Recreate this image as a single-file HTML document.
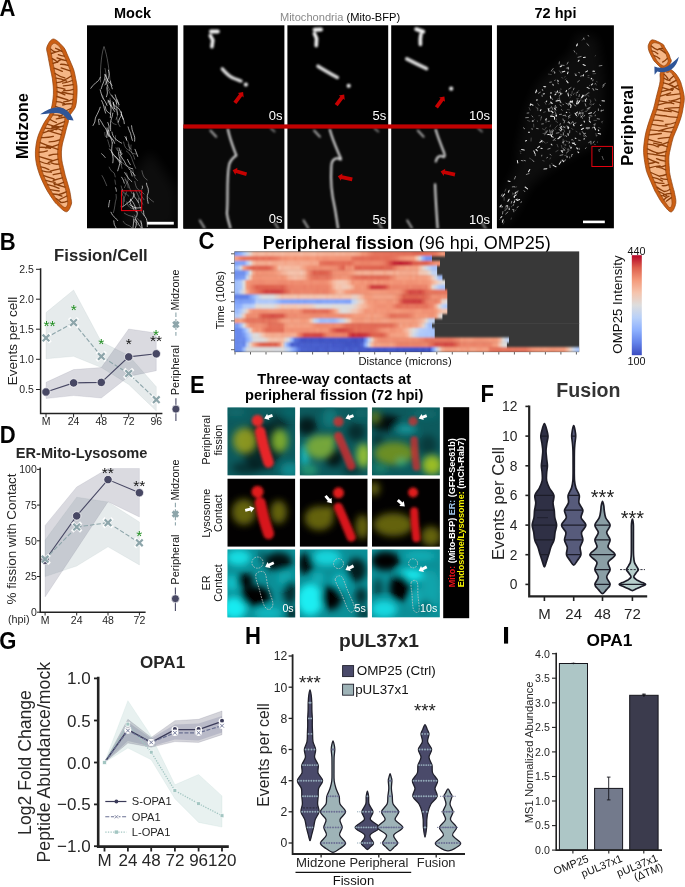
<!DOCTYPE html>
<html><head><meta charset="utf-8"><title>Figure</title>
<style>
html,body{margin:0;padding:0;background:#fff;}
body{width:685px;height:887px;overflow:hidden;font-family:"Liberation Sans",sans-serif;}
svg{display:block;font-family:"Liberation Sans",sans-serif;}
</style></head><body>
<svg width="685" height="887" viewBox="0 0 685 887">
<rect width="685" height="887" fill="#fff"/>
<g opacity="0.999">
<defs><filter id="b1" x="-20%" y="-20%" width="140%" height="140%"><feGaussianBlur stdDeviation="0.9"/></filter><filter id="b05" x="-20%" y="-20%" width="140%" height="140%"><feGaussianBlur stdDeviation="0.85"/></filter><filter id="b6" x="-30%" y="-30%" width="160%" height="160%"><feGaussianBlur stdDeviation="6"/></filter><clipPath id="cMock"><rect x="87" y="25.3" width="90.8" height="203"/></clipPath><clipPath id="c72"><rect x="496.9" y="25.3" width="117" height="203"/></clipPath><clipPath id="cTL"><rect x="183.4" y="25.3" width="308.6" height="203.3"/></clipPath></defs>
<text transform="translate(-0.47,15.9) scale(0.92,1)" font-size="24" font-weight="bold" fill="#000">A</text>
<text x="132.5" y="17.5" font-size="14.5" font-weight="bold" text-anchor="middle" fill="#000">Mock</text>
<text x="555.5" y="17.5" font-size="14.5" font-weight="bold" text-anchor="middle" fill="#000">72 hpi</text>
<text x="28.1" y="126" font-size="16.5" font-weight="bold" text-anchor="middle" fill="#000" transform="rotate(-90 28.1 126)">Midzone</text>
<text x="633.1" y="125.5" font-size="16.5" font-weight="bold" text-anchor="middle" fill="#000" transform="rotate(-90 633.1 125.5)">Peripheral</text>
<text x="279.9" y="21.2" font-size="11.1"><tspan fill="#8a8a8a">Mitochondria</tspan> <tspan fill="#000">(Mito-BFP)</tspan></text>
<path d="M53.4,39.0C56.2,39.0 61.1,44.4 63.5,47.1C65.8,49.8 66.3,52.5 67.5,55.0C68.7,57.5 69.5,59.6 70.6,62.1C71.6,64.6 73.0,67.3 73.8,70.0C74.6,72.7 75.1,75.5 75.6,78.2C76.1,80.9 76.8,83.3 77.0,86.0C77.2,88.7 77.1,91.5 77.0,94.2C76.9,96.9 76.7,99.7 76.4,102.0C76.1,104.3 75.8,106.2 75.0,108.0C74.2,109.8 72.5,111.5 71.5,113.0C70.5,114.5 69.3,115.5 68.8,117.0C68.3,118.5 68.7,120.0 68.3,122.0C67.9,124.0 66.9,126.6 66.3,129.0C65.7,131.4 65.2,133.8 64.5,136.3C63.9,138.8 62.9,141.4 62.4,144.0C61.9,146.6 61.5,149.2 61.4,151.9C61.3,154.6 61.5,157.4 61.8,160.0C62.1,162.6 62.8,164.9 63.4,167.4C64.0,169.9 64.5,172.6 65.2,175.2C65.9,177.8 66.8,180.4 67.5,183.0C68.2,185.6 69.1,188.2 69.7,190.8C70.3,193.4 70.7,196.2 71.0,198.5C71.3,200.8 72.1,202.3 71.3,204.5C70.5,206.7 68.7,211.8 66.3,211.8C63.9,211.8 59.4,206.7 57.0,204.5C54.6,202.3 53.8,200.8 52.2,198.5C50.6,196.2 48.7,193.4 47.2,190.8C45.7,188.2 44.4,185.6 43.2,183.0C42.0,180.4 40.8,177.8 39.8,175.2C38.8,172.6 38.0,169.9 37.3,167.4C36.6,164.9 36.1,162.6 35.8,160.0C35.5,157.4 35.3,154.6 35.4,151.9C35.5,149.2 35.8,146.6 36.2,144.0C36.6,141.4 37.2,138.8 38.0,136.3C38.8,133.8 39.9,131.4 41.0,129.0C42.1,126.6 43.4,124.0 44.6,122.0C45.8,120.0 47.1,118.5 48.0,117.0C48.9,115.5 49.6,114.5 50.2,113.0C50.8,111.5 51.0,109.8 51.4,108.0C51.8,106.2 52.3,104.3 52.6,102.0C52.9,99.7 53.3,96.9 53.4,94.2C53.5,91.5 53.4,88.7 53.2,86.0C53.0,83.3 52.7,80.9 52.3,78.2C51.9,75.5 51.1,72.7 50.6,70.0C50.1,67.3 49.6,64.6 49.1,62.1C48.6,59.6 48.2,57.5 47.8,55.0C47.4,52.5 46.0,49.8 46.9,47.1C47.8,44.4 50.6,39.0 53.4,39.0Z" fill="#cb5f14" stroke="#8c3e0a" stroke-width="0.7"/>
<path d="M54.4,43.3C55.9,43.3 58.1,45.1 59.7,47.1C61.3,49.1 62.5,52.5 63.7,55.0C64.9,57.5 65.8,59.6 66.8,62.1C67.8,64.6 69.2,67.3 70.0,70.0C70.8,72.7 71.3,75.5 71.8,78.2C72.3,80.9 73.0,83.3 73.2,86.0C73.4,88.7 73.3,91.5 73.2,94.2C73.1,96.9 72.9,99.7 72.6,102.0C72.3,104.3 72.0,106.2 71.2,108.0C70.4,109.8 68.7,111.5 67.7,113.0C66.7,114.5 65.5,115.5 65.0,117.0C64.5,118.5 64.9,120.0 64.5,122.0C64.1,124.0 63.1,126.6 62.5,129.0C61.9,131.4 61.4,133.8 60.7,136.3C60.1,138.8 59.1,141.4 58.6,144.0C58.1,146.6 57.7,149.2 57.6,151.9C57.5,154.6 57.7,157.4 58.0,160.0C58.3,162.6 59.0,164.9 59.6,167.4C60.2,169.9 60.7,172.6 61.4,175.2C62.1,177.8 63.0,180.4 63.7,183.0C64.5,185.6 65.3,188.2 65.9,190.8C66.5,193.4 66.9,196.2 67.2,198.5C67.5,200.8 67.9,203.0 67.5,204.5C67.1,206.0 66.2,207.6 65.1,207.6C63.9,207.6 62.3,206.0 60.8,204.5C59.3,203.0 57.6,200.8 56.0,198.5C54.4,196.2 52.5,193.4 51.0,190.8C49.5,188.2 48.2,185.6 47.0,183.0C45.8,180.4 44.6,177.8 43.6,175.2C42.6,172.6 41.8,169.9 41.1,167.4C40.4,164.9 39.9,162.6 39.6,160.0C39.3,157.4 39.1,154.6 39.2,151.9C39.3,149.2 39.6,146.6 40.0,144.0C40.4,141.4 41.0,138.8 41.8,136.3C42.6,133.8 43.7,131.4 44.8,129.0C45.9,126.6 47.2,124.0 48.4,122.0C49.6,120.0 50.9,118.5 51.8,117.0C52.7,115.5 53.4,114.5 54.0,113.0C54.6,111.5 54.8,109.8 55.2,108.0C55.6,106.2 56.1,104.3 56.4,102.0C56.7,99.7 57.1,96.9 57.2,94.2C57.3,91.5 57.2,88.7 57.0,86.0C56.8,83.3 56.5,80.9 56.1,78.2C55.7,75.5 54.9,72.7 54.4,70.0C53.9,67.3 53.4,64.6 52.9,62.1C52.4,59.6 52.0,57.5 51.6,55.0C51.2,52.5 50.2,49.1 50.7,47.1C51.2,45.1 52.9,43.3 54.4,43.3Z" fill="#f5b686" stroke="#8c3e0a" stroke-width="0.6"/>
<path d="M50.9,49.1q2.3,2.5 4.7,2.9M61.9,51.4q-3.1,-2.1 -6.3,-3.1M51.4,53.5q4.1,-1.6 8.3,-2.6M64.2,56.2q-2.9,-0.2 -5.9,-1.5M52.3,58.7q2.7,1.3 5.5,3.7M66.2,60.6q-4.6,-0.8 -9.2,-2.7M53.1,63.4q3.7,-0.8 7.5,-3.8M68.1,65.4q-3.8,-1.2 -7.6,-1.1M54.1,68.2q4.1,1.4 8.2,3.2M70.2,70.8q-4.6,-1.2 -9.1,-2.9M55.1,73.5q4.8,3.3 9.7,4.3M71.3,76.0q-3.5,2.5 -7.1,4.0M56.1,78.1q5.2,0.6 10.5,3.0M72.2,80.5q-4.8,2.1 -9.6,2.7M56.6,82.7q3.6,-0.1 7.2,-2.0M73.0,84.7q-4.8,0.7 -9.6,1.2M57.0,87.4q4.0,0.5 7.9,1.8M73.2,89.4q-4.8,1.7 -9.5,1.1M57.1,91.5q3.9,1.3 7.8,3.4M73.2,94.3q-5.5,-0.3 -11.0,-2.3M57.0,96.5q5.4,2.0 10.9,3.4M72.8,99.3q-4.5,2.3 -9.1,2.5M56.4,101.6q3.9,-0.1 7.8,2.1M72.2,103.9q-4.7,-0.5 -9.5,1.1M55.5,106.3q4.4,2.0 8.8,3.4M70.9,108.5q-4.4,2.6 -8.8,3.1M54.6,110.6q4.0,0.8 8.1,3.1M67.9,112.7q-4.5,1.5 -8.9,4.0M53.0,114.9q4.4,0.1 8.7,1.1M65.0,117.0q-4.3,1.3 -8.7,1.8M50.1,119.5q3.2,2.0 6.3,3.1M64.5,121.6q-5.2,1.8 -10.5,4.4M47.3,124.1q5.7,2.0 11.3,2.6M63.4,126.0q-6.0,1.9 -12.0,2.1M45.2,128.2q5.8,0.9 11.6,1.3M62.1,130.5q-5.1,-2.4 -10.2,-4.0M43.3,132.8q4.9,-2.0 9.8,-2.4M61.1,134.7q-6.5,-1.9 -13.1,-4.1M41.5,137.5q5.9,0.3 11.9,-1.1M59.7,139.9q-5.3,1.9 -10.6,2.0M40.3,142.6q6.3,2.9 12.6,4.4M58.5,144.6q-6.4,2.7 -12.8,3.4M39.7,147.3q5.4,-0.3 10.8,1.0M57.9,149.4q-5.7,-2.5 -11.3,-2.8M39.2,152.2q4.0,0.0 8.0,-1.4M57.7,154.1q-4.3,-0.1 -8.7,1.4M39.4,156.7q6.4,1.9 12.8,3.8M58.0,159.1q-4.9,1.3 -9.7,3.6M39.9,161.5q4.9,2.2 9.9,2.7M58.9,164.1q-3.8,0.6 -7.7,-1.2M41.0,166.8q4.0,0.6 7.9,2.8M59.9,168.8q-4.8,0.8 -9.6,2.4M42.2,170.8q4.6,1.2 9.2,1.4M60.9,173.1q-3.8,0.7 -7.7,1.6M43.8,175.6q5.1,1.9 10.2,3.2M62.2,177.8q-4.5,1.2 -9.0,2.7M45.9,180.4q4.7,1.4 9.3,1.9M63.5,182.3q-4.5,2.3 -9.0,2.5M47.8,184.6q5.6,1.0 11.2,3.8M64.9,187.1q-5.5,-1.4 -11.0,-3.6M50.4,189.6q4.4,0.6 8.8,1.4M66.1,191.8q-3.8,1.8 -7.6,2.8M53.1,194.0q4.4,-0.0 8.8,2.2M66.8,196.0q-3.4,1.9 -6.9,3.4M56.1,198.6q2.3,0.9 4.6,3.7M67.3,201.2q-3.2,1.5 -6.4,1.2" fill="none" stroke="#8c3e0a" stroke-width="1.35" stroke-linecap="round"/>
<path d="M40.2,114.2 C46,110 52,107.2 58,107.2 C65,107.5 71,112.5 73.6,120.6 L67.4,119.8 C65,115.5 61.5,113.2 57,113 C51,112.8 46,114.4 40.2,114.2Z" fill="#2f5597"/>
<path d="M652.5,39.8C654.8,39.8 660.5,42.8 662.5,44.0C664.5,45.2 663.9,45.9 664.6,47.0C665.3,48.1 666.1,49.3 666.8,50.5C667.5,51.7 668.3,52.8 668.9,54.0C669.5,55.2 669.9,56.7 670.2,58.0C670.6,59.3 672.0,60.1 671.0,62.0C670.0,63.9 667.2,69.5 664.5,69.5C661.8,69.5 657.0,63.9 655.0,62.0C653.0,60.1 653.2,59.3 652.4,58.0C651.6,56.7 650.9,55.2 650.3,54.0C649.7,52.8 649.1,51.7 648.8,50.5C648.4,49.3 648.2,48.1 648.2,47.0C648.2,45.9 648.1,45.2 648.8,44.0C649.5,42.8 650.2,39.8 652.5,39.8Z" fill="#cb5f14" stroke="#8c3e0a" stroke-width="0.7"/>
<path d="M654.7,42.7C655.9,42.7 658.3,43.3 659.5,44.0C660.7,44.7 660.9,45.9 661.6,47.0C662.3,48.1 663.1,49.3 663.8,50.5C664.5,51.7 665.3,52.8 665.9,54.0C666.5,55.2 666.9,56.7 667.2,58.0C667.6,59.3 668.6,60.7 668.0,62.0C667.4,63.3 665.5,66.0 663.8,66.0C662.1,66.0 659.4,63.3 658.0,62.0C656.6,60.7 656.2,59.3 655.4,58.0C654.6,56.7 653.9,55.2 653.3,54.0C652.7,52.8 652.1,51.7 651.8,50.5C651.4,49.3 651.2,48.1 651.2,47.0C651.2,45.9 651.2,44.7 651.8,44.0C652.4,43.3 653.4,42.7 654.7,42.7Z" fill="#f5b686" stroke="#8c3e0a" stroke-width="0.6"/>
<path d="M651.4,46.0q2.8,2.6 5.7,3.6M662.6,48.6q-2.7,-0.3 -5.3,1.2M652.0,50.9q2.9,0.3 5.8,2.9M665.3,53.0q-3.0,-2.9 -6.1,-4.2M654.2,55.6q2.7,0.7 5.5,3.2M667.3,58.4q-2.3,2.7 -4.7,3.7" fill="none" stroke="#8c3e0a" stroke-width="1.35" stroke-linecap="round"/>
<path d="M667.0,68.2C669.3,68.2 672.4,70.3 674.5,72.3C676.6,74.3 678.5,77.6 679.8,80.0C681.0,82.4 681.2,83.7 682.0,86.6C682.8,89.5 684.1,93.9 684.3,97.6C684.5,101.3 683.5,105.3 683.0,108.6C682.5,111.9 682.0,114.2 681.0,117.5C680.0,120.8 678.3,125.2 677.0,128.5C675.7,131.8 674.4,134.0 673.3,137.3C672.2,140.6 671.2,145.0 670.5,148.3C669.8,151.6 669.1,153.7 668.9,157.0C668.7,160.3 669.1,165.2 669.3,168.1C669.5,171.0 669.4,171.4 670.0,174.7C670.6,178.0 672.5,185.0 673.2,187.9C673.9,190.8 674.0,189.7 674.4,192.3C674.8,194.9 676.4,200.0 675.8,203.3C675.2,206.6 673.2,212.0 671.0,212.0C668.8,212.0 664.9,206.6 662.3,203.3C659.7,200.0 657.1,194.9 655.6,192.3C654.1,189.7 654.8,190.8 653.5,187.9C652.2,185.0 649.1,178.0 647.8,174.7C646.5,171.4 646.4,171.0 645.8,168.1C645.2,165.2 644.4,160.3 644.0,157.0C643.6,153.7 643.5,151.6 643.6,148.3C643.8,145.0 644.4,140.6 644.9,137.3C645.4,134.0 646.0,131.8 646.9,128.5C647.8,125.2 649.3,120.8 650.4,117.5C651.5,114.2 652.5,111.9 653.5,108.6C654.5,105.3 655.3,101.3 656.2,97.6C657.1,93.9 658.3,89.5 659.0,86.6C659.7,83.7 660.0,82.4 660.2,80.0C660.5,77.6 659.4,74.3 660.5,72.3C661.6,70.3 664.7,68.2 667.0,68.2Z" fill="#cb5f14" stroke="#8c3e0a" stroke-width="0.7"/>
<path d="M667.5,72.6C668.6,72.6 669.3,71.1 670.7,72.3C672.1,73.5 674.8,77.6 676.0,80.0C677.2,82.4 677.5,83.7 678.2,86.6C679.0,89.5 680.3,93.9 680.5,97.6C680.7,101.3 679.8,105.3 679.2,108.6C678.7,111.9 678.2,114.2 677.2,117.5C676.2,120.8 674.5,125.2 673.2,128.5C671.9,131.8 670.6,134.0 669.5,137.3C668.4,140.6 667.4,145.0 666.7,148.3C666.0,151.6 665.3,153.7 665.1,157.0C664.9,160.3 665.3,165.2 665.5,168.1C665.7,171.0 665.6,171.4 666.2,174.7C666.9,178.0 668.7,185.0 669.4,187.9C670.1,190.8 670.2,189.7 670.6,192.3C671.0,194.9 672.1,200.7 672.0,203.3C671.9,205.9 671.0,207.7 670.0,207.7C669.1,207.7 667.9,205.9 666.1,203.3C664.3,200.7 660.9,194.9 659.4,192.3C657.9,189.7 658.6,190.8 657.3,187.9C656.0,185.0 652.9,178.0 651.6,174.7C650.3,171.4 650.2,171.0 649.6,168.1C649.0,165.2 648.2,160.3 647.8,157.0C647.4,153.7 647.2,151.6 647.4,148.3C647.5,145.0 648.1,140.6 648.7,137.3C649.2,134.0 649.8,131.8 650.7,128.5C651.6,125.2 653.1,120.8 654.2,117.5C655.3,114.2 656.3,111.9 657.3,108.6C658.3,105.3 659.1,101.3 660.0,97.6C660.9,93.9 662.1,89.5 662.8,86.6C663.5,83.7 663.8,82.4 664.0,80.0C664.2,77.6 663.7,73.5 664.3,72.3C664.9,71.1 666.5,72.6 667.5,72.6Z" fill="#f5b686" stroke="#8c3e0a" stroke-width="0.6"/>
<path d="M664.2,74.3q1.9,1.4 3.7,4.4M673.4,76.2q-2.1,1.7 -4.1,3.8M664.1,78.2q3.0,2.1 5.9,2.4M676.1,80.4q-3.4,1.9 -6.8,3.7M663.5,82.8q4.6,0.8 9.3,3.5M677.8,85.4q-3.9,2.3 -7.7,3.9M662.5,87.6q4.9,1.6 9.9,2.7M678.8,89.6q-3.5,-1.7 -7.1,-4.3M661.5,91.7q6.0,-1.8 12.0,-2.6M679.7,93.9q-6.4,0.8 -12.8,1.5M660.4,96.1q5.1,-1.6 10.2,-3.3M680.4,98.1q-4.6,2.2 -9.2,2.9M659.2,100.8q7.2,0.8 14.5,2.9M679.9,102.7q-5.4,-1.6 -10.8,-1.9M658.2,104.9q6.7,-2.2 13.4,-2.5M679.3,107.6q-7.3,0.1 -14.6,1.1M657.0,109.5q7.1,1.3 14.2,2.2M678.4,112.3q-5.0,-1.7 -9.9,-3.0M655.2,114.7q5.6,1.1 11.2,1.3M677.3,117.3q-6.5,-0.3 -13.1,-1.5M653.4,120.1q4.8,0.1 9.6,1.1M675.4,122.5q-5.0,2.1 -10.0,2.0M652.0,124.4q7.6,1.8 15.1,1.7M673.7,127.1q-7.4,1.2 -14.9,3.9M650.4,129.9q6.0,0.6 12.0,1.3M671.6,132.2q-4.9,-0.4 -9.8,-1.4M649.3,134.8q6.0,-0.5 12.0,-1.3M669.5,137.4q-5.7,0.5 -11.3,1.2M648.5,139.4q6.5,2.1 13.0,3.5M668.3,142.1q-5.7,2.2 -11.5,4.4M647.9,144.2q5.2,0.2 10.4,2.8M667.1,146.7q-6.7,-2.5 -13.5,-3.6M647.4,148.9q5.5,2.9 11.0,4.4M666.1,151.4q-4.7,1.7 -9.3,2.1M647.6,153.6q6.1,0.6 12.1,1.7M665.3,156.0q-6.1,-0.6 -12.2,-1.7M648.1,158.7q5.3,2.9 10.6,4.3M665.2,161.1q-4.3,-0.5 -8.7,-2.5M648.9,163.5q3.5,-0.2 7.0,-1.6M665.4,165.6q-4.3,1.9 -8.7,1.4M649.5,167.8q5.3,-1.6 10.6,-1.9M665.7,169.9q-3.7,-2.0 -7.5,-2.8M650.9,172.5q4.4,1.9 8.9,3.9M666.2,174.5q-3.2,1.3 -6.4,1.3M652.7,177.3q4.9,0.7 9.8,3.8M667.3,179.4q-3.3,0.2 -6.6,-1.3M654.8,182.1q4.6,1.5 9.2,1.3M668.6,184.6q-3.2,1.4 -6.4,1.1M656.9,187.1q3.2,2.5 6.3,3.9M669.8,189.5q-3.0,2.1 -5.9,2.0M659.0,191.5q3.9,1.9 7.8,4.2M670.8,193.5q-3.6,-0.2 -7.3,1.5M661.4,195.6q2.4,-0.1 4.7,1.6M671.3,197.6q-2.5,1.9 -5.0,3.6M663.9,199.8q2.6,-2.7 5.2,-3.6" fill="none" stroke="#8c3e0a" stroke-width="1.35" stroke-linecap="round"/>
<path d="M654.4,66.5 C659,68.5 664,68.3 668,66 C672.5,63.3 675.5,60 678.9,56.8 C677.8,62 675.4,66.8 671.4,69.6 C666.8,72.6 661,72.6 657.3,71.6 L654.6,74.8Z" fill="#2f5597"/>
<rect x="87" y="25.3" width="90.8" height="203" fill="#000"/>
<g clip-path="url(#cMock)">
<polygon points="150,150 177,190 177,228 120,228 125,190" fill="#fff" opacity="0.05" filter="url(#b6)"/>
<path d="M100.5,82 C100,65 102,52 104,46.5 C106,52 108.5,62 110,80M109.0,135.3C109.3,135.7 110.2,136.9 110.9,137.7C111.5,138.5 112.5,139.7 112.8,140.1M117.2,147.6C117.3,147.9 117.7,148.7 117.8,149.2C118.0,149.8 118.1,150.7 118.2,151.0M105.4,78.4C105.6,79.0 106.2,81.0 106.6,82.3C107.1,83.7 107.4,85.0 108.0,86.3C108.5,87.6 109.5,89.4 109.8,90.0M112.2,101.4C112.5,101.9 113.4,103.6 113.9,104.8C114.4,106.0 114.7,107.3 115.2,108.5C115.7,109.7 116.6,110.7 117.0,111.9C117.3,113.1 117.6,114.5 117.4,115.8C117.3,117.0 116.2,118.7 116.0,119.3M112.5,154.7C113.0,155.2 114.3,156.6 115.2,157.5C116.2,158.4 117.3,159.2 118.3,160.0C119.4,160.8 120.5,161.4 121.6,162.2C122.6,163.0 123.7,163.8 124.7,164.6C125.7,165.4 127.3,166.6 127.8,167.0M102.0,175.6C102.3,176.1 103.3,177.7 103.8,178.8C104.4,179.9 104.8,181.1 105.3,182.3C105.8,183.4 106.5,185.1 106.7,185.7M134.8,181.4C135.0,182.1 135.3,184.1 135.7,185.4C136.2,186.7 136.7,188.1 137.6,189.1C138.5,190.1 140.0,190.4 141.1,191.3C142.2,192.1 143.6,193.6 144.1,194.1M126.8,201.9C127.0,202.5 127.5,204.8 128.4,205.9C129.2,207.0 130.5,208.0 131.8,208.4C133.1,208.8 135.4,208.2 136.1,208.2M114.9,180.0C115.0,180.3 115.1,181.4 115.2,182.2C115.3,182.9 115.5,184.0 115.6,184.3M107.7,139.9C107.9,140.5 108.4,142.3 108.7,143.4C109.1,144.6 109.6,146.4 109.7,147.0M124.7,192.6C125.0,192.9 126.0,193.7 126.7,194.3C127.3,194.9 128.3,195.8 128.7,196.1M115.6,135.7C115.6,136.1 115.2,137.5 115.3,138.4C115.3,139.2 115.8,140.5 115.9,141.0M124.3,213.1C125.0,213.5 127.0,214.8 128.5,215.4C129.9,215.9 132.2,216.4 133.0,216.6M134.4,215.0C134.9,215.6 136.2,217.6 137.2,218.7C138.2,219.9 139.9,220.6 140.6,221.9C141.3,223.1 141.3,225.7 141.4,226.4M121.9,193.1C122.2,193.8 123.1,195.7 123.5,197.1C123.9,198.5 124.1,200.7 124.2,201.4M138.4,198.1C138.4,198.7 138.3,200.6 138.5,201.9C138.7,203.2 139.1,204.4 139.5,205.6C139.8,206.8 140.2,208.1 140.6,209.3C141.0,210.5 141.2,211.8 141.9,212.9C142.5,213.9 144.0,215.2 144.4,215.7M140.3,198.7C140.4,199.2 140.3,201.0 140.8,201.9C141.2,202.8 142.6,203.9 143.0,204.3M116.0,147.9C116.3,148.4 117.0,149.9 117.7,150.7C118.4,151.5 119.7,152.5 120.1,152.9M105.4,79.2C105.5,79.7 106.0,81.3 105.8,82.2C105.7,83.2 104.9,84.6 104.7,85.1M131.1,145.0C131.0,145.7 130.7,147.5 130.8,148.8C130.9,150.0 131.2,151.3 131.6,152.4C132.1,153.6 133.0,154.5 133.5,155.6C134.1,156.8 134.5,158.6 134.7,159.2M123.2,221.2C123.6,221.7 124.6,223.5 125.6,224.2C126.7,225.0 128.2,225.0 129.3,225.7C130.4,226.4 131.4,227.3 132.2,228.3C133.0,229.3 133.9,231.1 134.2,231.6M121.2,186.0C121.4,186.7 121.8,188.9 122.4,190.2C122.9,191.6 124.1,193.4 124.5,194.1M133.0,169.9C133.1,170.6 133.1,172.6 133.4,173.9C133.8,175.2 134.3,176.5 134.9,177.6C135.6,178.8 137.2,180.1 137.6,180.6M126.4,151.1C126.9,151.5 128.5,152.7 129.4,153.7C130.2,154.7 130.8,156.0 131.4,157.2C131.9,158.4 132.3,159.7 132.7,160.9C133.2,162.1 133.6,163.4 134.1,164.6C134.6,165.9 135.5,167.7 135.7,168.3M106.8,87.9C107.2,88.4 108.3,90.0 109.0,91.1C109.6,92.2 109.9,93.5 110.5,94.6C111.2,95.6 112.0,96.7 112.8,97.6C113.6,98.6 114.6,99.4 115.5,100.3C116.5,101.1 118.0,102.3 118.5,102.7M116.8,107.9C116.8,108.5 117.0,110.3 117.1,111.5C117.2,112.7 117.3,114.5 117.4,115.1M126.5,173.0C126.7,173.6 127.4,175.5 127.7,176.8C127.9,178.0 128.3,179.5 128.0,180.7C127.8,181.9 126.7,183.0 126.1,184.1C125.5,185.3 124.7,187.1 124.4,187.7M105.0,68.4C105.2,69.1 105.6,71.1 105.8,72.4C106.1,73.7 106.1,75.1 106.4,76.4C106.7,77.7 107.5,79.6 107.7,80.3M124.9,179.4C125.3,180.1 126.7,182.0 127.3,183.4C127.8,184.7 128.1,187.1 128.2,187.8M111.0,121.2C111.4,121.6 112.3,123.0 113.2,123.5C114.1,124.1 115.7,124.3 116.2,124.5M119.2,150.6C119.5,150.9 120.2,151.7 120.8,152.2C121.3,152.7 122.2,153.4 122.5,153.6M109.2,167.1C109.5,167.7 110.2,169.6 111.1,170.6C111.9,171.6 113.5,172.0 114.2,173.1C114.8,174.1 115.0,176.3 115.2,176.9M123.6,142.0C123.7,142.6 124.1,144.4 124.6,145.6C125.0,146.7 125.6,147.9 126.5,148.7C127.3,149.6 128.7,149.9 129.6,150.7C130.6,151.4 131.3,152.6 132.4,153.2C133.5,153.7 135.4,153.9 136.0,154.0M102.5,95.1C102.6,95.4 102.9,96.4 103.1,97.0C103.2,97.7 103.4,98.7 103.4,99.0M110.4,100.1C110.4,100.6 110.4,102.1 110.6,103.1C110.8,104.1 111.4,105.4 111.6,105.9M116.0,194.4C116.0,195.0 116.4,196.9 116.3,198.1C116.2,199.3 115.7,200.5 115.4,201.7C115.2,202.9 115.1,204.1 114.9,205.4C114.7,206.6 114.6,207.8 114.3,209.0C114.1,210.2 113.6,212.0 113.4,212.6M126.6,191.8C126.4,192.4 125.8,194.1 125.4,195.2C125.0,196.3 124.4,197.3 124.1,198.5C123.8,199.6 123.9,200.8 123.7,202.0C123.6,203.2 123.3,204.9 123.2,205.5M124.7,177.6C124.9,178.1 125.8,179.6 126.4,180.7C127.0,181.7 127.7,182.6 128.2,183.7C128.7,184.8 129.0,185.9 129.4,187.1C129.8,188.2 130.1,189.3 130.5,190.4C131.0,191.5 132.0,193.0 132.2,193.6M139.2,191.5C139.6,192.2 140.5,194.4 141.3,195.7C142.1,197.1 143.6,198.9 144.0,199.6M128.3,144.5C128.4,145.0 128.5,146.5 129.0,147.3C129.5,148.0 130.8,148.8 131.2,149.1M106.1,75.5C106.3,76.2 106.6,78.3 106.9,79.7C107.3,81.1 108.1,83.1 108.4,83.8M121.0,150.0C120.9,150.6 120.7,152.5 120.7,153.7C120.6,154.9 120.7,156.2 120.8,157.4C120.9,158.6 121.1,159.8 121.2,161.1C121.3,162.3 121.1,163.5 121.2,164.8C121.4,166.0 121.9,167.8 122.0,168.4M107.9,101.0C107.9,101.3 108.0,102.3 107.7,102.8C107.5,103.3 106.6,103.8 106.4,104.0M141.9,170.7C142.0,171.3 142.4,173.1 142.8,174.2C143.2,175.4 143.7,176.6 144.4,177.5C145.1,178.5 146.7,179.5 147.2,179.9M127.6,140.7C127.9,141.5 128.9,143.8 129.2,145.4C129.5,147.0 129.4,149.6 129.4,150.4M117.0,100.2C116.9,100.8 116.6,102.6 116.6,103.8C116.6,105.0 116.9,106.1 116.9,107.3C117.0,108.5 116.9,109.7 117.1,110.9C117.2,112.1 117.7,113.8 117.9,114.4M148.7,197.7C149.1,198.1 150.2,199.3 151.0,200.0C151.8,200.7 153.2,201.6 153.6,201.9M110.0,98.2C110.0,98.8 110.0,100.6 110.2,101.7C110.4,102.9 110.7,104.1 111.3,105.1C111.8,106.2 112.5,107.3 113.3,108.1C114.2,108.8 116.0,109.4 116.5,109.6M117.0,99.1C117.2,99.7 118.2,101.4 118.5,102.7C118.8,103.9 118.8,105.9 118.8,106.5M111.8,152.1C112.3,152.6 113.5,154.2 114.4,155.3C115.2,156.3 116.3,157.2 117.0,158.4C117.8,159.5 118.1,160.9 118.9,162.0C119.7,163.1 121.3,164.3 121.8,164.8M132.9,216.1C133.2,217.0 133.5,219.7 134.3,221.2C135.1,222.7 137.3,224.4 137.9,225.1M104.8,132.4C104.8,132.8 104.8,133.8 104.9,134.5C105.0,135.2 105.3,136.2 105.4,136.6M135.7,190.2C136.0,190.9 136.9,193.0 137.6,194.4C138.2,195.7 138.8,197.1 139.5,198.4C140.3,199.8 141.5,201.6 141.9,202.3M116.7,117.6C116.9,118.4 117.3,120.8 117.8,122.3C118.4,123.8 119.6,125.9 120.0,126.6" fill="none" stroke="#fff" stroke-width="0.6" opacity="0.5" stroke-linecap="round"/>
<path d="M100.3,77.2C100.0,77.8 99.3,79.6 98.6,80.5C97.8,81.4 96.6,82.0 95.7,82.8C94.8,83.7 93.9,84.5 93.1,85.4C92.2,86.3 91.1,87.8 90.8,88.3M112.3,143.0C112.3,143.6 112.0,145.6 111.9,146.9C111.8,148.3 111.6,149.6 111.7,150.9C111.8,152.2 112.2,153.5 112.5,154.8C112.7,156.1 113.1,157.5 113.1,158.8C113.2,160.1 112.9,162.1 112.8,162.8M142.3,186.1C142.3,186.4 142.6,187.1 142.5,187.6C142.5,188.1 142.0,188.8 141.9,189.0M113.8,220.8C113.9,221.5 114.0,223.6 114.4,224.8C114.8,226.1 116.1,227.1 116.3,228.4C116.5,229.7 116.0,231.1 115.8,232.4C115.6,233.8 115.3,235.8 115.2,236.5M110.5,80.9C110.6,81.5 110.8,83.6 111.1,84.9C111.4,86.2 112.1,88.2 112.3,88.8M109.7,200.4C109.6,200.9 109.2,202.6 109.0,203.6C108.8,204.7 108.7,206.4 108.6,206.9M113.5,102.4C113.5,102.9 113.5,104.6 113.7,105.6C113.8,106.6 114.4,108.1 114.5,108.6M101.6,100.6C101.9,101.3 102.9,103.3 103.3,104.6C103.8,106.0 104.0,107.5 104.4,108.9C104.8,110.3 105.4,112.4 105.6,113.1M118.5,152.6C118.6,153.2 118.9,155.1 119.1,156.3C119.4,157.5 119.9,158.7 120.0,159.9C120.1,161.1 119.9,162.4 119.7,163.6C119.5,164.8 119.1,166.0 118.8,167.2C118.4,168.4 117.8,170.2 117.7,170.8M115.2,94.8C115.4,95.4 115.8,97.1 116.2,98.2C116.5,99.3 116.9,100.4 117.4,101.5C117.9,102.5 118.9,104.0 119.1,104.5M121.6,177.2C121.9,177.7 122.8,179.1 123.3,180.1C123.7,181.1 124.2,182.7 124.3,183.2M112.8,113.1C112.7,113.7 112.4,115.4 112.1,116.6C111.8,117.7 111.2,118.8 111.0,120.0C110.7,121.1 110.7,122.3 110.6,123.5C110.5,124.7 110.6,125.9 110.6,127.1C110.6,128.3 110.6,130.1 110.6,130.7M133.6,192.8C133.7,193.4 133.8,195.3 134.3,196.4C134.8,197.5 135.8,198.4 136.5,199.4C137.2,200.4 138.1,202.0 138.4,202.5M105.1,106.1C105.4,106.9 105.7,109.5 106.6,110.8C107.4,112.0 109.7,113.3 110.3,113.8M109.6,149.0C110.0,149.5 111.1,150.8 111.7,151.8C112.3,152.8 112.8,154.0 113.5,154.8C114.2,155.7 115.3,156.3 116.2,157.1C117.0,157.9 117.7,158.8 118.5,159.7C119.3,160.6 120.4,162.0 120.8,162.4M120.2,154.8C120.5,155.4 121.5,157.0 122.2,158.1C122.9,159.2 123.7,160.3 124.4,161.4C125.0,162.5 125.4,163.8 126.2,164.9C126.9,165.9 127.9,166.9 129.0,167.5C130.1,168.2 132.0,168.6 132.7,168.8M135.0,149.3C135.3,149.9 136.0,151.6 136.4,152.8C136.8,154.0 137.5,155.8 137.7,156.4M134.1,194.1C133.9,194.7 133.5,196.6 132.9,197.7C132.3,198.7 131.3,199.7 130.5,200.6C129.6,201.4 128.6,202.2 127.6,203.0C126.6,203.8 125.7,204.5 124.7,205.3C123.7,206.0 122.1,207.1 121.6,207.4M98.4,119.6C98.4,120.0 98.6,121.2 98.8,122.1C98.9,122.9 99.2,124.2 99.2,124.6M130.9,199.9C131.3,200.4 132.6,201.7 133.2,202.7C133.9,203.7 134.4,204.9 134.9,206.0C135.3,207.1 135.5,208.4 135.9,209.5C136.4,210.7 137.2,211.7 137.3,212.9C137.4,214.1 136.7,215.9 136.6,216.5M109.2,100.8C109.4,101.5 110.2,103.5 110.5,104.9C110.8,106.2 111.0,107.7 111.0,109.1C111.0,110.5 110.7,112.0 110.6,113.4C110.5,114.8 110.3,116.9 110.3,117.7M124.7,172.5C125.0,173.1 126.0,174.8 126.8,175.8C127.5,176.9 128.2,178.0 129.0,178.9C129.9,179.9 131.4,181.2 131.8,181.6M111.0,212.2C111.3,212.7 112.0,214.4 112.7,215.4C113.4,216.3 114.5,217.0 115.3,217.9C116.1,218.7 117.3,220.1 117.7,220.6M127.6,159.4C127.8,159.8 128.3,161.2 128.8,162.1C129.3,163.0 130.2,164.3 130.4,164.7M140.8,220.8C140.9,221.4 141.4,223.1 141.7,224.3C141.9,225.5 142.1,227.4 142.2,228.0M146.5,183.2C146.5,183.6 146.7,184.6 146.9,185.3C147.1,186.0 147.5,187.0 147.6,187.3M135.8,219.7C136.2,220.2 137.4,221.7 138.0,222.8C138.7,223.9 139.0,225.2 139.7,226.2C140.5,227.2 141.7,227.9 142.5,228.9C143.2,229.8 144.0,231.6 144.3,232.2M111.6,95.0C111.9,95.5 112.9,96.9 113.6,97.9C114.3,98.8 115.2,99.6 115.7,100.7C116.2,101.7 116.5,103.5 116.7,104.0M148.0,188.0C148.1,188.7 148.5,190.6 148.4,191.9C148.3,193.1 147.5,194.3 147.3,195.6C147.2,196.9 147.3,198.2 147.4,199.5C147.6,200.7 148.1,202.6 148.2,203.3M107.8,122.5C108.0,123.1 108.8,124.9 109.0,126.2C109.1,127.5 109.0,128.9 108.7,130.1C108.4,131.3 107.4,132.4 107.1,133.7C106.8,134.9 106.8,136.9 106.8,137.6M108.9,130.7C108.9,131.3 108.9,133.2 109.2,134.3C109.6,135.4 110.3,136.3 111.0,137.3C111.7,138.3 112.6,139.1 113.2,140.1C113.8,141.1 114.4,142.7 114.6,143.3M105.2,74.7C105.1,75.3 105.0,77.2 104.7,78.4C104.5,79.5 104.1,80.7 103.7,81.9C103.3,83.0 102.8,84.1 102.3,85.3C101.9,86.4 101.4,88.2 101.2,88.8M143.6,210.8C143.7,211.5 143.5,213.7 143.9,215.0C144.3,216.2 145.7,217.1 146.2,218.4C146.8,219.6 146.9,221.1 147.1,222.5C147.3,223.8 147.3,225.9 147.3,226.6M129.7,204.7C130.3,205.1 132.0,206.4 133.2,206.9C134.4,207.5 135.8,207.9 137.1,208.0C138.4,208.1 140.5,207.6 141.2,207.5M135.0,217.2C135.2,217.8 136.0,219.8 136.2,221.2C136.3,222.5 136.4,224.0 136.2,225.3C135.9,226.7 135.3,228.0 134.7,229.2C134.0,230.4 132.6,232.0 132.2,232.6M115.5,187.7C115.6,188.0 115.9,188.8 116.1,189.4C116.2,190.0 116.4,190.9 116.4,191.2M130.6,199.1C130.5,199.7 129.9,201.7 130.1,202.8C130.4,204.0 131.6,204.9 132.2,206.1C132.8,207.2 133.0,208.5 133.7,209.5C134.5,210.5 136.2,211.5 136.7,211.9M122.2,189.9C122.1,190.6 121.6,192.7 121.5,194.1C121.4,195.5 121.5,196.9 121.6,198.3C121.6,199.8 121.7,201.2 121.7,202.6C121.7,204.0 121.4,206.1 121.3,206.8M104.8,74.3C105.1,75.0 106.0,77.1 106.7,78.4C107.4,79.8 108.7,81.7 109.1,82.3M126.1,136.8C126.1,137.1 126.2,137.9 126.3,138.4C126.4,138.9 126.5,139.7 126.5,140.0M113.2,103.5C113.6,104.0 114.8,105.6 115.7,106.5C116.6,107.3 118.0,107.7 118.8,108.6C119.6,109.6 120.1,110.8 120.6,112.0C121.2,113.1 121.6,114.3 122.0,115.5C122.4,116.7 122.9,118.6 123.1,119.2M130.6,171.8C130.7,172.1 131.3,173.1 131.5,173.8C131.8,174.5 132.0,175.7 132.1,176.0M107.1,127.9C107.2,128.6 107.3,130.6 107.6,131.9C108.0,133.2 108.6,134.4 109.2,135.6C109.8,136.8 110.7,137.8 111.2,139.0C111.7,140.2 112.2,142.2 112.3,142.9M128.1,126.9C128.3,127.5 128.7,129.2 129.2,130.3C129.6,131.4 130.3,132.4 130.6,133.5C131.0,134.7 131.1,135.9 131.4,137.0C131.7,138.2 132.2,139.9 132.4,140.4M99.5,119.1C99.8,119.7 101.0,121.3 101.7,122.4C102.4,123.5 102.9,124.8 103.6,125.9C104.3,127.0 105.4,127.9 106.0,129.0C106.6,130.2 106.6,131.6 107.1,132.8C107.6,134.0 108.4,135.8 108.7,136.4M128.8,168.7C129.4,169.2 131.2,170.7 132.3,171.9C133.3,173.1 134.6,175.1 135.1,175.8M107.4,85.2C107.3,85.8 107.0,87.8 107.0,89.1C107.0,90.4 107.5,91.7 107.4,93.0C107.3,94.3 106.6,96.2 106.4,96.8M112.0,132.0C112.2,132.6 112.4,134.6 113.0,135.7C113.5,136.9 114.4,137.9 115.3,138.8C116.2,139.7 117.3,140.4 118.3,141.2C119.4,141.9 121.1,142.8 121.6,143.1M109.7,82.2C109.9,82.4 110.5,83.2 110.8,83.7C111.2,84.2 111.8,85.0 112.0,85.3M101.6,153.8C101.9,154.1 103.0,154.9 103.6,155.5C104.1,156.1 104.8,157.2 105.1,157.5M121.2,114.6C121.6,115.3 122.9,117.4 123.4,119.0C124.0,120.5 124.2,122.9 124.3,123.7M121.4,111.9C121.4,112.5 121.7,114.4 121.3,115.5C121.0,116.7 119.9,117.6 119.4,118.7C118.9,119.8 118.6,121.6 118.4,122.2M108.4,70.1C108.5,70.7 109.1,72.6 109.1,73.8C109.1,75.1 108.9,76.4 108.6,77.6C108.2,78.8 107.5,79.8 107.0,81.0C106.6,82.2 106.1,84.0 105.9,84.6M119.0,148.0C119.2,148.6 119.7,150.3 120.2,151.4C120.6,152.5 121.4,154.2 121.7,154.7M100.2,107.2C100.0,107.8 99.3,109.7 98.8,110.9C98.3,112.1 97.7,113.3 97.1,114.5C96.5,115.7 95.8,116.8 95.4,118.1C95.0,119.3 95.2,120.7 94.8,122.0C94.4,123.2 93.3,124.9 93.0,125.5M108.2,100.2C108.4,100.9 108.9,103.1 109.6,104.4C110.3,105.6 111.5,106.6 112.3,107.8C113.2,109.0 114.2,110.9 114.6,111.5M100.2,89.8C100.4,90.5 100.9,92.6 101.3,93.9C101.7,95.3 102.2,96.7 102.8,97.9C103.5,99.2 104.5,100.3 105.2,101.5C105.9,102.7 106.7,104.7 107.0,105.4M134.0,219.2C133.9,219.9 133.7,221.8 133.5,223.1C133.3,224.5 133.1,225.8 133.0,227.1C132.9,228.4 132.9,229.7 132.8,231.0C132.7,232.3 132.9,233.8 132.5,235.0C132.0,236.1 130.4,237.5 130.0,238.1M131.6,125.7C131.7,126.3 131.8,128.3 132.1,129.6C132.4,130.9 132.9,132.1 133.4,133.4C133.8,134.7 134.5,135.9 134.7,137.2C134.9,138.5 134.6,140.5 134.6,141.2M124.9,136.8C125.1,137.0 125.7,137.7 126.0,138.3C126.3,138.8 126.5,139.7 126.6,140.0" fill="none" stroke="#fff" stroke-width="0.75" opacity="0.85" stroke-linecap="round"/>
</g>
<rect x="121.5" y="190.8" width="20.2" height="19.8" fill="none" stroke="#e3000f" stroke-width="1.1"/>
<rect x="147.1" y="221.8" width="26.7" height="2.8" fill="#fff"/>
<rect x="496.9" y="25.3" width="117" height="203" fill="#000"/>
<g clip-path="url(#c72)">
<polygon points="576.3,33.3 597.2,36.8 604.2,77.4 604.2,121.5 597.2,144.8 576.3,154.1 553.1,168.0 529.8,186.6 518.2,209.8 506.6,226.0 498.5,223.7 499.6,198.2 515.9,168.0 518.2,144.8 525.2,112.2 536.8,84.4 555.4,65.8 571.6,51.9" fill="#fff" opacity="0.05" filter="url(#b6)"/>
<path d="M516.7,186.8L514.6,187.3M576.2,92.9L576.4,95.6M504.2,221.8L503.1,224.1M560.3,89.0L561.3,89.2M551.9,71.3L552.4,72.1M529.1,107.6L530.1,110.1M555.0,108.4L555.1,111.5M570.9,114.9L568.6,116.3M589.0,75.6L588.0,75.6M568.9,121.1L567.4,122.7M579.5,113.1L577.0,113.8M503.1,195.0L502.3,197.2M567.3,109.5L569.5,109.8M557.1,144.5L558.0,146.9M569.1,112.4L569.9,112.8M534.3,119.6L532.7,121.5M505.6,206.1L505.0,209.0M545.0,87.8L544.3,87.8M556.3,106.9L556.7,107.6M592.6,88.9L593.2,89.5M547.4,142.2L546.9,142.9M590.9,101.1L590.4,103.0M583.1,109.9L581.2,110.5M527.6,120.5L529.8,121.3M588.1,109.9L586.4,111.3M554.0,140.1L555.7,140.5M567.1,149.1L570.0,150.2M563.1,159.2L560.8,160.5M565.1,76.6L564.7,77.2M572.8,103.3L573.6,104.2M595.6,55.6L595.1,56.0M594.9,98.9L595.8,100.8M551.8,114.8L552.0,116.1M545.3,111.8L543.6,112.4M529.5,158.2L531.1,159.1M587.9,77.4L589.2,77.6M589.6,85.3L589.4,85.9M503.4,219.1L502.1,220.4M601.6,121.7L602.1,122.9M533.6,124.1L533.8,127.0M566.5,67.8L566.4,68.6M568.2,121.7L569.6,122.7M537.8,108.0L537.8,110.6M513.9,193.3L512.5,195.0M546.6,119.9L546.0,122.4M583.6,136.2L585.6,136.9M567.3,125.9L568.0,128.0M586.1,95.8L584.5,95.9M520.6,153.0L520.8,153.6M551.6,163.5L553.3,164.8M576.0,131.3L577.1,131.9M561.7,77.6L562.9,78.1M541.6,117.3L540.6,120.1M572.2,91.4L571.9,93.6M563.4,160.6L562.1,160.9M548.3,74.1L551.3,74.5M584.8,100.9L582.1,101.1M580.7,113.3L580.7,116.4M581.8,112.0L582.0,113.6M585.8,95.0L584.3,95.2M562.7,141.2L563.0,142.5M537.3,120.8L537.5,121.6M601.5,109.9L601.5,111.6M559.5,70.9L561.1,73.3M531.2,138.0L531.0,141.1M594.8,70.7L592.4,71.7M511.4,218.0L511.1,219.2M598.3,127.4L600.3,128.3M564.9,127.1L562.2,127.6M560.4,134.3L562.9,135.1M543.1,141.2L545.3,143.0M564.5,147.1L565.4,148.4M557.3,125.6L555.3,127.8M505.8,189.1L504.9,191.4M586.2,111.2L585.0,111.4M594.2,144.2L595.4,144.6M516.0,209.8L515.4,210.6M544.9,102.3L545.9,104.3M602.8,121.1L602.2,121.9M589.6,104.0L591.3,105.2M587.9,95.7L588.9,96.1M509.0,200.0L507.7,201.6M595.9,133.5L596.3,136.2M558.0,150.4L555.8,151.6M570.8,101.9L569.5,102.1M578.9,115.1L576.8,117.1M551.6,135.2L549.7,135.4M577.2,99.4L579.0,101.2M566.7,125.8L565.7,126.7M542.4,128.8L545.0,130.0M555.0,91.5L555.9,93.0M542.8,160.6L544.1,161.0M554.1,111.6L552.6,113.1M570.4,100.5L572.3,101.2M550.7,125.0L550.1,126.8M588.2,92.7L589.3,92.8M574.6,73.9L576.2,74.0M561.4,145.5L562.1,148.1M566.0,79.0L565.1,79.7M578.4,98.6L576.6,98.8M593.9,120.4L596.5,120.4M584.7,135.1L583.4,135.2M550.5,157.9L550.0,159.0M580.8,98.5L580.9,100.2M553.2,114.7L550.4,115.7M576.6,53.2L576.7,54.0M556.3,118.8L556.5,119.9M512.6,192.9L512.7,193.8M555.5,121.0L557.7,122.5M595.7,73.6L593.0,73.8M550.8,103.2L549.0,104.1M504.1,197.3L504.1,200.3M565.1,135.4L564.9,136.1M568.4,92.1L567.7,93.7M591.8,104.0L592.0,104.6M587.1,129.0L587.9,129.3M546.2,127.4L545.4,128.8M515.1,192.5L514.7,194.8M578.8,90.5L577.3,92.4M559.8,90.5L560.2,92.7M535.8,107.2L537.8,109.0M537.8,103.7L539.2,105.7M572.9,140.5L573.7,140.8M543.0,133.5L546.1,134.0M595.6,83.4L594.6,84.1M517.7,191.5L517.5,193.2M597.3,135.6L596.3,135.7M511.9,206.5L511.3,206.8M597.5,141.7L597.3,142.7M520.0,151.1L521.0,151.4M539.9,115.6L538.8,115.7M595.5,83.4L596.3,85.0M570.5,97.1L569.8,97.7M541.6,116.4L540.9,117.9M568.3,148.5L567.8,150.4M563.1,139.2L563.3,140.9M563.7,129.2L564.7,131.9M545.3,132.0L544.6,134.9M509.2,206.8L509.0,207.7M590.0,99.6L590.6,101.1M554.7,128.8L555.7,129.3M563.4,141.6L563.7,144.2M571.5,128.2L573.0,129.7M541.2,110.0L540.3,110.5M566.5,155.2L564.8,155.5M596.7,81.4L597.0,82.0M583.9,38.0L582.1,40.2M568.8,116.9L570.2,117.2M558.2,98.5L556.9,101.3M569.3,143.1L568.5,143.2M555.0,114.7L555.8,116.3M500.2,218.8L499.6,219.6M559.2,96.4L559.7,99.2" fill="none" stroke="#fff" stroke-width="0.7" opacity="0.35" stroke-linecap="round"/>
<path d="M548.8,111.0L551.8,111.3M572.3,142.6L573.7,144.0M559.0,132.7L556.3,133.2M565.8,159.7L564.1,161.2M562.1,93.7L559.5,95.4M564.3,149.9L562.1,150.6M552.3,136.6L553.6,137.3M589.2,108.8L587.2,108.9M560.4,123.6L559.8,125.0M565.4,115.2L563.1,115.5M540.3,92.2L538.5,93.3M509.4,190.3L508.8,190.7M599.6,104.9L600.7,105.7M593.8,124.8L594.8,125.2M542.3,89.4L542.8,90.7M557.9,83.0L558.3,83.8M560.0,105.0L561.3,105.9M569.0,102.9L568.6,105.3M568.1,62.2L567.1,64.1M560.2,100.8L561.0,102.8M590.0,141.9L588.7,142.6M524.2,160.4L525.4,160.8M586.5,98.3L586.7,99.6M549.4,121.2L548.1,121.4M572.7,154.2L572.2,154.7M601.9,65.5L599.2,65.9M542.0,95.2L542.2,96.5M582.3,131.6L584.0,134.0M569.7,156.9L569.7,157.9M588.1,93.4L586.1,94.5M561.5,114.3L559.5,114.5M563.3,126.1L565.0,127.9M586.1,147.7L585.4,148.6M555.5,112.7L556.4,115.0M553.8,130.5L551.8,132.3M550.4,108.0L549.1,109.2M594.0,127.0L592.3,127.9M551.4,82.0L549.7,82.3M569.1,117.6L568.5,118.0M541.6,141.5L542.1,142.0M550.9,135.0L552.1,137.3M574.0,88.2L573.4,89.9M561.0,65.2L564.1,65.4M547.6,131.0L546.2,131.3M569.8,130.6L569.6,132.9M577.1,92.4L577.7,92.4M579.3,80.6L577.6,81.9M582.0,113.5L583.1,114.4M576.6,103.7L577.1,104.6M579.8,101.0L578.2,103.0M513.7,210.3L513.8,211.8M579.6,112.0L579.9,113.3M589.7,117.5L589.2,120.5M536.5,128.4L538.1,128.7M566.0,103.2L567.7,104.2M551.6,106.8L552.7,109.5M581.1,56.5L578.0,57.3M571.1,102.5L569.2,103.3M590.9,141.2L591.0,144.1M561.6,136.3L559.6,136.5M581.6,116.6L582.4,118.3M585.6,133.3L584.2,133.7M543.3,123.8L541.7,124.0M556.2,107.2L555.5,108.4M513.8,209.6L512.6,209.6M572.4,121.9L570.6,124.0M552.2,131.9L552.4,134.6M595.4,111.5L593.7,113.6M578.6,140.2L580.2,140.5M593.8,103.8L593.2,104.6M564.7,120.5L564.1,122.9M502.9,211.5L502.5,214.0M605.3,83.5L602.9,85.1M511.7,201.4L511.3,203.1M556.4,115.6L555.3,115.9M528.4,117.5L525.7,117.7M515.5,176.4L514.5,179.0M561.3,130.2L560.7,131.1M515.2,199.5L514.8,200.2M595.5,124.0L594.5,124.2M574.5,105.1L575.8,105.9M535.4,154.3L535.3,155.7M569.6,145.8L570.9,148.6M555.3,138.4L553.3,140.5M578.7,72.5L579.6,72.8M574.1,50.8L574.8,52.1M552.7,129.7L551.3,131.4M518.1,191.0L515.6,192.3M518.3,206.3L517.1,207.8M563.3,132.7L563.5,134.9M568.6,151.0L566.5,152.9M546.5,132.5L545.7,132.9M592.9,88.5L593.8,90.4M595.5,89.0L597.7,89.6M532.3,159.9L533.9,161.7M513.6,204.5L513.1,205.6M523.3,127.7L524.7,128.8M507.7,206.4L506.7,209.2M505.6,210.0L504.9,210.4M585.2,103.8L585.9,106.1M584.7,115.3L583.9,116.4M559.1,129.6L561.0,130.8M570.6,94.9L571.6,95.2M586.9,43.7L588.9,45.6M521.4,201.6L520.9,202.7M603.6,110.1L600.7,110.9M565.7,115.8L566.0,116.4M566.0,135.6L566.7,136.7M582.8,115.4L580.9,117.1M572.8,121.7L573.4,123.1M554.1,108.1L556.0,109.9M550.0,154.2L551.0,155.2M553.8,71.1L555.0,72.8M590.2,107.3L588.1,108.2M555.3,80.0L554.7,80.7M554.5,108.8L555.5,109.2M559.7,100.0L560.2,102.3M566.4,140.9L567.2,141.8M585.1,135.0L586.3,136.3M571.0,87.6L568.7,89.1M563.0,104.2L563.3,104.7M502.2,194.1L501.2,196.0M589.9,115.7L591.9,116.0M536.9,91.4L536.4,92.0M583.7,38.1L584.1,39.3M562.8,154.8L560.0,155.4M521.3,160.5L523.0,160.8M528.8,112.9L527.1,113.1M541.8,155.2L541.7,156.0M575.9,122.9L573.7,124.0M598.4,108.9L598.4,110.6M597.2,118.7L599.5,119.1M604.0,85.3L602.7,87.2M595.3,115.1L595.2,115.8M549.9,165.1L550.1,167.6M579.9,133.2L580.1,134.4M531.9,116.0L532.9,117.0M571.7,154.7L571.6,156.4M579.4,94.6L579.0,96.6M572.5,139.6L571.5,139.8M547.6,157.4L546.7,157.9M563.3,148.5L564.7,150.4M549.7,130.0L550.2,132.8M564.4,141.3L562.3,142.9M507.9,212.0L505.7,214.0M582.4,75.6L580.6,76.2M560.0,92.5L558.4,92.9M594.3,141.2L593.1,143.0M569.2,141.7L569.5,142.6M588.1,35.3L588.6,36.2M550.1,148.4L547.9,149.1M541.1,140.2L542.8,141.1M551.0,97.4L552.6,99.5M580.5,112.8L578.5,114.3M577.5,45.3L576.3,46.3M553.2,68.5L551.3,70.9M529.1,173.5L526.3,174.5M531.7,128.9L532.6,129.1M582.9,112.3L583.2,113.2M563.0,119.0L563.4,120.5M579.1,148.2L579.2,149.6M514.5,186.6L512.3,186.9M565.0,145.0L565.8,145.0M593.0,79.6L592.8,80.8M554.6,72.7L554.5,73.3M524.0,190.6L524.8,191.6M559.4,61.8L559.1,63.9M589.0,117.2L589.7,117.3M555.4,105.4L554.9,108.0M561.6,109.6L562.1,110.2M574.1,93.7L573.6,94.2M569.6,115.6L568.4,116.5" fill="none" stroke="#fff" stroke-width="0.85" opacity="0.6" stroke-linecap="round"/>
<path d="M560.9,161.7L559.2,164.2M501.8,216.5L500.8,217.6M514.7,195.8L514.2,197.5M552.9,84.3L553.2,85.2M555.9,94.0L554.9,94.8M550.7,102.1L552.2,103.5M561.2,150.7L562.6,152.1M593.0,71.1L594.4,71.4M529.8,169.5L528.5,171.7M587.6,70.9L585.8,71.9M572.5,100.9L572.1,102.6M569.8,104.0L570.6,105.0M577.4,43.9L576.6,45.5M508.1,181.0L510.0,181.5M568.0,133.6L568.3,135.3M575.7,74.9L576.1,75.5M509.1,199.2L507.9,201.2M533.8,150.9L535.0,153.6M587.1,87.4L589.1,88.4M529.6,132.2L528.4,132.3M581.8,124.9L580.6,125.5M566.6,90.4L566.0,91.7M573.7,143.3L575.7,144.8M577.9,151.8L578.7,152.7M502.4,206.8L501.8,206.9M507.6,205.7L506.3,206.0M568.0,126.5L568.2,128.8M583.5,95.6L581.6,97.6M573.4,124.4L574.1,125.7M550.8,134.1L551.8,136.5M583.1,64.6L585.2,65.5M577.4,112.1L576.5,112.9M554.5,117.0L554.6,119.2M539.4,146.4L537.6,147.8M584.6,138.8L583.9,139.0M560.1,137.2L557.9,138.7M537.3,99.9L536.5,100.1M598.2,133.5L600.6,134.1M536.0,149.5L537.4,150.8M561.0,93.3L560.6,93.9M560.1,127.5L561.9,129.6M592.6,83.9L591.4,84.9M546.9,168.8L544.0,169.1M551.2,144.2L552.0,145.0M549.3,134.4L547.8,134.6M574.3,142.9L572.5,143.2M501.3,205.1L500.0,206.9M559.2,100.6L556.1,101.1M568.0,67.4L568.2,68.9M557.8,80.2L558.1,81.5M504.6,194.0L502.9,196.2M546.3,118.7L545.7,120.0M567.8,126.8L568.8,127.8M566.8,112.2L566.3,112.5M536.5,90.1L535.7,92.7M577.4,100.7L576.7,103.7M509.0,190.7L508.3,192.2M557.6,91.0L556.9,92.5M516.2,194.9L514.1,196.4M583.5,128.3L581.4,129.5M551.4,92.9L550.4,93.0M551.6,111.2L552.9,112.6M583.6,74.8L583.2,75.9M561.6,66.0L560.2,66.7M550.4,96.1L550.6,98.1M571.3,147.3L571.1,147.9M562.6,160.5L563.7,161.7M579.1,60.2L578.2,61.3M530.6,104.0L530.2,105.4M548.2,108.6L549.0,111.1M521.6,149.6L524.2,150.1M576.7,147.8L577.6,148.9M568.9,122.3L569.3,123.1M533.1,121.0L532.3,121.0M602.0,100.7L604.5,100.9M568.0,72.1L567.5,73.7M561.1,126.3L561.5,126.9M540.9,109.8L540.3,110.8M589.4,127.9L586.2,128.0M585.3,57.2L583.4,57.5M594.4,127.3L595.5,129.8M575.2,138.1L575.9,138.5M540.9,148.2L542.1,148.5M568.0,93.7L568.5,96.0M541.8,141.0L539.9,142.4M556.5,115.4L556.4,116.2M544.5,93.8L543.2,93.9M517.1,199.1L516.3,199.8M519.6,199.5L517.2,200.5M591.7,78.3L591.2,78.9M566.6,80.9L568.1,82.8M516.0,192.5L515.3,193.3M591.6,112.8L588.8,113.6M583.0,95.1L581.6,97.4M585.3,99.5L585.7,101.4M525.1,187.0L527.6,188.9M564.8,71.2L562.1,71.9M514.6,201.3L513.9,202.7M550.5,116.2L553.6,116.6M509.2,208.6L509.2,209.5M570.2,101.6L571.3,101.6M571.1,105.2L570.7,107.4M584.0,121.1L584.5,122.0M503.1,219.9L502.3,222.3M598.3,129.9L598.8,130.8M579.6,100.9L578.0,103.6M517.3,160.5L517.8,163.0M546.7,101.0L546.2,101.6M530.6,103.9L533.0,105.3M575.1,113.2L576.4,115.6M526.5,140.6L525.5,141.0M553.2,165.4L556.0,166.8M567.0,156.4L567.1,157.3M543.8,86.6L545.7,86.8M589.4,121.3L590.4,122.2" fill="none" stroke="#fff" stroke-width="1.05" opacity="0.9" stroke-linecap="round"/>
<path d="M598.5,149.5l1,2.5M602,156l1.5,4M599,150l2,-1.5" stroke="#fff" stroke-width="0.6" opacity="0.6" fill="none"/>
</g>
<rect x="591.9" y="146.4" width="20.6" height="20.1" fill="none" stroke="#e3000f" stroke-width="1"/>
<rect x="583" y="220.6" width="21.8" height="2.6" fill="#fff"/>
<rect x="183.4" y="25.3" width="308.6" height="203.3" fill="#000"/>
<rect x="183.4" y="128" width="308.6" height="100.6" fill="#090909"/>
<g clip-path="url(#cTL)">
<g fill="none" stroke="#f2f2f2" stroke-linecap="round" stroke-linejoin="round" filter="url(#b05)"><path d="M211,31.5L217.8,31.5" stroke-width="4"/><path d="M210.3,35.6L212.8,40.2L211.9,46.8" stroke-width="3.6"/><path d="M222.3,68.8C225.5,72.5 228,75 230.5,76.6C233.5,78.6 237,79.6 241,81" stroke-width="3.4" stroke="#dcdcdc"/><circle cx="245.9" cy="84.6" r="2.1" fill="#ececec" stroke="none"/><path d="M314.6,29.8L321,29.6" stroke-width="4"/><path d="M314.4,33.6L316.6,38.5L316.2,45.6" stroke-width="3.6"/><path d="M318,66.2C324,70 331,74 337.4,77.5" stroke-width="3.5" stroke="#dcdcdc"/><circle cx="348.7" cy="85.8" r="2.1" fill="#ececec" stroke="none"/><path d="M416.2,29.2L423.2,31.6" stroke-width="4"/><path d="M420.9,34.5L420.3,39L420.4,44.5" stroke-width="3.6"/><path d="M406.8,58.8C413,62 420,65.5 426.6,68.6" stroke-width="3.6" stroke="#dcdcdc"/><circle cx="451.2" cy="88.7" r="2.1" fill="#ececec" stroke="none"/></g>
<g fill="none" stroke="#e6e6e6" stroke-width="2.0" stroke-linecap="round" filter="url(#b1)"><path d="M210.4,130.5L216.2,136.8" opacity="0.7"/><path d="M271,128.5L274.5,131.5" opacity="0.5"/><path d="M199.9,220.4L204.5,228" opacity="0.7"/><path d="M274.6,222.8L278.5,229" opacity="0.6"/><path d="M314.1,130.5L319.9,136.8" opacity="0.7"/><path d="M374.7,128.5L378.2,131.5" opacity="0.5"/><path d="M303.6,220.4L308.2,228" opacity="0.7"/><path d="M378.3,222.8L382.2,229" opacity="0.6"/><path d="M417.8,130.5L423.6,136.8" opacity="0.7"/><path d="M478.4,128.5L481.9,131.5" opacity="0.5"/><path d="M407.3,220.4L411.9,228" opacity="0.7"/><path d="M482.0,222.8L485.9,229" opacity="0.6"/><path d="M227.9,129.3C230,140 233.5,148 236.3,155.4C232,158.5 229.6,161 228.9,166C226.5,178.4 228.2,201.8 226.9,213.4C227.5,219 229,223 230.4,228"/><path d="M329.8,129.6C332.5,140 336.5,148.5 339.8,156C342,160 341,160.5 338,158.2C333,158 331.3,162 331.3,167C330.2,184.2 333,200 334.6,206.7C336,214 337,222 338,228"/><path d="M435.7,129.6C438,138 441.5,146 443.9,152.1C445.5,156.5 444.5,158 442,156.2C438.5,155.5 436.5,158.5 435.8,161.6"/><path d="M435.1,184.2C435.5,198 436.5,212 437.6,228"/></g>
</g>
<rect x="284.4" y="25" width="3" height="204" fill="#fff"/>
<rect x="388.2" y="25" width="3" height="204" fill="#fff"/>
<rect x="183.4" y="124.4" width="308.6" height="4.2" fill="#c00000"/>
<polygon points="236.4,104.0 242.2,96.3 243.7,97.4 243.1,92.0 237.7,93.0 239.2,94.1 233.4,101.8" fill="#c60000"/>
<polygon points="337.7,106.2 343.3,98.8 344.7,99.9 344.2,94.5 338.8,95.5 340.3,96.6 334.7,104.0" fill="#c60000"/>
<polygon points="437.9,108.4 443.5,100.7 445.0,101.8 444.4,96.4 439.1,97.4 440.5,98.5 434.9,106.2" fill="#c60000"/>
<polygon points="247.1,172.4 237.0,169.5 237.5,167.7 232.6,170.2 235.4,174.9 235.9,173.1 246.1,176.0" fill="#c60000"/>
<polygon points="352.7,177.6 342.1,175.3 342.5,173.4 337.8,176.2 340.9,180.7 341.3,178.9 351.9,181.2" fill="#c60000"/>
<polygon points="455.4,172.8 444.9,170.5 445.3,168.7 440.6,171.4 443.7,175.9 444.1,174.1 454.6,176.4" fill="#c60000"/>
<text x="282.4" y="120" font-size="13" text-anchor="end" fill="#fff">0s</text>
<text x="386.2" y="120" font-size="13" text-anchor="end" fill="#fff">5s</text>
<text x="490" y="120" font-size="13" text-anchor="end" fill="#fff">10s</text>
<text x="282.4" y="223" font-size="13" text-anchor="end" fill="#fff">0s</text>
<text x="386.2" y="224" font-size="13" text-anchor="end" fill="#fff">5s</text>
<text x="490" y="224" font-size="13" text-anchor="end" fill="#fff">10s</text>
<text transform="translate(-0.17,249.9) scale(0.92,1)" font-size="24" font-weight="bold" fill="#000">B</text>
<text x="54.1" y="261.4" font-size="16.7" font-weight="bold" text-anchor="start" fill="#262626">Fission/Cell</text>
<polygon points="46.0,312.6 73.6,290.0 101.3,341.8 128.7,355.5 156.3,386.8 156.3,410.9 128.7,384.4 101.3,367.5 73.6,356.3 46.0,358.8" fill="#8da5aa" fill-opacity="0.22" stroke="#8da5aa" stroke-opacity="0.25" stroke-width="0.5"/>
<polygon points="46.0,382.3 73.6,369.6 101.3,367.5 128.7,329.0 156.3,333.0 156.3,370.7 128.7,376.4 101.3,398.0 73.6,395.6 46.0,398.6" fill="#484864" fill-opacity="0.2" stroke="#484864" stroke-opacity="0.2" stroke-width="0.5"/>
<polyline points="46.0,337.9 73.6,322.6 101.3,356.4 128.7,373.5 156.3,399.7" fill="none" stroke="#8da5aa" stroke-width="1.1" stroke-dasharray="4.5,2"/>
<polyline points="46.0,392.0 73.6,382.9 101.3,382.4 128.7,356.9 156.3,353.8" fill="none" stroke="#484864" stroke-width="1.1"/>
<path d="M42.7,334.6L49.3,341.2M42.7,341.2L49.3,334.6" stroke="#fff" stroke-width="3.4000000000000004" fill="none" stroke-linecap="square" opacity="0.9"/>
<path d="M42.7,334.6L49.3,341.2M42.7,341.2L49.3,334.6" stroke="#8da5aa" stroke-width="2.2" fill="none" stroke-linecap="butt"/>
<path d="M70.3,319.3L76.9,325.9M70.3,325.9L76.9,319.3" stroke="#fff" stroke-width="3.4000000000000004" fill="none" stroke-linecap="square" opacity="0.9"/>
<path d="M70.3,319.3L76.9,325.9M70.3,325.9L76.9,319.3" stroke="#8da5aa" stroke-width="2.2" fill="none" stroke-linecap="butt"/>
<path d="M98.0,353.1L104.6,359.7M98.0,359.7L104.6,353.1" stroke="#fff" stroke-width="3.4000000000000004" fill="none" stroke-linecap="square" opacity="0.9"/>
<path d="M98.0,353.1L104.6,359.7M98.0,359.7L104.6,353.1" stroke="#8da5aa" stroke-width="2.2" fill="none" stroke-linecap="butt"/>
<path d="M125.4,370.2L132.0,376.8M125.4,376.8L132.0,370.2" stroke="#fff" stroke-width="3.4000000000000004" fill="none" stroke-linecap="square" opacity="0.9"/>
<path d="M125.4,370.2L132.0,376.8M125.4,376.8L132.0,370.2" stroke="#8da5aa" stroke-width="2.2" fill="none" stroke-linecap="butt"/>
<path d="M153.0,396.4L159.6,403.0M153.0,403.0L159.6,396.4" stroke="#fff" stroke-width="3.4000000000000004" fill="none" stroke-linecap="square" opacity="0.9"/>
<path d="M153.0,396.4L159.6,403.0M153.0,403.0L159.6,396.4" stroke="#8da5aa" stroke-width="2.2" fill="none" stroke-linecap="butt"/>
<circle cx="46" cy="392" r="4.2" fill="#484864" stroke="#fff" stroke-width="0.7"/>
<circle cx="73.6" cy="382.9" r="4.2" fill="#484864" stroke="#fff" stroke-width="0.7"/>
<circle cx="101.3" cy="382.4" r="4.2" fill="#484864" stroke="#fff" stroke-width="0.7"/>
<circle cx="128.7" cy="356.9" r="4.2" fill="#484864" stroke="#fff" stroke-width="0.7"/>
<circle cx="156.3" cy="353.8" r="4.2" fill="#484864" stroke="#fff" stroke-width="0.7"/>
<path d="M40.6,268.2V413.4H162.4" fill="none" stroke="#222" stroke-width="1.5"/>
<path d="M36,269.3H40" stroke="#222" stroke-width="1"/>
<text x="33.8" y="273.0" font-size="10.5" text-anchor="end" fill="#262626">2.5</text>
<path d="M36,299.2H40" stroke="#222" stroke-width="1"/>
<text x="33.8" y="302.9" font-size="10.5" text-anchor="end" fill="#262626">2.0</text>
<path d="M36,329.2H40" stroke="#222" stroke-width="1"/>
<text x="33.8" y="332.9" font-size="10.5" text-anchor="end" fill="#262626">1.5</text>
<path d="M36,359.3H40" stroke="#222" stroke-width="1"/>
<text x="33.8" y="363.0" font-size="10.5" text-anchor="end" fill="#262626">1.0</text>
<path d="M36,389.5H40" stroke="#222" stroke-width="1"/>
<text x="33.8" y="393.2" font-size="10.5" text-anchor="end" fill="#262626">0.5</text>
<path d="M46,413.4V417.4" stroke="#222" stroke-width="1"/>
<text x="46" y="424.9" font-size="10.5" text-anchor="middle" fill="#262626">M</text>
<path d="M73.6,413.4V417.4" stroke="#222" stroke-width="1"/>
<text x="73.6" y="424.9" font-size="10.5" text-anchor="middle" fill="#262626">24</text>
<path d="M101.3,413.4V417.4" stroke="#222" stroke-width="1"/>
<text x="101.3" y="424.9" font-size="10.5" text-anchor="middle" fill="#262626">48</text>
<path d="M128.7,413.4V417.4" stroke="#222" stroke-width="1"/>
<text x="128.7" y="424.9" font-size="10.5" text-anchor="middle" fill="#262626">72</text>
<path d="M156.3,413.4V417.4" stroke="#222" stroke-width="1"/>
<text x="156.3" y="424.9" font-size="10.5" text-anchor="middle" fill="#262626">96</text>
<text x="16.6" y="341" font-size="13.5" text-anchor="middle" fill="#262626" transform="rotate(-90 16.6 341)">Events per cell</text>
<text x="49.6" y="330.6" font-size="15.5" text-anchor="middle" fill="#1f8f1f">**</text>
<text x="73.7" y="314.9" font-size="15.5" text-anchor="middle" fill="#1f8f1f">*</text>
<text x="101.3" y="348.6" font-size="15.5" text-anchor="middle" fill="#1f8f1f">*</text>
<text x="128.7" y="349.2" font-size="15.5" text-anchor="middle" fill="#111">*</text>
<text x="156" y="339.8" font-size="15.5" text-anchor="middle" fill="#1f8f1f">*</text>
<text x="156" y="346.2" font-size="15.5" text-anchor="middle" fill="#111">**</text>
<text x="178.8" y="290" font-size="10.8" text-anchor="middle" fill="#111" transform="rotate(-90 178.8 290)">Midzone</text>
<path d="M175.9,312.6V335.8" stroke="#8da5aa" stroke-width="1.1" stroke-dasharray="4.5,2"/>
<path d="M173.2,321.8L178.6,327.2M173.2,327.2L178.6,321.8" stroke="#8da5aa" stroke-width="3.0" fill="none" stroke-linecap="butt"/>
<text x="178.8" y="370.2" font-size="11" text-anchor="middle" fill="#111" transform="rotate(-90 178.8 370.2)">Peripheral</text>
<path d="M175.9,398.3V420.9" stroke="#484864" stroke-width="1.1"/>
<circle cx="175.9" cy="409.1" r="4.0" fill="#484864" stroke="#fff" stroke-width="0.7"/>
<text transform="translate(198.53,249.2) scale(0.92,1)" font-size="24" font-weight="bold" fill="#000">C</text>
<text x="262.7" y="249" font-size="18"><tspan font-weight="bold">Peripheral fission</tspan> (96 hpi, OMP25)</text>
<rect x="234.4" y="251.4" width="344.8" height="100.7" fill="#383838"/>
<rect x="234.4" y="323.07" width="344.8" height="0.5" fill="#4a4a4a"/>
<defs><linearGradient id="hr0" gradientUnits="userSpaceOnUse" x1="234.4" y1="0" x2="445" y2="0"><stop offset="0.0000" stop-color="#7495f2"/><stop offset="0.0152" stop-color="#82a4f9"/><stop offset="0.0304" stop-color="#8fb1fe"/><stop offset="0.0456" stop-color="#b0cafa"/><stop offset="0.0608" stop-color="#ccd7ea"/><stop offset="0.0760" stop-color="#e5d4cc"/><stop offset="0.0912" stop-color="#f5bea6"/><stop offset="0.1064" stop-color="#f5b59b"/><stop offset="0.1216" stop-color="#f5bba2"/><stop offset="0.1368" stop-color="#f5bba2"/><stop offset="0.1519" stop-color="#f5b298"/><stop offset="0.1671" stop-color="#f5b89e"/><stop offset="0.1823" stop-color="#f5b399"/><stop offset="0.1975" stop-color="#f5b79d"/><stop offset="0.2127" stop-color="#f5b59b"/><stop offset="0.2279" stop-color="#f5baa1"/><stop offset="0.2431" stop-color="#f5b49a"/><stop offset="0.2583" stop-color="#f5b297"/><stop offset="0.2735" stop-color="#f5b59b"/><stop offset="0.2887" stop-color="#f5b298"/><stop offset="0.3039" stop-color="#f5b399"/><stop offset="0.3191" stop-color="#f5b9a0"/><stop offset="0.3343" stop-color="#f5b197"/><stop offset="0.3495" stop-color="#f5b398"/><stop offset="0.3647" stop-color="#f5b69c"/><stop offset="0.3799" stop-color="#f5b89f"/><stop offset="0.3951" stop-color="#f4af94"/><stop offset="0.4103" stop-color="#f5b399"/><stop offset="0.4255" stop-color="#f5b095"/><stop offset="0.4406" stop-color="#f4ae93"/><stop offset="0.4558" stop-color="#f5af94"/><stop offset="0.4710" stop-color="#f4ad92"/><stop offset="0.4862" stop-color="#f5b298"/><stop offset="0.5014" stop-color="#f4ae92"/><stop offset="0.5166" stop-color="#f5b197"/><stop offset="0.5318" stop-color="#f4ac90"/><stop offset="0.5470" stop-color="#f4ac90"/><stop offset="0.5622" stop-color="#f5af94"/><stop offset="0.5774" stop-color="#f4a98d"/><stop offset="0.5926" stop-color="#f4a385"/><stop offset="0.6078" stop-color="#f19376"/><stop offset="0.6230" stop-color="#f19275"/><stop offset="0.6382" stop-color="#ec856a"/><stop offset="0.6534" stop-color="#e87b63"/><stop offset="0.6686" stop-color="#e5735c"/><stop offset="0.6838" stop-color="#e6745d"/><stop offset="0.6990" stop-color="#e6745d"/><stop offset="0.7142" stop-color="#e5725c"/><stop offset="0.7293" stop-color="#e5725c"/><stop offset="0.7445" stop-color="#e4705a"/><stop offset="0.7597" stop-color="#e5725b"/><stop offset="0.7749" stop-color="#e47059"/><stop offset="0.7901" stop-color="#e4705a"/><stop offset="0.8053" stop-color="#e36d57"/><stop offset="0.8205" stop-color="#e36e58"/><stop offset="0.8357" stop-color="#e4705a"/><stop offset="0.8509" stop-color="#e16954"/><stop offset="0.8661" stop-color="#e06652"/><stop offset="0.8813" stop-color="#e16753"/><stop offset="0.8965" stop-color="#e26c56"/><stop offset="0.9117" stop-color="#e36d57"/><stop offset="0.9269" stop-color="#e5725b"/><stop offset="0.9421" stop-color="#e46f59"/><stop offset="0.9573" stop-color="#e7775f"/><stop offset="0.9725" stop-color="#ed886c"/><stop offset="0.9877" stop-color="#f49a7b"/><stop offset="1.0000" stop-color="#f09174"/></linearGradient><linearGradient id="hr1" gradientUnits="userSpaceOnUse" x1="234.4" y1="0" x2="432" y2="0"><stop offset="0.0000" stop-color="#f4a588"/><stop offset="0.0162" stop-color="#f3987a"/><stop offset="0.0324" stop-color="#ea8167"/><stop offset="0.0486" stop-color="#e6745d"/><stop offset="0.0648" stop-color="#e6765e"/><stop offset="0.0810" stop-color="#e6755d"/><stop offset="0.0972" stop-color="#e4715a"/><stop offset="0.1134" stop-color="#e4705a"/><stop offset="0.1296" stop-color="#e7775f"/><stop offset="0.1457" stop-color="#e5725b"/><stop offset="0.1619" stop-color="#e7775f"/><stop offset="0.1781" stop-color="#e5715b"/><stop offset="0.1943" stop-color="#e7775f"/><stop offset="0.2105" stop-color="#e97c63"/><stop offset="0.2267" stop-color="#ec856b"/><stop offset="0.2429" stop-color="#f19375"/><stop offset="0.2591" stop-color="#f09073"/><stop offset="0.2753" stop-color="#f39678"/><stop offset="0.2915" stop-color="#f49a7b"/><stop offset="0.3077" stop-color="#f19375"/><stop offset="0.3239" stop-color="#f49a7b"/><stop offset="0.3401" stop-color="#f39879"/><stop offset="0.3563" stop-color="#f29577"/><stop offset="0.3725" stop-color="#f19375"/><stop offset="0.3887" stop-color="#f3997a"/><stop offset="0.4049" stop-color="#f49a7b"/><stop offset="0.4211" stop-color="#f09174"/><stop offset="0.4372" stop-color="#f39678"/><stop offset="0.4534" stop-color="#f09073"/><stop offset="0.4696" stop-color="#f09073"/><stop offset="0.4858" stop-color="#f29577"/><stop offset="0.5020" stop-color="#f29476"/><stop offset="0.5182" stop-color="#f19376"/><stop offset="0.5344" stop-color="#f19275"/><stop offset="0.5506" stop-color="#f19375"/><stop offset="0.5668" stop-color="#f19375"/><stop offset="0.5830" stop-color="#f19375"/><stop offset="0.5992" stop-color="#e6765e"/><stop offset="0.6154" stop-color="#e36e58"/><stop offset="0.6316" stop-color="#e36d57"/><stop offset="0.6478" stop-color="#e26b56"/><stop offset="0.6640" stop-color="#e46f59"/><stop offset="0.6802" stop-color="#e36e58"/><stop offset="0.6964" stop-color="#e16954"/><stop offset="0.7126" stop-color="#e36c57"/><stop offset="0.7287" stop-color="#e36c57"/><stop offset="0.7449" stop-color="#e4705a"/><stop offset="0.7611" stop-color="#e36d57"/><stop offset="0.7773" stop-color="#e36c56"/><stop offset="0.7935" stop-color="#e4705a"/><stop offset="0.8097" stop-color="#e6755e"/><stop offset="0.8259" stop-color="#ea7f66"/><stop offset="0.8421" stop-color="#ef8e72"/><stop offset="0.8583" stop-color="#f19375"/><stop offset="0.8745" stop-color="#f3987a"/><stop offset="0.8907" stop-color="#f4997a"/><stop offset="0.9069" stop-color="#f49f81"/><stop offset="0.9231" stop-color="#f4c5ae"/><stop offset="0.9393" stop-color="#d4dae4"/><stop offset="0.9555" stop-color="#93b5fd"/><stop offset="0.9717" stop-color="#7495f2"/><stop offset="0.9879" stop-color="#7192f1"/><stop offset="1.0000" stop-color="#6e8ff0"/></linearGradient><linearGradient id="hr2" gradientUnits="userSpaceOnUse" x1="234.4" y1="0" x2="440" y2="0"><stop offset="0.0000" stop-color="#7a9cf5"/><stop offset="0.0156" stop-color="#7ea0f7"/><stop offset="0.0311" stop-color="#81a3f9"/><stop offset="0.0467" stop-color="#81a3f9"/><stop offset="0.0623" stop-color="#b1cbfa"/><stop offset="0.0778" stop-color="#dadce0"/><stop offset="0.0934" stop-color="#f5bda4"/><stop offset="0.1089" stop-color="#f4aa8e"/><stop offset="0.1245" stop-color="#f4ad92"/><stop offset="0.1401" stop-color="#f4ac91"/><stop offset="0.1556" stop-color="#f4a88b"/><stop offset="0.1712" stop-color="#f5af95"/><stop offset="0.1868" stop-color="#f4a98d"/><stop offset="0.2023" stop-color="#f4a78b"/><stop offset="0.2179" stop-color="#f4ac90"/><stop offset="0.2335" stop-color="#f4ac91"/><stop offset="0.2490" stop-color="#f4a689"/><stop offset="0.2646" stop-color="#f4ac90"/><stop offset="0.2802" stop-color="#f4ac91"/><stop offset="0.2957" stop-color="#f4a98d"/><stop offset="0.3113" stop-color="#f4a68a"/><stop offset="0.3268" stop-color="#f4ac91"/><stop offset="0.3424" stop-color="#f4aa8e"/><stop offset="0.3580" stop-color="#f4a98d"/><stop offset="0.3735" stop-color="#f4a487"/><stop offset="0.3891" stop-color="#f4a88c"/><stop offset="0.4047" stop-color="#f4a386"/><stop offset="0.4202" stop-color="#e5745d"/><stop offset="0.4358" stop-color="#e36e58"/><stop offset="0.4514" stop-color="#e26b56"/><stop offset="0.4669" stop-color="#e26a55"/><stop offset="0.4825" stop-color="#e36d57"/><stop offset="0.4981" stop-color="#e46f59"/><stop offset="0.5136" stop-color="#e46f59"/><stop offset="0.5292" stop-color="#e36c57"/><stop offset="0.5447" stop-color="#e46f59"/><stop offset="0.5603" stop-color="#e26a55"/><stop offset="0.5759" stop-color="#e77860"/><stop offset="0.5914" stop-color="#ec856a"/><stop offset="0.6070" stop-color="#ec856a"/><stop offset="0.6226" stop-color="#ea8167"/><stop offset="0.6381" stop-color="#eb8268"/><stop offset="0.6537" stop-color="#ea8167"/><stop offset="0.6693" stop-color="#ec846a"/><stop offset="0.6848" stop-color="#ec866b"/><stop offset="0.7004" stop-color="#ec856a"/><stop offset="0.7160" stop-color="#eb8167"/><stop offset="0.7315" stop-color="#e77760"/><stop offset="0.7471" stop-color="#df6350"/><stop offset="0.7626" stop-color="#d24542"/><stop offset="0.7782" stop-color="#c42735"/><stop offset="0.7938" stop-color="#c22333"/><stop offset="0.8093" stop-color="#bf1c30"/><stop offset="0.8249" stop-color="#c32634"/><stop offset="0.8405" stop-color="#c52936"/><stop offset="0.8560" stop-color="#cd3c3e"/><stop offset="0.8716" stop-color="#dc5b4b"/><stop offset="0.8872" stop-color="#dd5e4c"/><stop offset="0.9027" stop-color="#df6350"/><stop offset="0.9183" stop-color="#dd5f4d"/><stop offset="0.9339" stop-color="#de5f4d"/><stop offset="0.9494" stop-color="#e46f59"/><stop offset="0.9650" stop-color="#eb8168"/><stop offset="0.9805" stop-color="#f19174"/><stop offset="0.9961" stop-color="#f19275"/><stop offset="1.0000" stop-color="#f19376"/></linearGradient><linearGradient id="hr3" gradientUnits="userSpaceOnUse" x1="234.4" y1="0" x2="437.1" y2="0"><stop offset="0.0000" stop-color="#9dbcfc"/><stop offset="0.0158" stop-color="#aac5fb"/><stop offset="0.0316" stop-color="#d5dae3"/><stop offset="0.0474" stop-color="#f4a386"/><stop offset="0.0631" stop-color="#ea8067"/><stop offset="0.0789" stop-color="#e26954"/><stop offset="0.0947" stop-color="#de604d"/><stop offset="0.1105" stop-color="#e06652"/><stop offset="0.1263" stop-color="#de5f4d"/><stop offset="0.1421" stop-color="#de614e"/><stop offset="0.1579" stop-color="#de5f4d"/><stop offset="0.1737" stop-color="#e16753"/><stop offset="0.1894" stop-color="#e97e65"/><stop offset="0.2052" stop-color="#f49a7b"/><stop offset="0.2210" stop-color="#f5bea6"/><stop offset="0.2368" stop-color="#f5b69d"/><stop offset="0.2526" stop-color="#f5bca4"/><stop offset="0.2684" stop-color="#f5bba2"/><stop offset="0.2842" stop-color="#f5b79e"/><stop offset="0.3000" stop-color="#f5b99f"/><stop offset="0.3157" stop-color="#f5baa1"/><stop offset="0.3315" stop-color="#f4ac91"/><stop offset="0.3473" stop-color="#f4a082"/><stop offset="0.3631" stop-color="#f19174"/><stop offset="0.3789" stop-color="#f08f72"/><stop offset="0.3947" stop-color="#ee8a6e"/><stop offset="0.4105" stop-color="#ef8d71"/><stop offset="0.4262" stop-color="#ee8b6f"/><stop offset="0.4420" stop-color="#f08e72"/><stop offset="0.4578" stop-color="#f08f73"/><stop offset="0.4736" stop-color="#ef8d70"/><stop offset="0.4894" stop-color="#ee8b6f"/><stop offset="0.5052" stop-color="#ed876c"/><stop offset="0.5210" stop-color="#e5735c"/><stop offset="0.5368" stop-color="#df634f"/><stop offset="0.5525" stop-color="#ee8b6f"/><stop offset="0.5683" stop-color="#ee8a6f"/><stop offset="0.5841" stop-color="#f09174"/><stop offset="0.5999" stop-color="#e06551"/><stop offset="0.6157" stop-color="#de604d"/><stop offset="0.6315" stop-color="#e06652"/><stop offset="0.6473" stop-color="#e06551"/><stop offset="0.6630" stop-color="#e06551"/><stop offset="0.6788" stop-color="#df634f"/><stop offset="0.6946" stop-color="#df6350"/><stop offset="0.7104" stop-color="#df634f"/><stop offset="0.7262" stop-color="#de614d"/><stop offset="0.7420" stop-color="#e16752"/><stop offset="0.7578" stop-color="#e06652"/><stop offset="0.7736" stop-color="#e06652"/><stop offset="0.7893" stop-color="#e87961"/><stop offset="0.8051" stop-color="#ef8e71"/><stop offset="0.8209" stop-color="#f4997a"/><stop offset="0.8367" stop-color="#f49a7b"/><stop offset="0.8525" stop-color="#f4a385"/><stop offset="0.8683" stop-color="#f49e80"/><stop offset="0.8841" stop-color="#f4a082"/><stop offset="0.8999" stop-color="#f4a082"/><stop offset="0.9156" stop-color="#f5bba2"/><stop offset="0.9314" stop-color="#e7d3c9"/><stop offset="0.9472" stop-color="#d2d9e5"/><stop offset="0.9630" stop-color="#bcd2f6"/><stop offset="0.9788" stop-color="#abc6fb"/><stop offset="0.9946" stop-color="#a7c3fb"/><stop offset="1.0000" stop-color="#a5c2fb"/></linearGradient><linearGradient id="hr4" gradientUnits="userSpaceOnUse" x1="234.4" y1="0" x2="437.1" y2="0"><stop offset="0.0000" stop-color="#6b8cee"/><stop offset="0.0158" stop-color="#6f90f0"/><stop offset="0.0316" stop-color="#6f90f0"/><stop offset="0.0474" stop-color="#7091f0"/><stop offset="0.0631" stop-color="#98b8fd"/><stop offset="0.0789" stop-color="#dddddd"/><stop offset="0.0947" stop-color="#f4a88b"/><stop offset="0.1105" stop-color="#f19174"/><stop offset="0.1263" stop-color="#f29577"/><stop offset="0.1421" stop-color="#f19174"/><stop offset="0.1579" stop-color="#f19375"/><stop offset="0.1737" stop-color="#f29577"/><stop offset="0.1894" stop-color="#f29577"/><stop offset="0.2052" stop-color="#f49c7e"/><stop offset="0.2210" stop-color="#f4a487"/><stop offset="0.2368" stop-color="#f5b197"/><stop offset="0.2526" stop-color="#f5b99f"/><stop offset="0.2684" stop-color="#f5c2ab"/><stop offset="0.2842" stop-color="#f5c4ad"/><stop offset="0.3000" stop-color="#f5c1aa"/><stop offset="0.3157" stop-color="#f5c0a8"/><stop offset="0.3315" stop-color="#f4c5b0"/><stop offset="0.3473" stop-color="#f5b69c"/><stop offset="0.3631" stop-color="#f19275"/><stop offset="0.3789" stop-color="#e6765f"/><stop offset="0.3947" stop-color="#de5f4d"/><stop offset="0.4105" stop-color="#df6450"/><stop offset="0.4262" stop-color="#de5f4d"/><stop offset="0.4420" stop-color="#de614d"/><stop offset="0.4578" stop-color="#e06551"/><stop offset="0.4736" stop-color="#e5735c"/><stop offset="0.4894" stop-color="#ef8c70"/><stop offset="0.5052" stop-color="#f19174"/><stop offset="0.5210" stop-color="#f19275"/><stop offset="0.5368" stop-color="#f09073"/><stop offset="0.5525" stop-color="#f19174"/><stop offset="0.5683" stop-color="#f3987a"/><stop offset="0.5841" stop-color="#f4a082"/><stop offset="0.5999" stop-color="#f4aa8e"/><stop offset="0.6157" stop-color="#f5b095"/><stop offset="0.6315" stop-color="#f4ab8f"/><stop offset="0.6473" stop-color="#f5b196"/><stop offset="0.6630" stop-color="#f5af94"/><stop offset="0.6788" stop-color="#f4a98c"/><stop offset="0.6946" stop-color="#f5b096"/><stop offset="0.7104" stop-color="#f5b095"/><stop offset="0.7262" stop-color="#f5b095"/><stop offset="0.7420" stop-color="#f4a78b"/><stop offset="0.7578" stop-color="#f4af94"/><stop offset="0.7736" stop-color="#f5b196"/><stop offset="0.7893" stop-color="#f4a88b"/><stop offset="0.8051" stop-color="#f5b095"/><stop offset="0.8209" stop-color="#f4a88b"/><stop offset="0.8367" stop-color="#f4aa8e"/><stop offset="0.8525" stop-color="#f4a88c"/><stop offset="0.8683" stop-color="#f4a78a"/><stop offset="0.8841" stop-color="#f4ab8f"/><stop offset="0.8999" stop-color="#f4a88c"/><stop offset="0.9156" stop-color="#f4c5af"/><stop offset="0.9314" stop-color="#f1c8b4"/><stop offset="0.9472" stop-color="#eeccbc"/><stop offset="0.9630" stop-color="#e2d8d3"/><stop offset="0.9788" stop-color="#c2d3f2"/><stop offset="0.9946" stop-color="#c1d3f2"/><stop offset="1.0000" stop-color="#c2d4f1"/></linearGradient><linearGradient id="hr5" gradientUnits="userSpaceOnUse" x1="234.4" y1="0" x2="442.4" y2="0"><stop offset="0.0000" stop-color="#7193f1"/><stop offset="0.0154" stop-color="#7697f3"/><stop offset="0.0308" stop-color="#7a9cf5"/><stop offset="0.0462" stop-color="#7ea0f7"/><stop offset="0.0615" stop-color="#c6d5ef"/><stop offset="0.0769" stop-color="#f1c8b5"/><stop offset="0.0923" stop-color="#f39779"/><stop offset="0.1077" stop-color="#f19375"/><stop offset="0.1231" stop-color="#f19274"/><stop offset="0.1385" stop-color="#f29577"/><stop offset="0.1538" stop-color="#f29577"/><stop offset="0.1692" stop-color="#f29577"/><stop offset="0.1846" stop-color="#f29678"/><stop offset="0.2000" stop-color="#f29577"/><stop offset="0.2154" stop-color="#f49a7b"/><stop offset="0.2308" stop-color="#f29476"/><stop offset="0.2462" stop-color="#f49d7e"/><stop offset="0.2615" stop-color="#f5b095"/><stop offset="0.2769" stop-color="#f5b69d"/><stop offset="0.2923" stop-color="#f5bca4"/><stop offset="0.3077" stop-color="#f5b79d"/><stop offset="0.3231" stop-color="#f5b69c"/><stop offset="0.3385" stop-color="#f4ac90"/><stop offset="0.3538" stop-color="#f09073"/><stop offset="0.3692" stop-color="#e87b62"/><stop offset="0.3846" stop-color="#e5725b"/><stop offset="0.4000" stop-color="#e4705a"/><stop offset="0.4154" stop-color="#e6765e"/><stop offset="0.4308" stop-color="#e6765f"/><stop offset="0.4462" stop-color="#e4715b"/><stop offset="0.4615" stop-color="#e87a62"/><stop offset="0.4769" stop-color="#ef8c70"/><stop offset="0.4923" stop-color="#f29477"/><stop offset="0.5077" stop-color="#f19274"/><stop offset="0.5231" stop-color="#f3987a"/><stop offset="0.5385" stop-color="#f39779"/><stop offset="0.5538" stop-color="#ef8d70"/><stop offset="0.5692" stop-color="#e87b63"/><stop offset="0.5846" stop-color="#e46f59"/><stop offset="0.6000" stop-color="#e46f59"/><stop offset="0.6154" stop-color="#e26b56"/><stop offset="0.6308" stop-color="#e16954"/><stop offset="0.6462" stop-color="#e36e58"/><stop offset="0.6615" stop-color="#e26b56"/><stop offset="0.6769" stop-color="#e36d57"/><stop offset="0.6923" stop-color="#e26a55"/><stop offset="0.7077" stop-color="#e36c56"/><stop offset="0.7231" stop-color="#e36e58"/><stop offset="0.7385" stop-color="#e47059"/><stop offset="0.7538" stop-color="#eb8268"/><stop offset="0.7692" stop-color="#f08f72"/><stop offset="0.7846" stop-color="#f49f81"/><stop offset="0.8000" stop-color="#f4a284"/><stop offset="0.8154" stop-color="#f4a082"/><stop offset="0.8308" stop-color="#f4a082"/><stop offset="0.8462" stop-color="#f49b7c"/><stop offset="0.8615" stop-color="#f4a284"/><stop offset="0.8769" stop-color="#f3997a"/><stop offset="0.8923" stop-color="#f49e80"/><stop offset="0.9077" stop-color="#f49d7f"/><stop offset="0.9231" stop-color="#f49f80"/><stop offset="0.9385" stop-color="#f4ac90"/><stop offset="0.9538" stop-color="#eecbbb"/><stop offset="0.9692" stop-color="#d1d9e6"/><stop offset="0.9846" stop-color="#a3c0fb"/><stop offset="1.0000" stop-color="#a0befc"/><stop offset="1.0000" stop-color="#a1bffc"/></linearGradient><linearGradient id="hr6" gradientUnits="userSpaceOnUse" x1="234.4" y1="0" x2="445" y2="0"><stop offset="0.0000" stop-color="#9ebcfc"/><stop offset="0.0152" stop-color="#a4c1fb"/><stop offset="0.0304" stop-color="#aec9fa"/><stop offset="0.0456" stop-color="#dddddd"/><stop offset="0.0608" stop-color="#f39879"/><stop offset="0.0760" stop-color="#f08f72"/><stop offset="0.0912" stop-color="#ee8b6f"/><stop offset="0.1064" stop-color="#ef8c70"/><stop offset="0.1216" stop-color="#ee896e"/><stop offset="0.1368" stop-color="#ee8a6f"/><stop offset="0.1519" stop-color="#f08f72"/><stop offset="0.1671" stop-color="#f08f73"/><stop offset="0.1823" stop-color="#f08f72"/><stop offset="0.1975" stop-color="#f08f73"/><stop offset="0.2127" stop-color="#ee8b6f"/><stop offset="0.2279" stop-color="#ee8a6e"/><stop offset="0.2431" stop-color="#ee8a6e"/><stop offset="0.2583" stop-color="#f08f72"/><stop offset="0.2735" stop-color="#ee8a6e"/><stop offset="0.2887" stop-color="#f08e72"/><stop offset="0.3039" stop-color="#ef8e71"/><stop offset="0.3191" stop-color="#ee8b6f"/><stop offset="0.3343" stop-color="#f09073"/><stop offset="0.3495" stop-color="#f09073"/><stop offset="0.3647" stop-color="#ee8a6f"/><stop offset="0.3799" stop-color="#f08f72"/><stop offset="0.3951" stop-color="#ef8e72"/><stop offset="0.4103" stop-color="#ef8c70"/><stop offset="0.4255" stop-color="#ef8c70"/><stop offset="0.4406" stop-color="#f19174"/><stop offset="0.4558" stop-color="#f4a082"/><stop offset="0.4710" stop-color="#f5b79d"/><stop offset="0.4862" stop-color="#f5c3ac"/><stop offset="0.5014" stop-color="#f2c7b2"/><stop offset="0.5166" stop-color="#f3c6b1"/><stop offset="0.5318" stop-color="#f5c1a9"/><stop offset="0.5470" stop-color="#f4af93"/><stop offset="0.5622" stop-color="#f19376"/><stop offset="0.5774" stop-color="#f4997a"/><stop offset="0.5926" stop-color="#f39778"/><stop offset="0.6078" stop-color="#f19275"/><stop offset="0.6230" stop-color="#f4997a"/><stop offset="0.6382" stop-color="#f09073"/><stop offset="0.6534" stop-color="#f09073"/><stop offset="0.6686" stop-color="#f4997b"/><stop offset="0.6838" stop-color="#f09073"/><stop offset="0.6990" stop-color="#f29577"/><stop offset="0.7142" stop-color="#f19174"/><stop offset="0.7293" stop-color="#f19174"/><stop offset="0.7445" stop-color="#f39778"/><stop offset="0.7597" stop-color="#f19275"/><stop offset="0.7749" stop-color="#f19275"/><stop offset="0.7901" stop-color="#f19174"/><stop offset="0.8053" stop-color="#f39779"/><stop offset="0.8205" stop-color="#f19274"/><stop offset="0.8357" stop-color="#f09073"/><stop offset="0.8509" stop-color="#f19275"/><stop offset="0.8661" stop-color="#f19376"/><stop offset="0.8813" stop-color="#f4997a"/><stop offset="0.8965" stop-color="#f29476"/><stop offset="0.9117" stop-color="#f29678"/><stop offset="0.9269" stop-color="#f49c7e"/><stop offset="0.9421" stop-color="#f5b196"/><stop offset="0.9573" stop-color="#f4c6b0"/><stop offset="0.9725" stop-color="#e6d4cc"/><stop offset="0.9877" stop-color="#dedcdb"/><stop offset="1.0000" stop-color="#dedcdb"/></linearGradient><linearGradient id="hr7" gradientUnits="userSpaceOnUse" x1="234.4" y1="0" x2="445" y2="0"><stop offset="0.0000" stop-color="#9cbbfc"/><stop offset="0.0152" stop-color="#a5c2fb"/><stop offset="0.0304" stop-color="#acc7fa"/><stop offset="0.0456" stop-color="#dddddd"/><stop offset="0.0608" stop-color="#f39879"/><stop offset="0.0760" stop-color="#ed866b"/><stop offset="0.0912" stop-color="#e5735c"/><stop offset="0.1064" stop-color="#de614e"/><stop offset="0.1216" stop-color="#df624f"/><stop offset="0.1368" stop-color="#df624f"/><stop offset="0.1519" stop-color="#df624e"/><stop offset="0.1671" stop-color="#df634f"/><stop offset="0.1823" stop-color="#e06450"/><stop offset="0.1975" stop-color="#e06551"/><stop offset="0.2127" stop-color="#e06652"/><stop offset="0.2279" stop-color="#de614e"/><stop offset="0.2431" stop-color="#e46f59"/><stop offset="0.2583" stop-color="#ea7f66"/><stop offset="0.2735" stop-color="#eb8167"/><stop offset="0.2887" stop-color="#ec846a"/><stop offset="0.3039" stop-color="#ec856a"/><stop offset="0.3191" stop-color="#ec846a"/><stop offset="0.3343" stop-color="#ea8067"/><stop offset="0.3495" stop-color="#ed876c"/><stop offset="0.3647" stop-color="#eb8369"/><stop offset="0.3799" stop-color="#ec856b"/><stop offset="0.3951" stop-color="#eb8167"/><stop offset="0.4103" stop-color="#ec846a"/><stop offset="0.4255" stop-color="#ec856a"/><stop offset="0.4406" stop-color="#ec846a"/><stop offset="0.4558" stop-color="#f19375"/><stop offset="0.4710" stop-color="#f5b096"/><stop offset="0.4862" stop-color="#f5c4ad"/><stop offset="0.5014" stop-color="#f5c1aa"/><stop offset="0.5166" stop-color="#f1c8b6"/><stop offset="0.5318" stop-color="#f0c9b6"/><stop offset="0.5470" stop-color="#f5c2ab"/><stop offset="0.5622" stop-color="#f4af93"/><stop offset="0.5774" stop-color="#f19375"/><stop offset="0.5926" stop-color="#f19274"/><stop offset="0.6078" stop-color="#f3987a"/><stop offset="0.6230" stop-color="#f09073"/><stop offset="0.6382" stop-color="#e36e58"/><stop offset="0.6534" stop-color="#cf3e3f"/><stop offset="0.6686" stop-color="#ce3c3e"/><stop offset="0.6838" stop-color="#ce3d3e"/><stop offset="0.6990" stop-color="#cf3f3f"/><stop offset="0.7142" stop-color="#d44b44"/><stop offset="0.7293" stop-color="#e26a55"/><stop offset="0.7445" stop-color="#ec856a"/><stop offset="0.7597" stop-color="#eb8369"/><stop offset="0.7749" stop-color="#eb8369"/><stop offset="0.7901" stop-color="#ec866b"/><stop offset="0.8053" stop-color="#ec856b"/><stop offset="0.8205" stop-color="#eb8167"/><stop offset="0.8357" stop-color="#ed876c"/><stop offset="0.8509" stop-color="#ea8167"/><stop offset="0.8661" stop-color="#ea8067"/><stop offset="0.8813" stop-color="#ea8066"/><stop offset="0.8965" stop-color="#ec846a"/><stop offset="0.9117" stop-color="#eb8369"/><stop offset="0.9269" stop-color="#f49e7f"/><stop offset="0.9421" stop-color="#e5d5ce"/><stop offset="0.9573" stop-color="#cad6eb"/><stop offset="0.9725" stop-color="#b0cafa"/><stop offset="0.9877" stop-color="#a9c5fb"/><stop offset="1.0000" stop-color="#abc7fa"/></linearGradient><linearGradient id="hr8" gradientUnits="userSpaceOnUse" x1="234.4" y1="0" x2="447.3" y2="0"><stop offset="0.0000" stop-color="#9ebdfc"/><stop offset="0.0150" stop-color="#9fbdfc"/><stop offset="0.0301" stop-color="#c2d4f1"/><stop offset="0.0451" stop-color="#e3d7d2"/><stop offset="0.0601" stop-color="#f5af94"/><stop offset="0.0752" stop-color="#ef8d71"/><stop offset="0.0902" stop-color="#ea8066"/><stop offset="0.1052" stop-color="#e5715b"/><stop offset="0.1202" stop-color="#df6350"/><stop offset="0.1353" stop-color="#d75147"/><stop offset="0.1503" stop-color="#cf403f"/><stop offset="0.1653" stop-color="#d24642"/><stop offset="0.1804" stop-color="#d04040"/><stop offset="0.1954" stop-color="#cf3f3f"/><stop offset="0.2104" stop-color="#d04140"/><stop offset="0.2255" stop-color="#d54d45"/><stop offset="0.2405" stop-color="#df624e"/><stop offset="0.2555" stop-color="#e5735c"/><stop offset="0.2705" stop-color="#ec866b"/><stop offset="0.2856" stop-color="#eb8167"/><stop offset="0.3006" stop-color="#eb8268"/><stop offset="0.3156" stop-color="#ed876c"/><stop offset="0.3307" stop-color="#ec846a"/><stop offset="0.3457" stop-color="#ec856b"/><stop offset="0.3607" stop-color="#ed876c"/><stop offset="0.3758" stop-color="#eb8369"/><stop offset="0.3908" stop-color="#ea8066"/><stop offset="0.4058" stop-color="#ec856a"/><stop offset="0.4209" stop-color="#ea8067"/><stop offset="0.4359" stop-color="#eb8268"/><stop offset="0.4509" stop-color="#f08f73"/><stop offset="0.4659" stop-color="#f4997a"/><stop offset="0.4810" stop-color="#f4ae92"/><stop offset="0.4960" stop-color="#f5bba2"/><stop offset="0.5110" stop-color="#f4ae93"/><stop offset="0.5261" stop-color="#f49a7b"/><stop offset="0.5411" stop-color="#f29678"/><stop offset="0.5561" stop-color="#f19174"/><stop offset="0.5712" stop-color="#f09073"/><stop offset="0.5862" stop-color="#f09174"/><stop offset="0.6012" stop-color="#f29477"/><stop offset="0.6163" stop-color="#f19274"/><stop offset="0.6313" stop-color="#f29476"/><stop offset="0.6463" stop-color="#f4997a"/><stop offset="0.6613" stop-color="#f49a7b"/><stop offset="0.6764" stop-color="#f49a7b"/><stop offset="0.6914" stop-color="#f39879"/><stop offset="0.7064" stop-color="#f3987a"/><stop offset="0.7215" stop-color="#f29476"/><stop offset="0.7365" stop-color="#f19275"/><stop offset="0.7515" stop-color="#f19376"/><stop offset="0.7666" stop-color="#f29577"/><stop offset="0.7816" stop-color="#ef8d71"/><stop offset="0.7966" stop-color="#e77860"/><stop offset="0.8116" stop-color="#dd5e4c"/><stop offset="0.8267" stop-color="#d34743"/><stop offset="0.8417" stop-color="#d54c44"/><stop offset="0.8567" stop-color="#d64f46"/><stop offset="0.8718" stop-color="#d24642"/><stop offset="0.8868" stop-color="#da5749"/><stop offset="0.9018" stop-color="#e36c57"/><stop offset="0.9169" stop-color="#e6745d"/><stop offset="0.9319" stop-color="#e5735c"/><stop offset="0.9469" stop-color="#e5725b"/><stop offset="0.9620" stop-color="#e6755e"/><stop offset="0.9770" stop-color="#e7775f"/><stop offset="0.9920" stop-color="#e6755e"/><stop offset="1.0000" stop-color="#e4715a"/></linearGradient><linearGradient id="hr9" gradientUnits="userSpaceOnUse" x1="234.4" y1="0" x2="447.3" y2="0"><stop offset="0.0000" stop-color="#5e7ce5"/><stop offset="0.0150" stop-color="#6181e9"/><stop offset="0.0301" stop-color="#607fe8"/><stop offset="0.0451" stop-color="#6180e8"/><stop offset="0.0601" stop-color="#6181e9"/><stop offset="0.0752" stop-color="#7b9df6"/><stop offset="0.0902" stop-color="#94b5fd"/><stop offset="0.1052" stop-color="#b1cbfa"/><stop offset="0.1202" stop-color="#cdd7e9"/><stop offset="0.1353" stop-color="#dbdcdf"/><stop offset="0.1503" stop-color="#dddddd"/><stop offset="0.1653" stop-color="#dadcdf"/><stop offset="0.1804" stop-color="#dcddde"/><stop offset="0.1954" stop-color="#e6d3cb"/><stop offset="0.2104" stop-color="#eeccbc"/><stop offset="0.2255" stop-color="#f5c0a8"/><stop offset="0.2405" stop-color="#f4c5b0"/><stop offset="0.2555" stop-color="#f5c3ab"/><stop offset="0.2705" stop-color="#f5c3ac"/><stop offset="0.2856" stop-color="#f3c6b0"/><stop offset="0.3006" stop-color="#f5bda4"/><stop offset="0.3156" stop-color="#f5c4ae"/><stop offset="0.3307" stop-color="#f4c5af"/><stop offset="0.3457" stop-color="#f5c2ab"/><stop offset="0.3607" stop-color="#f4c5ae"/><stop offset="0.3758" stop-color="#f5c0a9"/><stop offset="0.3908" stop-color="#f5c3ac"/><stop offset="0.4058" stop-color="#f4c5af"/><stop offset="0.4209" stop-color="#f4c5b0"/><stop offset="0.4359" stop-color="#f5bfa7"/><stop offset="0.4509" stop-color="#f5c4ad"/><stop offset="0.4659" stop-color="#f5bfa7"/><stop offset="0.4810" stop-color="#f5c2ab"/><stop offset="0.4960" stop-color="#f5bda5"/><stop offset="0.5110" stop-color="#f5c4ad"/><stop offset="0.5261" stop-color="#f5c4ad"/><stop offset="0.5411" stop-color="#f5c4ad"/><stop offset="0.5561" stop-color="#eccec0"/><stop offset="0.5712" stop-color="#eacfc2"/><stop offset="0.5862" stop-color="#f4c5b0"/><stop offset="0.6012" stop-color="#f5b49a"/><stop offset="0.6163" stop-color="#f49c7e"/><stop offset="0.6313" stop-color="#f4997a"/><stop offset="0.6463" stop-color="#f49d7f"/><stop offset="0.6613" stop-color="#f4a386"/><stop offset="0.6764" stop-color="#f4a386"/><stop offset="0.6914" stop-color="#f4a385"/><stop offset="0.7064" stop-color="#f4a284"/><stop offset="0.7215" stop-color="#f4a386"/><stop offset="0.7365" stop-color="#f4a386"/><stop offset="0.7515" stop-color="#f49d7e"/><stop offset="0.7666" stop-color="#f08f72"/><stop offset="0.7816" stop-color="#e87b62"/><stop offset="0.7966" stop-color="#dd5f4c"/><stop offset="0.8116" stop-color="#df634f"/><stop offset="0.8267" stop-color="#de604d"/><stop offset="0.8417" stop-color="#de5f4d"/><stop offset="0.8567" stop-color="#de5f4d"/><stop offset="0.8718" stop-color="#e06652"/><stop offset="0.8868" stop-color="#e06450"/><stop offset="0.9018" stop-color="#e36d57"/><stop offset="0.9169" stop-color="#e97d64"/><stop offset="0.9319" stop-color="#f09073"/><stop offset="0.9469" stop-color="#f08f72"/><stop offset="0.9620" stop-color="#ee8a6f"/><stop offset="0.9770" stop-color="#f09073"/><stop offset="0.9920" stop-color="#ef8e71"/><stop offset="1.0000" stop-color="#f08e72"/></linearGradient><linearGradient id="hr10" gradientUnits="userSpaceOnUse" x1="234.4" y1="0" x2="447.3" y2="0"><stop offset="0.0000" stop-color="#7d9ff7"/><stop offset="0.0150" stop-color="#7fa1f8"/><stop offset="0.0301" stop-color="#799bf5"/><stop offset="0.0451" stop-color="#7ea0f7"/><stop offset="0.0601" stop-color="#7ea0f7"/><stop offset="0.0752" stop-color="#7fa1f7"/><stop offset="0.0902" stop-color="#88abfc"/><stop offset="0.1052" stop-color="#b3ccfa"/><stop offset="0.1202" stop-color="#aec9fa"/><stop offset="0.1353" stop-color="#afc9fa"/><stop offset="0.1503" stop-color="#adc8fa"/><stop offset="0.1653" stop-color="#b2cbfa"/><stop offset="0.1804" stop-color="#afc9fa"/><stop offset="0.1954" stop-color="#a2c0fc"/><stop offset="0.2104" stop-color="#91b3fe"/><stop offset="0.2255" stop-color="#85a8fa"/><stop offset="0.2405" stop-color="#84a6fa"/><stop offset="0.2555" stop-color="#84a7fa"/><stop offset="0.2705" stop-color="#82a4f9"/><stop offset="0.2856" stop-color="#83a5f9"/><stop offset="0.3006" stop-color="#80a2f8"/><stop offset="0.3156" stop-color="#84a7fa"/><stop offset="0.3307" stop-color="#7fa1f7"/><stop offset="0.3457" stop-color="#82a5f9"/><stop offset="0.3607" stop-color="#85a7fa"/><stop offset="0.3758" stop-color="#84a7fa"/><stop offset="0.3908" stop-color="#7fa1f8"/><stop offset="0.4058" stop-color="#81a3f8"/><stop offset="0.4209" stop-color="#86a8fb"/><stop offset="0.4359" stop-color="#84a6fa"/><stop offset="0.4509" stop-color="#86a8fb"/><stop offset="0.4659" stop-color="#86a8fb"/><stop offset="0.4810" stop-color="#82a5f9"/><stop offset="0.4960" stop-color="#86a8fb"/><stop offset="0.5110" stop-color="#85a7fa"/><stop offset="0.5261" stop-color="#81a3f9"/><stop offset="0.5411" stop-color="#82a4f9"/><stop offset="0.5561" stop-color="#bdd2f6"/><stop offset="0.5712" stop-color="#d1d9e6"/><stop offset="0.5862" stop-color="#e5d4cc"/><stop offset="0.6012" stop-color="#f0cab8"/><stop offset="0.6163" stop-color="#f4ad92"/><stop offset="0.6313" stop-color="#f4997a"/><stop offset="0.6463" stop-color="#f49a7b"/><stop offset="0.6613" stop-color="#f19275"/><stop offset="0.6764" stop-color="#f39779"/><stop offset="0.6914" stop-color="#f49a7b"/><stop offset="0.7064" stop-color="#f3997a"/><stop offset="0.7215" stop-color="#f19275"/><stop offset="0.7365" stop-color="#f19375"/><stop offset="0.7515" stop-color="#f49a7c"/><stop offset="0.7666" stop-color="#ee8b6f"/><stop offset="0.7816" stop-color="#e06551"/><stop offset="0.7966" stop-color="#d14441"/><stop offset="0.8116" stop-color="#cf403f"/><stop offset="0.8267" stop-color="#d04140"/><stop offset="0.8417" stop-color="#ce3d3e"/><stop offset="0.8567" stop-color="#cf3f3f"/><stop offset="0.8718" stop-color="#ce3d3e"/><stop offset="0.8868" stop-color="#db5a4b"/><stop offset="0.9018" stop-color="#e77860"/><stop offset="0.9169" stop-color="#ec866b"/><stop offset="0.9319" stop-color="#ed876c"/><stop offset="0.9469" stop-color="#ea8167"/><stop offset="0.9620" stop-color="#f08f72"/><stop offset="0.9770" stop-color="#eccdbf"/><stop offset="0.9920" stop-color="#e0dad7"/><stop offset="1.0000" stop-color="#dbdcdf"/></linearGradient><linearGradient id="hr11" gradientUnits="userSpaceOnUse" x1="234.4" y1="0" x2="447.3" y2="0"><stop offset="0.0000" stop-color="#90b2fe"/><stop offset="0.0150" stop-color="#8aacfc"/><stop offset="0.0301" stop-color="#90b2fe"/><stop offset="0.0451" stop-color="#adc8fa"/><stop offset="0.0601" stop-color="#b2ccfa"/><stop offset="0.0752" stop-color="#b0cafa"/><stop offset="0.0902" stop-color="#bcd1f6"/><stop offset="0.1052" stop-color="#dfdbda"/><stop offset="0.1202" stop-color="#dfdbd8"/><stop offset="0.1353" stop-color="#dcddde"/><stop offset="0.1503" stop-color="#dedcdc"/><stop offset="0.1653" stop-color="#dddddd"/><stop offset="0.1804" stop-color="#dadcdf"/><stop offset="0.1954" stop-color="#e4d6cf"/><stop offset="0.2104" stop-color="#eacfc3"/><stop offset="0.2255" stop-color="#f3c6b1"/><stop offset="0.2405" stop-color="#efcab8"/><stop offset="0.2555" stop-color="#f2c8b4"/><stop offset="0.2705" stop-color="#f1c8b5"/><stop offset="0.2856" stop-color="#f3c6b2"/><stop offset="0.3006" stop-color="#efcbba"/><stop offset="0.3156" stop-color="#f0c9b6"/><stop offset="0.3307" stop-color="#f1c8b5"/><stop offset="0.3457" stop-color="#efcbba"/><stop offset="0.3607" stop-color="#eccdbf"/><stop offset="0.3758" stop-color="#e6d4cb"/><stop offset="0.3908" stop-color="#dcdddd"/><stop offset="0.4058" stop-color="#dedcdb"/><stop offset="0.4209" stop-color="#dedcdc"/><stop offset="0.4359" stop-color="#dbdcdf"/><stop offset="0.4509" stop-color="#dcddde"/><stop offset="0.4659" stop-color="#e0dad7"/><stop offset="0.4810" stop-color="#dcddde"/><stop offset="0.4960" stop-color="#dddddd"/><stop offset="0.5110" stop-color="#dadcdf"/><stop offset="0.5261" stop-color="#dbdcdf"/><stop offset="0.5411" stop-color="#dbdcdf"/><stop offset="0.5561" stop-color="#e0dad8"/><stop offset="0.5712" stop-color="#e8d2c8"/><stop offset="0.5862" stop-color="#f2c7b3"/><stop offset="0.6012" stop-color="#f5b9a0"/><stop offset="0.6163" stop-color="#f5b297"/><stop offset="0.6313" stop-color="#f4a385"/><stop offset="0.6463" stop-color="#f49b7d"/><stop offset="0.6613" stop-color="#f29577"/><stop offset="0.6764" stop-color="#f09073"/><stop offset="0.6914" stop-color="#f09073"/><stop offset="0.7064" stop-color="#f09073"/><stop offset="0.7215" stop-color="#f29476"/><stop offset="0.7365" stop-color="#f19174"/><stop offset="0.7515" stop-color="#eb8167"/><stop offset="0.7666" stop-color="#e46f59"/><stop offset="0.7816" stop-color="#e47059"/><stop offset="0.7966" stop-color="#e6755d"/><stop offset="0.8116" stop-color="#e47059"/><stop offset="0.8267" stop-color="#e6755e"/><stop offset="0.8417" stop-color="#e6765f"/><stop offset="0.8567" stop-color="#e5715b"/><stop offset="0.8718" stop-color="#e6755d"/><stop offset="0.8868" stop-color="#e5735c"/><stop offset="0.9018" stop-color="#e5725b"/><stop offset="0.9169" stop-color="#ea7f66"/><stop offset="0.9319" stop-color="#ee8b6f"/><stop offset="0.9469" stop-color="#f5af94"/><stop offset="0.9620" stop-color="#e3d7d1"/><stop offset="0.9770" stop-color="#c0d3f3"/><stop offset="0.9920" stop-color="#b1cbfa"/><stop offset="1.0000" stop-color="#b1cbfa"/></linearGradient><linearGradient id="hr12" gradientUnits="userSpaceOnUse" x1="234.4" y1="0" x2="447.3" y2="0"><stop offset="0.0000" stop-color="#9cbbfc"/><stop offset="0.0150" stop-color="#9bbafc"/><stop offset="0.0301" stop-color="#b1cafa"/><stop offset="0.0451" stop-color="#cdd8e9"/><stop offset="0.0601" stop-color="#ebcfc2"/><stop offset="0.0752" stop-color="#f4a386"/><stop offset="0.0902" stop-color="#f19174"/><stop offset="0.1052" stop-color="#f19275"/><stop offset="0.1202" stop-color="#f09073"/><stop offset="0.1353" stop-color="#f09073"/><stop offset="0.1503" stop-color="#f09174"/><stop offset="0.1653" stop-color="#f29577"/><stop offset="0.1804" stop-color="#f3987a"/><stop offset="0.1954" stop-color="#f39678"/><stop offset="0.2104" stop-color="#f29476"/><stop offset="0.2255" stop-color="#f19376"/><stop offset="0.2405" stop-color="#f19376"/><stop offset="0.2555" stop-color="#f29677"/><stop offset="0.2705" stop-color="#f09174"/><stop offset="0.2856" stop-color="#f39778"/><stop offset="0.3006" stop-color="#f29476"/><stop offset="0.3156" stop-color="#ec856a"/><stop offset="0.3307" stop-color="#e36e58"/><stop offset="0.3457" stop-color="#e36e58"/><stop offset="0.3607" stop-color="#e46f59"/><stop offset="0.3758" stop-color="#e26a55"/><stop offset="0.3908" stop-color="#e4705a"/><stop offset="0.4058" stop-color="#e46f59"/><stop offset="0.4209" stop-color="#e36c57"/><stop offset="0.4359" stop-color="#e36c57"/><stop offset="0.4509" stop-color="#ea7f65"/><stop offset="0.4659" stop-color="#f39779"/><stop offset="0.4810" stop-color="#f5b49a"/><stop offset="0.4960" stop-color="#e5d4cd"/><stop offset="0.5110" stop-color="#dddddd"/><stop offset="0.5261" stop-color="#e0dad7"/><stop offset="0.5411" stop-color="#e5d5cd"/><stop offset="0.5561" stop-color="#efcab9"/><stop offset="0.5712" stop-color="#f3c6b2"/><stop offset="0.5862" stop-color="#f5b69d"/><stop offset="0.6012" stop-color="#f4a88b"/><stop offset="0.6163" stop-color="#f29477"/><stop offset="0.6313" stop-color="#f29678"/><stop offset="0.6463" stop-color="#f49a7b"/><stop offset="0.6613" stop-color="#f19376"/><stop offset="0.6764" stop-color="#f4997b"/><stop offset="0.6914" stop-color="#f39678"/><stop offset="0.7064" stop-color="#f39779"/><stop offset="0.7215" stop-color="#f19174"/><stop offset="0.7365" stop-color="#f29577"/><stop offset="0.7515" stop-color="#f39779"/><stop offset="0.7666" stop-color="#f49a7b"/><stop offset="0.7816" stop-color="#f29577"/><stop offset="0.7966" stop-color="#f19375"/><stop offset="0.8116" stop-color="#f19275"/><stop offset="0.8267" stop-color="#f09073"/><stop offset="0.8417" stop-color="#f19174"/><stop offset="0.8567" stop-color="#f39779"/><stop offset="0.8718" stop-color="#f4997a"/><stop offset="0.8868" stop-color="#f19174"/><stop offset="0.9018" stop-color="#f19174"/><stop offset="0.9169" stop-color="#f29376"/><stop offset="0.9319" stop-color="#f19174"/><stop offset="0.9469" stop-color="#f49a7b"/><stop offset="0.9620" stop-color="#f5b197"/><stop offset="0.9770" stop-color="#f4c5ae"/><stop offset="0.9920" stop-color="#f3c6b0"/><stop offset="1.0000" stop-color="#f5c0a8"/></linearGradient><linearGradient id="hr13" gradientUnits="userSpaceOnUse" x1="234.4" y1="0" x2="442.4" y2="0"><stop offset="0.0000" stop-color="#b3ccfa"/><stop offset="0.0154" stop-color="#b3ccfa"/><stop offset="0.0308" stop-color="#cad6eb"/><stop offset="0.0462" stop-color="#f0c9b6"/><stop offset="0.0615" stop-color="#ef8e71"/><stop offset="0.0769" stop-color="#ee8b6f"/><stop offset="0.0923" stop-color="#ef8c70"/><stop offset="0.1077" stop-color="#ef8e71"/><stop offset="0.1231" stop-color="#e47059"/><stop offset="0.1385" stop-color="#db594a"/><stop offset="0.1538" stop-color="#db594a"/><stop offset="0.1692" stop-color="#d85347"/><stop offset="0.1846" stop-color="#d64f46"/><stop offset="0.2000" stop-color="#d95448"/><stop offset="0.2154" stop-color="#d95649"/><stop offset="0.2308" stop-color="#da5749"/><stop offset="0.2462" stop-color="#e77760"/><stop offset="0.2615" stop-color="#ee8b6f"/><stop offset="0.2769" stop-color="#ef8d71"/><stop offset="0.2923" stop-color="#ee896e"/><stop offset="0.3077" stop-color="#f09073"/><stop offset="0.3231" stop-color="#f08e72"/><stop offset="0.3385" stop-color="#ef8d71"/><stop offset="0.3538" stop-color="#ef8e71"/><stop offset="0.3692" stop-color="#ee8a6f"/><stop offset="0.3846" stop-color="#ee8a6f"/><stop offset="0.4000" stop-color="#ee8a6e"/><stop offset="0.4154" stop-color="#ef8c70"/><stop offset="0.4308" stop-color="#f09174"/><stop offset="0.4462" stop-color="#ef8c70"/><stop offset="0.4615" stop-color="#ef8d70"/><stop offset="0.4769" stop-color="#ef8d71"/><stop offset="0.4923" stop-color="#f08f72"/><stop offset="0.5077" stop-color="#ee8b6f"/><stop offset="0.5231" stop-color="#ee8a6e"/><stop offset="0.5385" stop-color="#f09073"/><stop offset="0.5538" stop-color="#f08f72"/><stop offset="0.5692" stop-color="#f39879"/><stop offset="0.5846" stop-color="#f49d7f"/><stop offset="0.6000" stop-color="#f49a7b"/><stop offset="0.6154" stop-color="#f4997a"/><stop offset="0.6308" stop-color="#f49d7e"/><stop offset="0.6462" stop-color="#f4a184"/><stop offset="0.6615" stop-color="#f49a7b"/><stop offset="0.6769" stop-color="#f4a284"/><stop offset="0.6923" stop-color="#f49f81"/><stop offset="0.7077" stop-color="#f49b7c"/><stop offset="0.7231" stop-color="#f19174"/><stop offset="0.7385" stop-color="#eb8469"/><stop offset="0.7538" stop-color="#e4705a"/><stop offset="0.7692" stop-color="#e47059"/><stop offset="0.7846" stop-color="#e6745d"/><stop offset="0.8000" stop-color="#e6745d"/><stop offset="0.8154" stop-color="#e6755d"/><stop offset="0.8308" stop-color="#e6765e"/><stop offset="0.8462" stop-color="#ea7f65"/><stop offset="0.8615" stop-color="#ef8d70"/><stop offset="0.8769" stop-color="#f49a7b"/><stop offset="0.8923" stop-color="#f39779"/><stop offset="0.9077" stop-color="#f39879"/><stop offset="0.9231" stop-color="#f49a7b"/><stop offset="0.9385" stop-color="#f19376"/><stop offset="0.9538" stop-color="#f19274"/><stop offset="0.9692" stop-color="#f4a183"/><stop offset="0.9846" stop-color="#e9d0c5"/><stop offset="1.0000" stop-color="#dfdbd9"/><stop offset="1.0000" stop-color="#d9dce0"/></linearGradient><linearGradient id="hr14" gradientUnits="userSpaceOnUse" x1="234.4" y1="0" x2="434.7" y2="0"><stop offset="0.0000" stop-color="#f4a083"/><stop offset="0.0160" stop-color="#f4997a"/><stop offset="0.0320" stop-color="#f4a183"/><stop offset="0.0479" stop-color="#ed886d"/><stop offset="0.0639" stop-color="#e6755e"/><stop offset="0.0799" stop-color="#e6755e"/><stop offset="0.0959" stop-color="#e5735c"/><stop offset="0.1118" stop-color="#e7775f"/><stop offset="0.1278" stop-color="#e6755e"/><stop offset="0.1438" stop-color="#e46f59"/><stop offset="0.1598" stop-color="#e6765e"/><stop offset="0.1757" stop-color="#e4705a"/><stop offset="0.1917" stop-color="#e6765e"/><stop offset="0.2077" stop-color="#e77961"/><stop offset="0.2237" stop-color="#ee8a6e"/><stop offset="0.2396" stop-color="#f49c7d"/><stop offset="0.2556" stop-color="#f4a284"/><stop offset="0.2716" stop-color="#f4a386"/><stop offset="0.2876" stop-color="#f49b7d"/><stop offset="0.3035" stop-color="#f4a284"/><stop offset="0.3195" stop-color="#f4a184"/><stop offset="0.3355" stop-color="#f49b7c"/><stop offset="0.3515" stop-color="#f49a7b"/><stop offset="0.3674" stop-color="#f4a386"/><stop offset="0.3834" stop-color="#f3c6b1"/><stop offset="0.3994" stop-color="#ccd7e9"/><stop offset="0.4154" stop-color="#b7cff9"/><stop offset="0.4314" stop-color="#9dbcfc"/><stop offset="0.4473" stop-color="#9dbcfc"/><stop offset="0.4633" stop-color="#a2c0fc"/><stop offset="0.4793" stop-color="#9cbbfc"/><stop offset="0.4953" stop-color="#9bbbfc"/><stop offset="0.5112" stop-color="#a8c4fb"/><stop offset="0.5272" stop-color="#bed2f4"/><stop offset="0.5432" stop-color="#ccd7ea"/><stop offset="0.5592" stop-color="#e4d6d0"/><stop offset="0.5751" stop-color="#f3c6b0"/><stop offset="0.5911" stop-color="#f4a184"/><stop offset="0.6071" stop-color="#f4997a"/><stop offset="0.6231" stop-color="#f3987a"/><stop offset="0.6390" stop-color="#f4997a"/><stop offset="0.6550" stop-color="#f4a183"/><stop offset="0.6710" stop-color="#f4a082"/><stop offset="0.6870" stop-color="#f4997a"/><stop offset="0.7029" stop-color="#f49e80"/><stop offset="0.7189" stop-color="#f49c7d"/><stop offset="0.7349" stop-color="#f4a082"/><stop offset="0.7509" stop-color="#f4a386"/><stop offset="0.7668" stop-color="#f4a082"/><stop offset="0.7828" stop-color="#f49c7d"/><stop offset="0.7988" stop-color="#f49b7c"/><stop offset="0.8148" stop-color="#f49d7f"/><stop offset="0.8308" stop-color="#f49f80"/><stop offset="0.8467" stop-color="#f49e7f"/><stop offset="0.8627" stop-color="#f49f81"/><stop offset="0.8787" stop-color="#f49e80"/><stop offset="0.8947" stop-color="#f49b7c"/><stop offset="0.9106" stop-color="#f4a184"/><stop offset="0.9266" stop-color="#f4ac91"/><stop offset="0.9426" stop-color="#f5bda5"/><stop offset="0.9586" stop-color="#e4d6cf"/><stop offset="0.9745" stop-color="#c0d3f3"/><stop offset="0.9905" stop-color="#c3d4f1"/><stop offset="1.0000" stop-color="#c2d3f2"/></linearGradient><linearGradient id="hr15" gradientUnits="userSpaceOnUse" x1="234.4" y1="0" x2="432" y2="0"><stop offset="0.0000" stop-color="#799bf5"/><stop offset="0.0162" stop-color="#7a9cf5"/><stop offset="0.0324" stop-color="#a1bffc"/><stop offset="0.0486" stop-color="#dadce0"/><stop offset="0.0648" stop-color="#f4ae93"/><stop offset="0.0810" stop-color="#ef8e71"/><stop offset="0.0972" stop-color="#ee8a6e"/><stop offset="0.1134" stop-color="#f09073"/><stop offset="0.1296" stop-color="#f19174"/><stop offset="0.1457" stop-color="#ee8a6e"/><stop offset="0.1619" stop-color="#ea8167"/><stop offset="0.1781" stop-color="#e46f59"/><stop offset="0.1943" stop-color="#e5725b"/><stop offset="0.2105" stop-color="#e5735c"/><stop offset="0.2267" stop-color="#e4715a"/><stop offset="0.2429" stop-color="#e6765f"/><stop offset="0.2591" stop-color="#f29577"/><stop offset="0.2753" stop-color="#f49f81"/><stop offset="0.2915" stop-color="#f4a284"/><stop offset="0.3077" stop-color="#f49d7f"/><stop offset="0.3239" stop-color="#f4a082"/><stop offset="0.3401" stop-color="#f49e80"/><stop offset="0.3563" stop-color="#f4a082"/><stop offset="0.3725" stop-color="#f4a082"/><stop offset="0.3887" stop-color="#f49b7c"/><stop offset="0.4049" stop-color="#f19174"/><stop offset="0.4211" stop-color="#ee896e"/><stop offset="0.4372" stop-color="#ee8a6e"/><stop offset="0.4534" stop-color="#ee8a6e"/><stop offset="0.4696" stop-color="#ee8a6f"/><stop offset="0.4858" stop-color="#f08f72"/><stop offset="0.5020" stop-color="#ee896e"/><stop offset="0.5182" stop-color="#f08f72"/><stop offset="0.5344" stop-color="#ee8b6f"/><stop offset="0.5506" stop-color="#e97d64"/><stop offset="0.5668" stop-color="#e46f59"/><stop offset="0.5830" stop-color="#e36e58"/><stop offset="0.5992" stop-color="#e26b56"/><stop offset="0.6154" stop-color="#e36e58"/><stop offset="0.6316" stop-color="#e16954"/><stop offset="0.6478" stop-color="#e36d57"/><stop offset="0.6640" stop-color="#e36d57"/><stop offset="0.6802" stop-color="#e36c57"/><stop offset="0.6964" stop-color="#e26a55"/><stop offset="0.7126" stop-color="#e16954"/><stop offset="0.7287" stop-color="#e36c57"/><stop offset="0.7449" stop-color="#e36d57"/><stop offset="0.7611" stop-color="#e26c56"/><stop offset="0.7773" stop-color="#e4705a"/><stop offset="0.7935" stop-color="#e36d57"/><stop offset="0.8097" stop-color="#e87a61"/><stop offset="0.8259" stop-color="#ee8b6f"/><stop offset="0.8421" stop-color="#f4a386"/><stop offset="0.8583" stop-color="#f49a7b"/><stop offset="0.8745" stop-color="#f49f81"/><stop offset="0.8907" stop-color="#f3997a"/><stop offset="0.9069" stop-color="#f4a082"/><stop offset="0.9231" stop-color="#f4a184"/><stop offset="0.9393" stop-color="#f5b9a0"/><stop offset="0.9555" stop-color="#e8d1c6"/><stop offset="0.9717" stop-color="#bed2f4"/><stop offset="0.9879" stop-color="#a1bffc"/><stop offset="1.0000" stop-color="#a0befc"/></linearGradient><linearGradient id="hr16" gradientUnits="userSpaceOnUse" x1="234.4" y1="0" x2="434.7" y2="0"><stop offset="0.0000" stop-color="#698aed"/><stop offset="0.0160" stop-color="#6989ed"/><stop offset="0.0320" stop-color="#6d8eef"/><stop offset="0.0479" stop-color="#8caffe"/><stop offset="0.0639" stop-color="#b9d0f8"/><stop offset="0.0799" stop-color="#e9d1c5"/><stop offset="0.0959" stop-color="#f4a183"/><stop offset="0.1118" stop-color="#f19375"/><stop offset="0.1278" stop-color="#f4997a"/><stop offset="0.1438" stop-color="#eb8369"/><stop offset="0.1598" stop-color="#e36e58"/><stop offset="0.1757" stop-color="#e26c56"/><stop offset="0.1917" stop-color="#e46f59"/><stop offset="0.2077" stop-color="#e4705a"/><stop offset="0.2237" stop-color="#e36e58"/><stop offset="0.2396" stop-color="#e36e58"/><stop offset="0.2556" stop-color="#f19275"/><stop offset="0.2716" stop-color="#f19376"/><stop offset="0.2876" stop-color="#f09073"/><stop offset="0.3035" stop-color="#f19376"/><stop offset="0.3195" stop-color="#f19274"/><stop offset="0.3355" stop-color="#f19174"/><stop offset="0.3515" stop-color="#f19174"/><stop offset="0.3674" stop-color="#f09073"/><stop offset="0.3834" stop-color="#f29477"/><stop offset="0.3994" stop-color="#f19275"/><stop offset="0.4154" stop-color="#f4997a"/><stop offset="0.4314" stop-color="#f09173"/><stop offset="0.4473" stop-color="#f29577"/><stop offset="0.4633" stop-color="#f29476"/><stop offset="0.4793" stop-color="#e87b63"/><stop offset="0.4953" stop-color="#df624f"/><stop offset="0.5112" stop-color="#d64e46"/><stop offset="0.5272" stop-color="#d24742"/><stop offset="0.5432" stop-color="#d44943"/><stop offset="0.5592" stop-color="#d75046"/><stop offset="0.5751" stop-color="#db5a4b"/><stop offset="0.5911" stop-color="#df6350"/><stop offset="0.6071" stop-color="#e47059"/><stop offset="0.6231" stop-color="#e26a55"/><stop offset="0.6390" stop-color="#e46f59"/><stop offset="0.6550" stop-color="#e36e58"/><stop offset="0.6710" stop-color="#e36d58"/><stop offset="0.6870" stop-color="#e36c57"/><stop offset="0.7029" stop-color="#e5735c"/><stop offset="0.7189" stop-color="#ea8066"/><stop offset="0.7349" stop-color="#ef8e71"/><stop offset="0.7509" stop-color="#f29477"/><stop offset="0.7668" stop-color="#f4997b"/><stop offset="0.7828" stop-color="#f09073"/><stop offset="0.7988" stop-color="#f19275"/><stop offset="0.8148" stop-color="#f49a7b"/><stop offset="0.8308" stop-color="#f49a7b"/><stop offset="0.8467" stop-color="#f4aa8f"/><stop offset="0.8627" stop-color="#f5bba3"/><stop offset="0.8787" stop-color="#e9d1c6"/><stop offset="0.8947" stop-color="#dcddde"/><stop offset="0.9106" stop-color="#ccd7ea"/><stop offset="0.9266" stop-color="#b7cff9"/><stop offset="0.9426" stop-color="#b1cbfa"/><stop offset="0.9586" stop-color="#afc9fa"/><stop offset="0.9745" stop-color="#a9c5fb"/><stop offset="0.9905" stop-color="#a8c4fb"/><stop offset="1.0000" stop-color="#a9c5fb"/></linearGradient><linearGradient id="hr17" gradientUnits="userSpaceOnUse" x1="234.4" y1="0" x2="434.7" y2="0"><stop offset="0.0000" stop-color="#6e8fef"/><stop offset="0.0160" stop-color="#6889ed"/><stop offset="0.0320" stop-color="#6a8aee"/><stop offset="0.0479" stop-color="#789af4"/><stop offset="0.0639" stop-color="#9cbbfc"/><stop offset="0.0799" stop-color="#bfd2f4"/><stop offset="0.0959" stop-color="#e0dad8"/><stop offset="0.1118" stop-color="#dddddd"/><stop offset="0.1278" stop-color="#e8d1c7"/><stop offset="0.1438" stop-color="#f5c1aa"/><stop offset="0.1598" stop-color="#f4ae93"/><stop offset="0.1757" stop-color="#f4ac90"/><stop offset="0.1917" stop-color="#f4a88b"/><stop offset="0.2077" stop-color="#f4ab8f"/><stop offset="0.2237" stop-color="#f4ae93"/><stop offset="0.2396" stop-color="#f4a68a"/><stop offset="0.2556" stop-color="#f4aa8e"/><stop offset="0.2716" stop-color="#f4ab8f"/><stop offset="0.2876" stop-color="#f4af94"/><stop offset="0.3035" stop-color="#f4ae92"/><stop offset="0.3195" stop-color="#ee8b6f"/><stop offset="0.3355" stop-color="#e36c57"/><stop offset="0.3515" stop-color="#d44a44"/><stop offset="0.3674" stop-color="#d44943"/><stop offset="0.3834" stop-color="#d54c45"/><stop offset="0.3994" stop-color="#d34743"/><stop offset="0.4154" stop-color="#d24642"/><stop offset="0.4314" stop-color="#d24642"/><stop offset="0.4473" stop-color="#e06551"/><stop offset="0.4633" stop-color="#ea7f66"/><stop offset="0.4793" stop-color="#ed876c"/><stop offset="0.4953" stop-color="#ec8469"/><stop offset="0.5112" stop-color="#ec856a"/><stop offset="0.5272" stop-color="#ec866b"/><stop offset="0.5432" stop-color="#ea8067"/><stop offset="0.5592" stop-color="#e97e65"/><stop offset="0.5751" stop-color="#d34943"/><stop offset="0.5911" stop-color="#c62b37"/><stop offset="0.6071" stop-color="#cb363b"/><stop offset="0.6231" stop-color="#c62c37"/><stop offset="0.6390" stop-color="#c9323a"/><stop offset="0.6550" stop-color="#cc383c"/><stop offset="0.6710" stop-color="#d44b44"/><stop offset="0.6870" stop-color="#de604d"/><stop offset="0.7029" stop-color="#df634f"/><stop offset="0.7189" stop-color="#df6450"/><stop offset="0.7349" stop-color="#de604d"/><stop offset="0.7509" stop-color="#e36e58"/><stop offset="0.7668" stop-color="#ed896d"/><stop offset="0.7828" stop-color="#f49e80"/><stop offset="0.7988" stop-color="#f49f81"/><stop offset="0.8148" stop-color="#f4a284"/><stop offset="0.8308" stop-color="#f4a183"/><stop offset="0.8467" stop-color="#f4a183"/><stop offset="0.8627" stop-color="#f5b197"/><stop offset="0.8787" stop-color="#e9d1c6"/><stop offset="0.8947" stop-color="#d2d9e5"/><stop offset="0.9106" stop-color="#bfd2f4"/><stop offset="0.9266" stop-color="#afc9fa"/><stop offset="0.9426" stop-color="#aec9fa"/><stop offset="0.9586" stop-color="#aac5fb"/><stop offset="0.9745" stop-color="#acc7fa"/><stop offset="0.9905" stop-color="#a6c3fb"/><stop offset="1.0000" stop-color="#aac6fb"/></linearGradient><linearGradient id="hr18" gradientUnits="userSpaceOnUse" x1="234.4" y1="0" x2="509" y2="0"><stop offset="0.0000" stop-color="#6c8cee"/><stop offset="0.0117" stop-color="#6888ed"/><stop offset="0.0233" stop-color="#6d8def"/><stop offset="0.0350" stop-color="#6a8aee"/><stop offset="0.0466" stop-color="#8aadfd"/><stop offset="0.0583" stop-color="#aec8fa"/><stop offset="0.0699" stop-color="#d3dae4"/><stop offset="0.0816" stop-color="#dddddd"/><stop offset="0.0932" stop-color="#dadcdf"/><stop offset="0.1049" stop-color="#dfdbda"/><stop offset="0.1165" stop-color="#e6d4cb"/><stop offset="0.1282" stop-color="#f3c6b1"/><stop offset="0.1398" stop-color="#f5c1a9"/><stop offset="0.1515" stop-color="#f5c4ad"/><stop offset="0.1631" stop-color="#f5bda5"/><stop offset="0.1748" stop-color="#f5c0a8"/><stop offset="0.1865" stop-color="#e6d4cb"/><stop offset="0.1981" stop-color="#cfd8e8"/><stop offset="0.2098" stop-color="#95b6fd"/><stop offset="0.2214" stop-color="#5773de"/><stop offset="0.2331" stop-color="#4d65d3"/><stop offset="0.2447" stop-color="#4154c7"/><stop offset="0.2564" stop-color="#3f51c4"/><stop offset="0.2680" stop-color="#4357c8"/><stop offset="0.2797" stop-color="#4053c5"/><stop offset="0.2913" stop-color="#4357c9"/><stop offset="0.3030" stop-color="#4256c7"/><stop offset="0.3146" stop-color="#3e51c4"/><stop offset="0.3263" stop-color="#4155c7"/><stop offset="0.3379" stop-color="#4458ca"/><stop offset="0.3496" stop-color="#4154c7"/><stop offset="0.3613" stop-color="#4255c7"/><stop offset="0.3729" stop-color="#4458ca"/><stop offset="0.3846" stop-color="#4154c6"/><stop offset="0.3962" stop-color="#4155c7"/><stop offset="0.4079" stop-color="#4255c7"/><stop offset="0.4195" stop-color="#4458c9"/><stop offset="0.4312" stop-color="#3f52c4"/><stop offset="0.4428" stop-color="#3e50c3"/><stop offset="0.4545" stop-color="#4357c9"/><stop offset="0.4661" stop-color="#4255c7"/><stop offset="0.4778" stop-color="#6f90f0"/><stop offset="0.4894" stop-color="#b8d0f9"/><stop offset="0.5011" stop-color="#e8d2c7"/><stop offset="0.5127" stop-color="#f4a487"/><stop offset="0.5244" stop-color="#f19174"/><stop offset="0.5361" stop-color="#ef8c70"/><stop offset="0.5477" stop-color="#ee8b6f"/><stop offset="0.5594" stop-color="#f08f72"/><stop offset="0.5710" stop-color="#f19174"/><stop offset="0.5827" stop-color="#ef8c70"/><stop offset="0.5943" stop-color="#ee8b6f"/><stop offset="0.6060" stop-color="#f08e72"/><stop offset="0.6176" stop-color="#ef8d71"/><stop offset="0.6293" stop-color="#ef8c70"/><stop offset="0.6409" stop-color="#f08f72"/><stop offset="0.6526" stop-color="#ee8b6f"/><stop offset="0.6642" stop-color="#ef8d70"/><stop offset="0.6759" stop-color="#ed876c"/><stop offset="0.6875" stop-color="#ea7f66"/><stop offset="0.6992" stop-color="#e5735c"/><stop offset="0.7109" stop-color="#e6745d"/><stop offset="0.7225" stop-color="#e5715b"/><stop offset="0.7342" stop-color="#e6765e"/><stop offset="0.7458" stop-color="#e6745d"/><stop offset="0.7575" stop-color="#e6755e"/><stop offset="0.7691" stop-color="#e5745d"/><stop offset="0.7808" stop-color="#e5725c"/><stop offset="0.7924" stop-color="#e6765f"/><stop offset="0.8041" stop-color="#ea8067"/><stop offset="0.8157" stop-color="#ed896d"/><stop offset="0.8274" stop-color="#f39879"/><stop offset="0.8390" stop-color="#f29376"/><stop offset="0.8507" stop-color="#f3987a"/><stop offset="0.8623" stop-color="#f4997b"/><stop offset="0.8740" stop-color="#f19376"/><stop offset="0.8857" stop-color="#f09073"/><stop offset="0.8973" stop-color="#f09174"/><stop offset="0.9090" stop-color="#f19376"/><stop offset="0.9206" stop-color="#f29577"/><stop offset="0.9323" stop-color="#f49a7b"/><stop offset="0.9439" stop-color="#f39778"/><stop offset="0.9556" stop-color="#f49c7d"/><stop offset="0.9672" stop-color="#f5b59c"/><stop offset="0.9789" stop-color="#e1d9d5"/><stop offset="0.9905" stop-color="#c7d5ed"/><stop offset="1.0000" stop-color="#bfd3f4"/></linearGradient><linearGradient id="hr19" gradientUnits="userSpaceOnUse" x1="234.4" y1="0" x2="506.9" y2="0"><stop offset="0.0000" stop-color="#6a8bee"/><stop offset="0.0117" stop-color="#6989ed"/><stop offset="0.0235" stop-color="#6e8ff0"/><stop offset="0.0352" stop-color="#6888ed"/><stop offset="0.0470" stop-color="#b4cdf9"/><stop offset="0.0587" stop-color="#e8d2c7"/><stop offset="0.0705" stop-color="#f4a88c"/><stop offset="0.0822" stop-color="#ec866b"/><stop offset="0.0939" stop-color="#e26a55"/><stop offset="0.1057" stop-color="#de614d"/><stop offset="0.1174" stop-color="#de614e"/><stop offset="0.1292" stop-color="#de5f4d"/><stop offset="0.1409" stop-color="#e06652"/><stop offset="0.1527" stop-color="#de614e"/><stop offset="0.1644" stop-color="#e97e65"/><stop offset="0.1761" stop-color="#f5c1aa"/><stop offset="0.1879" stop-color="#abc7fa"/><stop offset="0.1996" stop-color="#7597f3"/><stop offset="0.2114" stop-color="#4960cf"/><stop offset="0.2231" stop-color="#4c64d2"/><stop offset="0.2349" stop-color="#475dcd"/><stop offset="0.2466" stop-color="#4a61d1"/><stop offset="0.2583" stop-color="#475dcd"/><stop offset="0.2701" stop-color="#485fce"/><stop offset="0.2818" stop-color="#475dcd"/><stop offset="0.2936" stop-color="#4a61d0"/><stop offset="0.3053" stop-color="#495fcf"/><stop offset="0.3171" stop-color="#475ccd"/><stop offset="0.3288" stop-color="#485ece"/><stop offset="0.3406" stop-color="#455acb"/><stop offset="0.3523" stop-color="#485ece"/><stop offset="0.3640" stop-color="#4357c9"/><stop offset="0.3758" stop-color="#455acb"/><stop offset="0.3875" stop-color="#455acb"/><stop offset="0.3993" stop-color="#4357c8"/><stop offset="0.4110" stop-color="#4053c5"/><stop offset="0.4228" stop-color="#4053c6"/><stop offset="0.4345" stop-color="#4358c9"/><stop offset="0.4462" stop-color="#4053c5"/><stop offset="0.4580" stop-color="#4358c9"/><stop offset="0.4697" stop-color="#4f68d6"/><stop offset="0.4815" stop-color="#8db0fe"/><stop offset="0.4932" stop-color="#d3d9e5"/><stop offset="0.5050" stop-color="#f5bda4"/><stop offset="0.5167" stop-color="#f4a082"/><stop offset="0.5284" stop-color="#f4a386"/><stop offset="0.5402" stop-color="#f49e7f"/><stop offset="0.5519" stop-color="#f49c7d"/><stop offset="0.5637" stop-color="#f49a7b"/><stop offset="0.5754" stop-color="#f4a184"/><stop offset="0.5872" stop-color="#f29678"/><stop offset="0.5989" stop-color="#ec866b"/><stop offset="0.6106" stop-color="#eb8167"/><stop offset="0.6224" stop-color="#eb8369"/><stop offset="0.6341" stop-color="#eb8167"/><stop offset="0.6459" stop-color="#ec866b"/><stop offset="0.6576" stop-color="#eb8369"/><stop offset="0.6694" stop-color="#eb8268"/><stop offset="0.6811" stop-color="#eb8268"/><stop offset="0.6928" stop-color="#ec866b"/><stop offset="0.7046" stop-color="#ec866b"/><stop offset="0.7163" stop-color="#e6765f"/><stop offset="0.7281" stop-color="#e16854"/><stop offset="0.7398" stop-color="#d64f46"/><stop offset="0.7516" stop-color="#d75147"/><stop offset="0.7633" stop-color="#d75046"/><stop offset="0.7750" stop-color="#d34742"/><stop offset="0.7868" stop-color="#d54c45"/><stop offset="0.7985" stop-color="#d54b44"/><stop offset="0.8103" stop-color="#dc5c4b"/><stop offset="0.8220" stop-color="#e5725b"/><stop offset="0.8338" stop-color="#ec856a"/><stop offset="0.8455" stop-color="#eb8268"/><stop offset="0.8572" stop-color="#ed876c"/><stop offset="0.8690" stop-color="#ec856a"/><stop offset="0.8807" stop-color="#eb8268"/><stop offset="0.8925" stop-color="#ec866b"/><stop offset="0.9042" stop-color="#ed876c"/><stop offset="0.9160" stop-color="#eb8369"/><stop offset="0.9277" stop-color="#ec856a"/><stop offset="0.9394" stop-color="#ed876c"/><stop offset="0.9512" stop-color="#f3987a"/><stop offset="0.9629" stop-color="#f4a082"/><stop offset="0.9747" stop-color="#f2c7b3"/><stop offset="0.9864" stop-color="#e0dad7"/><stop offset="0.9982" stop-color="#dddddd"/><stop offset="1.0000" stop-color="#dedcdb"/></linearGradient><linearGradient id="hr20" gradientUnits="userSpaceOnUse" x1="234.4" y1="0" x2="579.2" y2="0"><stop offset="0.0000" stop-color="#698aed"/><stop offset="0.0093" stop-color="#6889ed"/><stop offset="0.0186" stop-color="#6e8ff0"/><stop offset="0.0278" stop-color="#a0befc"/><stop offset="0.0371" stop-color="#d7dbe2"/><stop offset="0.0464" stop-color="#dbdcde"/><stop offset="0.0557" stop-color="#dcdddd"/><stop offset="0.0650" stop-color="#dadcdf"/><stop offset="0.0742" stop-color="#dcddde"/><stop offset="0.0835" stop-color="#dddddc"/><stop offset="0.0928" stop-color="#dddddc"/><stop offset="0.1021" stop-color="#dedcdc"/><stop offset="0.1114" stop-color="#dcdcde"/><stop offset="0.1206" stop-color="#dadce0"/><stop offset="0.1299" stop-color="#dadce0"/><stop offset="0.1392" stop-color="#dcddde"/><stop offset="0.1485" stop-color="#cad6ec"/><stop offset="0.1578" stop-color="#b7d0f9"/><stop offset="0.1671" stop-color="#96b6fd"/><stop offset="0.1763" stop-color="#7a9cf5"/><stop offset="0.1856" stop-color="#5a77e2"/><stop offset="0.1949" stop-color="#4c63d2"/><stop offset="0.2042" stop-color="#4c64d2"/><stop offset="0.2135" stop-color="#4a61d0"/><stop offset="0.2227" stop-color="#4960cf"/><stop offset="0.2320" stop-color="#485ece"/><stop offset="0.2413" stop-color="#465bcc"/><stop offset="0.2506" stop-color="#4b63d2"/><stop offset="0.2599" stop-color="#495fcf"/><stop offset="0.2691" stop-color="#465bcb"/><stop offset="0.2784" stop-color="#4c63d2"/><stop offset="0.2877" stop-color="#495fcf"/><stop offset="0.2970" stop-color="#495fcf"/><stop offset="0.3063" stop-color="#475dcd"/><stop offset="0.3155" stop-color="#4559ca"/><stop offset="0.3248" stop-color="#4b62d1"/><stop offset="0.3341" stop-color="#4559ca"/><stop offset="0.3434" stop-color="#465bcc"/><stop offset="0.3527" stop-color="#4a61d0"/><stop offset="0.3619" stop-color="#4458c9"/><stop offset="0.3712" stop-color="#465bcc"/><stop offset="0.3805" stop-color="#465bcc"/><stop offset="0.3898" stop-color="#4458c9"/><stop offset="0.3991" stop-color="#495fcf"/><stop offset="0.4084" stop-color="#4559ca"/><stop offset="0.4176" stop-color="#4155c7"/><stop offset="0.4269" stop-color="#4559ca"/><stop offset="0.4362" stop-color="#4154c6"/><stop offset="0.4455" stop-color="#465bcc"/><stop offset="0.4548" stop-color="#475ccd"/><stop offset="0.4640" stop-color="#475ccd"/><stop offset="0.4733" stop-color="#4053c6"/><stop offset="0.4826" stop-color="#4559ca"/><stop offset="0.4919" stop-color="#4255c7"/><stop offset="0.5012" stop-color="#4357c8"/><stop offset="0.5104" stop-color="#4155c7"/><stop offset="0.5197" stop-color="#4154c6"/><stop offset="0.5290" stop-color="#3f52c5"/><stop offset="0.5383" stop-color="#4357c8"/><stop offset="0.5476" stop-color="#3f51c4"/><stop offset="0.5568" stop-color="#455acb"/><stop offset="0.5661" stop-color="#3e50c3"/><stop offset="0.5754" stop-color="#7798f4"/><stop offset="0.5847" stop-color="#b9d0f8"/><stop offset="0.5940" stop-color="#e6d4cb"/><stop offset="0.6032" stop-color="#f4ae93"/><stop offset="0.6125" stop-color="#f49e80"/><stop offset="0.6218" stop-color="#f49b7d"/><stop offset="0.6311" stop-color="#f49e80"/><stop offset="0.6404" stop-color="#f49d7e"/><stop offset="0.6497" stop-color="#f4a385"/><stop offset="0.6589" stop-color="#f49c7e"/><stop offset="0.6682" stop-color="#f49e80"/><stop offset="0.6775" stop-color="#f4997a"/><stop offset="0.6868" stop-color="#f4a386"/><stop offset="0.6961" stop-color="#f4a385"/><stop offset="0.7053" stop-color="#f49c7e"/><stop offset="0.7146" stop-color="#f4997b"/><stop offset="0.7239" stop-color="#f49f81"/><stop offset="0.7332" stop-color="#f49c7d"/><stop offset="0.7425" stop-color="#e87a62"/><stop offset="0.7517" stop-color="#e6745d"/><stop offset="0.7610" stop-color="#e5735c"/><stop offset="0.7703" stop-color="#e5725b"/><stop offset="0.7796" stop-color="#e7775f"/><stop offset="0.7889" stop-color="#e6755d"/><stop offset="0.7981" stop-color="#e5715b"/><stop offset="0.8074" stop-color="#e6755e"/><stop offset="0.8167" stop-color="#e5735c"/><stop offset="0.8260" stop-color="#e6755e"/><stop offset="0.8353" stop-color="#e6745d"/><stop offset="0.8445" stop-color="#e6755d"/><stop offset="0.8538" stop-color="#eb8369"/><stop offset="0.8631" stop-color="#f09073"/><stop offset="0.8724" stop-color="#f29476"/><stop offset="0.8817" stop-color="#f39879"/><stop offset="0.8910" stop-color="#f29678"/><stop offset="0.9002" stop-color="#f49a7b"/><stop offset="0.9095" stop-color="#f39779"/><stop offset="0.9188" stop-color="#f19375"/><stop offset="0.9281" stop-color="#f19375"/><stop offset="0.9374" stop-color="#f39779"/><stop offset="0.9466" stop-color="#f3987a"/><stop offset="0.9559" stop-color="#f4997b"/><stop offset="0.9652" stop-color="#f5b59b"/><stop offset="0.9745" stop-color="#e9d1c6"/><stop offset="0.9838" stop-color="#cad6ec"/><stop offset="0.9930" stop-color="#b1cbfa"/><stop offset="1.0000" stop-color="#a9c5fb"/></linearGradient><filter id="hb" x="-2%" y="-5%" width="104%" height="110%"><feGaussianBlur stdDeviation="0.5 0.8"/></filter><clipPath id="hc"><rect x="234.4" y="251.4" width="344.8" height="100.7"/></clipPath></defs>
<g clip-path="url(#hc)"><g filter="url(#hb)"><rect x="234.4" y="251.20" width="210.6" height="5.20" fill="url(#hr0)"/><rect x="234.4" y="256.00" width="197.6" height="5.20" fill="url(#hr1)"/><rect x="234.4" y="260.79" width="205.6" height="5.20" fill="url(#hr2)"/><rect x="234.4" y="265.59" width="202.7" height="5.20" fill="url(#hr3)"/><rect x="234.4" y="270.38" width="202.7" height="5.20" fill="url(#hr4)"/><rect x="234.4" y="275.18" width="208.0" height="5.20" fill="url(#hr5)"/><rect x="234.4" y="279.97" width="210.6" height="5.20" fill="url(#hr6)"/><rect x="234.4" y="284.77" width="210.6" height="5.20" fill="url(#hr7)"/><rect x="234.4" y="289.56" width="212.9" height="5.20" fill="url(#hr8)"/><rect x="234.4" y="294.36" width="212.9" height="5.20" fill="url(#hr9)"/><rect x="234.4" y="299.15" width="212.9" height="5.20" fill="url(#hr10)"/><rect x="234.4" y="303.94" width="212.9" height="5.20" fill="url(#hr11)"/><rect x="234.4" y="308.74" width="212.9" height="5.20" fill="url(#hr12)"/><rect x="234.4" y="313.54" width="208.0" height="5.20" fill="url(#hr13)"/><rect x="234.4" y="318.33" width="200.3" height="5.20" fill="url(#hr14)"/><rect x="234.4" y="323.12" width="197.6" height="5.20" fill="url(#hr15)"/><rect x="234.4" y="327.92" width="200.3" height="5.20" fill="url(#hr16)"/><rect x="234.4" y="332.72" width="200.3" height="5.20" fill="url(#hr17)"/><rect x="234.4" y="337.51" width="274.6" height="5.20" fill="url(#hr18)"/><rect x="234.4" y="342.31" width="272.5" height="5.20" fill="url(#hr19)"/><rect x="234.4" y="347.10" width="344.8" height="5.20" fill="url(#hr20)"/></g></g>
<path d="M231.0,253.8H234.4M231.0,263.4H234.4M231.0,273.0H234.4M231.0,282.6H234.4M231.0,292.2H234.4M231.0,301.7H234.4M231.0,311.3H234.4M231.0,320.9H234.4M231.0,330.5H234.4M231.0,340.1H234.4M231.0,349.7H234.4M235.0,352.1v2.4M250.5,352.1v2.4M266.0,352.1v2.4M281.6,352.1v2.4M297.1,352.1v2.4M312.6,352.1v2.4M328.1,352.1v2.4M343.6,352.1v2.4M359.2,352.1v2.4M374.7,352.1v2.4M390.2,352.1v2.4M405.7,352.1v2.4M421.2,352.1v2.4M436.8,352.1v2.4M452.3,352.1v2.4M467.8,352.1v2.4M483.3,352.1v2.4M498.8,352.1v2.4M514.4,352.1v2.4M529.9,352.1v2.4M545.4,352.1v2.4M560.9,352.1v2.4M576.4,352.1v2.4" stroke="#333" stroke-width="0.8" fill="none"/>
<text x="224.2" y="300.2" font-size="11" text-anchor="middle" fill="#111" transform="rotate(-90 224.2 300.2)">Time (100s)</text>
<text x="358.4" y="364.9" font-size="11.2" text-anchor="start" fill="#111">Distance (microns)</text>
<defs><linearGradient id="cwg" x1="0" y1="0" x2="0" y2="1"><stop offset="0.000" stop-color="rgb(180, 4, 38)"/><stop offset="0.125" stop-color="rgb(222, 96, 77)"/><stop offset="0.250" stop-color="rgb(244, 154, 123)"/><stop offset="0.375" stop-color="rgb(245, 196, 173)"/><stop offset="0.500" stop-color="rgb(221, 221, 221)"/><stop offset="0.625" stop-color="rgb(184, 208, 249)"/><stop offset="0.750" stop-color="rgb(141, 176, 254)"/><stop offset="0.875" stop-color="rgb(98, 130, 234)"/><stop offset="1.000" stop-color="rgb(59, 76, 192)"/></linearGradient></defs>
<rect x="631.8" y="255.2" width="10" height="100" fill="url(#cwg)"/>
<text x="636.4" y="254.6" font-size="10.8" text-anchor="middle" fill="#111">440</text>
<text x="636.4" y="364.7" font-size="10.8" text-anchor="middle" fill="#111">100</text>
<text x="621.6" y="304.5" font-size="13.3" text-anchor="middle" fill="#111" transform="rotate(-90 621.6 304.5)">OMP25 Intensity</text>
<text transform="translate(-0.37,443.2) scale(0.92,1)" font-size="24" font-weight="bold" fill="#000">D</text>
<text x="15.8" y="457.7" font-size="14.6" font-weight="bold" text-anchor="start" fill="#262626">ER-Mito-Lysosome</text>
<polygon points="45.1,540.0 76.7,497.2 108.0,502.0 139.4,522.0 139.4,564.9 108.0,546.8 76.7,566.0 45.1,576.6" fill="#8da5aa" fill-opacity="0.22" stroke="#8da5aa" stroke-opacity="0.25" stroke-width="0.5"/>
<polygon points="45.1,525.4 76.7,487.0 108.0,468.5 139.4,468.5 139.4,517.0 108.0,501.7 76.7,549.3 45.1,596.9" fill="#484864" fill-opacity="0.2" stroke="#484864" stroke-opacity="0.2" stroke-width="0.5"/>
<polyline points="45.1,560.3 76.7,515.9 108.0,479.6 139.4,492.7" fill="none" stroke="#484864" stroke-width="1.1"/>
<polyline points="45.1,559.2 76.7,527.0 108.0,522.7 139.4,542.8" fill="none" stroke="#8da5aa" stroke-width="1.1" stroke-dasharray="4.5,2"/>
<circle cx="45.1" cy="560.3" r="4.2" fill="#484864" stroke="#fff" stroke-width="0.7"/>
<circle cx="76.7" cy="515.9" r="4.2" fill="#484864" stroke="#fff" stroke-width="0.7"/>
<circle cx="108" cy="479.6" r="4.2" fill="#484864" stroke="#fff" stroke-width="0.7"/>
<circle cx="139.4" cy="492.7" r="4.2" fill="#484864" stroke="#fff" stroke-width="0.7"/>
<path d="M41.8,555.9L48.4,562.5M41.8,562.5L48.4,555.9" stroke="#fff" stroke-width="3.4000000000000004" fill="none" stroke-linecap="square" opacity="0.9"/>
<path d="M41.8,555.9L48.4,562.5M41.8,562.5L48.4,555.9" stroke="#8da5aa" stroke-width="2.2" fill="none" stroke-linecap="butt"/>
<path d="M73.4,523.7L80.0,530.3M73.4,530.3L80.0,523.7" stroke="#fff" stroke-width="3.4000000000000004" fill="none" stroke-linecap="square" opacity="0.9"/>
<path d="M73.4,523.7L80.0,530.3M73.4,530.3L80.0,523.7" stroke="#8da5aa" stroke-width="2.2" fill="none" stroke-linecap="butt"/>
<path d="M104.7,519.4L111.3,526.0M104.7,526.0L111.3,519.4" stroke="#fff" stroke-width="3.4000000000000004" fill="none" stroke-linecap="square" opacity="0.9"/>
<path d="M104.7,519.4L111.3,526.0M104.7,526.0L111.3,519.4" stroke="#8da5aa" stroke-width="2.2" fill="none" stroke-linecap="butt"/>
<path d="M136.1,539.5L142.7,546.1M136.1,546.1L142.7,539.5" stroke="#fff" stroke-width="3.4000000000000004" fill="none" stroke-linecap="square" opacity="0.9"/>
<path d="M136.1,539.5L142.7,546.1M136.1,546.1L142.7,539.5" stroke="#8da5aa" stroke-width="2.2" fill="none" stroke-linecap="butt"/>
<path d="M40.2,467.6V612.2H145.6" fill="none" stroke="#222" stroke-width="1.5"/>
<path d="M37,469.4H40" stroke="#222" stroke-width="1"/>
<text x="36.8" y="473.09999999999997" font-size="10.5" text-anchor="end" fill="#262626">100</text>
<path d="M37,505.1H40" stroke="#222" stroke-width="1"/>
<text x="36.8" y="508.8" font-size="10.5" text-anchor="end" fill="#262626">75</text>
<path d="M37,540.8H40" stroke="#222" stroke-width="1"/>
<text x="36.8" y="544.5" font-size="10.5" text-anchor="end" fill="#262626">50</text>
<path d="M37,576.5H40" stroke="#222" stroke-width="1"/>
<text x="36.8" y="580.2" font-size="10.5" text-anchor="end" fill="#262626">25</text>
<path d="M37,612.2H40" stroke="#222" stroke-width="1"/>
<text x="36.8" y="615.9000000000001" font-size="10.5" text-anchor="end" fill="#262626">0</text>
<path d="M45.1,612.2V615.5" stroke="#222" stroke-width="1"/>
<text x="45.1" y="623.6" font-size="10.5" text-anchor="middle" fill="#262626">M</text>
<path d="M76.7,612.2V615.5" stroke="#222" stroke-width="1"/>
<text x="76.7" y="623.6" font-size="10.5" text-anchor="middle" fill="#262626">24</text>
<path d="M108,612.2V615.5" stroke="#222" stroke-width="1"/>
<text x="108" y="623.6" font-size="10.5" text-anchor="middle" fill="#262626">48</text>
<path d="M139.4,612.2V615.5" stroke="#222" stroke-width="1"/>
<text x="139.4" y="623.6" font-size="10.5" text-anchor="middle" fill="#262626">72</text>
<text x="7.9" y="623" font-size="10.8" text-anchor="start" fill="#262626">(hpi)</text>
<text x="16.2" y="539" font-size="13.4" text-anchor="middle" fill="#262626" transform="rotate(-90 16.2 539)">% fission with Contact</text>
<text x="107.7" y="478" font-size="15.5" text-anchor="middle" fill="#111">**</text>
<text x="139.3" y="491.1" font-size="15.5" text-anchor="middle" fill="#111">**</text>
<text x="139.3" y="540.7" font-size="15.5" text-anchor="middle" fill="#1f8f1f">*</text>
<text x="179.3" y="480" font-size="10.9" text-anchor="middle" fill="#111" transform="rotate(-90 179.3 480)">Midzone</text>
<path d="M175.4,502.8V525.4" stroke="#8da5aa" stroke-width="1.1" stroke-dasharray="4.5,2"/>
<path d="M172.7,511.4L178.1,516.8M172.7,516.8L178.1,511.4" stroke="#8da5aa" stroke-width="3.0" fill="none" stroke-linecap="butt"/>
<text x="179.3" y="559.6" font-size="11" text-anchor="middle" fill="#111" transform="rotate(-90 179.3 559.6)">Peripheral</text>
<path d="M175.4,587.4V611.1" stroke="#484864" stroke-width="1.1"/>
<circle cx="175.4" cy="598.7" r="4.0" fill="#484864" stroke="#fff" stroke-width="0.7"/>
<text transform="translate(189.93,393.2) scale(0.92,1)" font-size="24" font-weight="bold" fill="#000">E</text>
<text x="334.2" y="384.3" font-size="14.65" font-weight="bold" text-anchor="middle" fill="#000">Three-way contacts at</text>
<text x="334.2" y="400" font-size="14.65" font-weight="bold" text-anchor="middle" fill="#000">peripheral fission (72 hpi)</text>
<text x="210.3" y="440" font-size="10.9" text-anchor="middle" fill="#111" transform="rotate(-90 210.3 440)">Peripheral</text>
<text x="221.7" y="440" font-size="10.9" text-anchor="middle" fill="#111" transform="rotate(-90 221.7 440)">fission</text>
<text x="210.3" y="513.2" font-size="10.9" text-anchor="middle" fill="#111" transform="rotate(-90 210.3 513.2)">Lysosome</text>
<text x="221.7" y="513.2" font-size="10.9" text-anchor="middle" fill="#111" transform="rotate(-90 221.7 513.2)">Contact</text>
<text x="210.3" y="583" font-size="10.9" text-anchor="middle" fill="#111" transform="rotate(-90 210.3 583)">ER</text>
<text x="221.7" y="583" font-size="10.9" text-anchor="middle" fill="#111" transform="rotate(-90 221.7 583)">Contact</text>
<defs><filter id="e2" x="-50%" y="-50%" width="200%" height="200%"><feGaussianBlur stdDeviation="3.8"/></filter><filter id="e3" x="-50%" y="-50%" width="200%" height="200%"><feGaussianBlur stdDeviation="3.8"/></filter><filter id="e1" x="-50%" y="-50%" width="200%" height="200%"><feGaussianBlur stdDeviation="1.7"/></filter><clipPath id="et00"><rect x="227.3" y="407.3" width="68.0" height="68.3"/></clipPath><clipPath id="et01"><rect x="299.7" y="407.3" width="68.0" height="68.3"/></clipPath><clipPath id="et02"><rect x="371.9" y="407.3" width="68.0" height="68.3"/></clipPath><clipPath id="et10"><rect x="227.3" y="478.5" width="68.0" height="68.3"/></clipPath><clipPath id="et11"><rect x="299.7" y="478.5" width="68.0" height="68.3"/></clipPath><clipPath id="et12"><rect x="371.9" y="478.5" width="68.0" height="68.3"/></clipPath><clipPath id="et20"><rect x="227.3" y="549.3" width="68.0" height="68.3"/></clipPath><clipPath id="et21"><rect x="299.7" y="549.3" width="68.0" height="68.3"/></clipPath><clipPath id="et22"><rect x="371.9" y="549.3" width="68.0" height="68.3"/></clipPath></defs>
<g clip-path="url(#et00)"><rect x="227.3" y="407.3" width="68.0" height="68.3" fill="#0c5a5d"/>
<g filter="url(#e3)"><ellipse cx="262" cy="446" rx="20" ry="24" fill="#000" opacity="0.55"/><ellipse cx="279" cy="423" rx="10" ry="8" fill="#000" opacity="0.45"/><ellipse cx="246" cy="468" rx="14" ry="6" fill="#000" opacity="0.45"/><ellipse cx="290" cy="470" rx="10" ry="8" fill="#12959a" opacity="0.8"/><ellipse cx="236" cy="412" rx="10" ry="5" fill="#0f7a7c" opacity="0.5"/><ellipse cx="290" cy="412" rx="8" ry="6" fill="#0f7a7c" opacity="0.4"/></g><g filter="url(#e2)"><ellipse cx="244.9" cy="440.8" rx="12" ry="13" fill="#97a01c" opacity="0.9"/><ellipse cx="279.6" cy="440.8" rx="8.5" ry="11.5" fill="#86b42e" opacity="0.9"/></g><g filter="url(#e1)" opacity="0.97"><path d="M260.2,431.5C260.8,434.1 262.4,441.8 263.8,447.0C265.2,452.2 267.8,459.9 268.6,462.5" stroke="#f0262b" stroke-width="10.5" stroke-linecap="round" fill="none"/><circle cx="257.5" cy="420.6" r="5.8" fill="#ee2a2a"/></g></g>
<g clip-path="url(#et10)"><rect x="227.3" y="478.5" width="68.0" height="68.3" fill="#020100"/>
<g filter="url(#e2)"><ellipse cx="243.9" cy="512.0" rx="12" ry="13" fill="#6f6d10" opacity="0.9"/><ellipse cx="278.6" cy="512.0" rx="8.5" ry="11.5" fill="#6f6d10" opacity="0.9"/></g><g filter="url(#e1)" transform="translate(0,71.19999999999999)"><path d="M260.2,431.5C260.8,434.1 262.4,441.8 263.8,447.0C265.2,452.2 267.8,459.9 268.6,462.5" stroke="#d8161b" stroke-width="11.0" stroke-linecap="round" fill="none"/><circle cx="257.5" cy="420.6" r="6.1" fill="#e01c1c"/></g></g>
<g clip-path="url(#et01)"><rect x="299.7" y="407.3" width="68.0" height="68.3" fill="#0c5a5d"/>
<g filter="url(#e3)"><ellipse cx="307" cy="426" rx="10" ry="9" fill="#000" opacity="0.7"/><ellipse cx="334" cy="458" rx="9" ry="9" fill="#000" opacity="0.75"/><ellipse cx="356" cy="432" rx="9" ry="9" fill="#000" opacity="0.5"/><ellipse cx="352" cy="470" rx="10" ry="5" fill="#000" opacity="0.4"/><ellipse cx="305" cy="456" rx="4.5" ry="12" fill="#19c2ca" opacity="0.95"/><ellipse cx="330" cy="418" rx="8" ry="10" fill="#0f8486" opacity="0.7"/><ellipse cx="362" cy="413" rx="8" ry="5" fill="#0f7a7c" opacity="0.5"/></g><g filter="url(#e2)"><ellipse cx="320.1" cy="447" rx="14.5" ry="12" fill="#7fae36" opacity="0.9"/><ellipse cx="330" cy="439" rx="6" ry="4" fill="#7fae36" opacity="0.9"/><ellipse cx="363.4" cy="455.5" rx="7" ry="12" fill="#a0c830" opacity="0.9"/><ellipse cx="309" cy="470" rx="9" ry="6" fill="#2a9a72" opacity="0.9"/></g><g filter="url(#e1)" opacity="0.72"><path d="M338.4,436.0C339.4,438.3 342.4,445.0 344.5,450.0C346.6,455.0 350.1,463.3 351.2,466.0" stroke="#f0262b" stroke-width="8.5" stroke-linecap="round" fill="none"/><circle cx="338.5" cy="421.6" r="5.2" fill="#ee2a2a"/></g></g>
<g clip-path="url(#et11)"><rect x="299.7" y="478.5" width="68.0" height="68.3" fill="#020100"/>
<g filter="url(#e2)"><ellipse cx="319.1" cy="518.2" rx="14.5" ry="12" fill="#6f6d10" opacity="0.9"/><ellipse cx="329" cy="510.2" rx="6" ry="4" fill="#6f6d10" opacity="0.9"/><ellipse cx="362.4" cy="526.7" rx="7" ry="12" fill="#6f6d10" opacity="0.9"/></g><g filter="url(#e1)" transform="translate(0,71.19999999999999)"><path d="M338.4,436.0C339.4,438.3 342.4,445.0 344.5,450.0C346.6,455.0 350.1,463.3 351.2,466.0" stroke="#d8161b" stroke-width="9.0" stroke-linecap="round" fill="none"/><circle cx="338.5" cy="421.6" r="5.5" fill="#e01c1c"/></g></g>
<g clip-path="url(#et02)"><rect x="371.9" y="407.3" width="68.0" height="68.3" fill="#0c5a5d"/>
<g filter="url(#e3)"><ellipse cx="386" cy="423" rx="15" ry="8" fill="#000" opacity="0.85"/><ellipse cx="378" cy="440" rx="6" ry="6" fill="#000" opacity="0.4"/><ellipse cx="428" cy="445" rx="9" ry="10" fill="#000" opacity="0.35"/><ellipse cx="406" cy="429" rx="11" ry="5" fill="#15a0a4" opacity="0.85"/><ellipse cx="425" cy="414" rx="14" ry="5" fill="#0f7a7c" opacity="0.5"/><ellipse cx="380" cy="468" rx="8" ry="6" fill="#1a8a70" opacity="0.7"/></g><g filter="url(#e2)"><ellipse cx="394.2" cy="453.4" rx="20" ry="11.5" fill="#76941e" opacity="0.9"/><ellipse cx="432" cy="465" rx="10" ry="10" fill="#aac81e" opacity="0.9"/><ellipse cx="375.3" cy="417.6" rx="5.5" ry="7" fill="#5f7a1c" opacity="0.9"/><ellipse cx="401.5" cy="462.3" rx="4" ry="3.5" fill="#35c080" opacity="0.9"/></g><g filter="url(#e1)" opacity="0.66"><path d="M414.2,440.0C414.3,442.2 414.6,448.5 415.0,453.0C415.4,457.5 416.1,464.7 416.3,467.0" stroke="#f0262b" stroke-width="7.5" stroke-linecap="round" fill="none"/><circle cx="413.1" cy="421.3" r="4.7" fill="#ee2a2a"/></g></g>
<g clip-path="url(#et12)"><rect x="371.9" y="478.5" width="68.0" height="68.3" fill="#020100"/>
<g filter="url(#e2)"><ellipse cx="393.2" cy="524.5999999999999" rx="20" ry="11.5" fill="#6f6d10" opacity="0.9"/><ellipse cx="431" cy="536.2" rx="10" ry="10" fill="#6f6d10" opacity="0.9"/><ellipse cx="374.3" cy="488.8" rx="5.5" ry="7" fill="#6f6d10" opacity="0.9"/></g><g filter="url(#e1)" transform="translate(0,71.19999999999999)"><path d="M414.2,440.0C414.3,442.2 414.6,448.5 415.0,453.0C415.4,457.5 416.1,464.7 416.3,467.0" stroke="#d8161b" stroke-width="8.0" stroke-linecap="round" fill="none"/><circle cx="413.1" cy="421.3" r="5.0" fill="#e01c1c"/></g></g>
<g clip-path="url(#et20)"><rect x="227.3" y="549.3" width="68.0" height="68.3" fill="#0b8f97"/>
<g filter="url(#e3)"><ellipse cx="238.6" cy="557.5" rx="12" ry="8" fill="#19f0f5" opacity="0.8"/><ellipse cx="234.4" cy="608" rx="12" ry="11" fill="#19f0f5" opacity="0.95"/><ellipse cx="232" cy="583" rx="6" ry="8" fill="#19f0f5" opacity="0.55"/><ellipse cx="268" cy="613" rx="14" ry="6" fill="#14d4dc" opacity="0.6"/><ellipse cx="285" cy="578" rx="7" ry="8" fill="#12c5cc" opacity="0.5"/><ellipse cx="244.9" cy="580.6" rx="8.5" ry="7.5" fill="#000" opacity="0.95"/><ellipse cx="255.4" cy="596.4" rx="15" ry="10.5" fill="#000" opacity="1"/><ellipse cx="278.6" cy="561.7" rx="13.5" ry="9.5" fill="#000" opacity="0.9"/><ellipse cx="290" cy="592" rx="7" ry="12" fill="#000" opacity="0.7"/><ellipse cx="292" cy="614" rx="8" ry="6" fill="#000" opacity="0.7"/><ellipse cx="262" cy="556" rx="5" ry="5" fill="#000" opacity="0.35"/></g><path d="M255.9,574.5C255.0,577.5 258.1,584.9 259.5,590.2C260.9,595.4 262.7,602.6 264.3,605.8C266.0,609.0 268.2,609.9 269.6,609.5C271.0,609.0 273.1,606.8 272.9,603.2C272.6,599.6 269.5,593.0 268.1,587.8C266.7,582.7 266.6,574.7 264.5,572.5C262.5,570.3 256.7,571.6 255.9,574.5Z" fill="none" stroke="#c4c4c4" stroke-width="0.75" stroke-dasharray="1.8,1"/><circle cx="257.5" cy="562.5999999999999" r="5.6" fill="none" stroke="#c4c4c4" stroke-width="0.75" stroke-dasharray="1.8,1"/></g>
<g clip-path="url(#et21)"><rect x="299.7" y="549.3" width="68.0" height="68.3" fill="#0b8f97"/>
<g filter="url(#e3)"><ellipse cx="310.1" cy="599.6" rx="13" ry="16" fill="#1af2f7" opacity="0.95"/><ellipse cx="326.9" cy="557.5" rx="14" ry="8" fill="#17e0e8" opacity="0.85"/><ellipse cx="339.5" cy="582.7" rx="8" ry="10" fill="#14d4dc" opacity="0.55"/><ellipse cx="318" cy="578" rx="6" ry="6" fill="#14d4dc" opacity="0.5"/><ellipse cx="305.9" cy="563.8" rx="8.5" ry="10.5" fill="#000" opacity="0.9"/><ellipse cx="331.1" cy="597.5" rx="10.5" ry="12.5" fill="#000" opacity="1"/><ellipse cx="356.3" cy="570.1" rx="10" ry="12" fill="#000" opacity="0.8"/><ellipse cx="361" cy="596" rx="6" ry="9" fill="#000" opacity="0.7"/><ellipse cx="364" cy="614" rx="8" ry="6" fill="#000" opacity="0.6"/></g><path d="M335.2,579.4C335.2,582.2 339.2,588.4 341.3,593.4C343.5,598.3 346.2,606.2 348.0,609.3C349.8,612.4 351.1,612.4 352.2,612.0C353.3,611.5 355.1,610.2 354.4,606.7C353.6,603.1 349.8,595.7 347.7,590.6C345.5,585.6 343.6,578.5 341.6,576.6C339.5,574.7 335.3,576.6 335.2,579.4Z" fill="none" stroke="#c4c4c4" stroke-width="0.75" stroke-dasharray="1.8,1"/><circle cx="338.5" cy="563.5999999999999" r="5.0" fill="none" stroke="#c4c4c4" stroke-width="0.75" stroke-dasharray="1.8,1"/></g>
<g clip-path="url(#et22)"><rect x="371.9" y="549.3" width="68.0" height="68.3" fill="#0b8f97"/>
<g filter="url(#e3)"><ellipse cx="411" cy="575" rx="13" ry="6" fill="#1af2f7" opacity="0.9"/><ellipse cx="384" cy="609" rx="13" ry="9" fill="#17e0e8" opacity="0.9"/><ellipse cx="431" cy="590" rx="9" ry="20" fill="#10b9c0" opacity="0.5"/><ellipse cx="420" cy="556" rx="16" ry="5" fill="#12c5cc" opacity="0.6"/><ellipse cx="416" cy="598" rx="5" ry="10" fill="#14d4dc" opacity="0.5"/><ellipse cx="385.6" cy="561" rx="14.5" ry="9.5" fill="#000" opacity="1"/><ellipse cx="400" cy="588" rx="10.5" ry="13.5" fill="#000" opacity="1"/><ellipse cx="378" cy="588" rx="5" ry="10" fill="#000" opacity="0.5"/><ellipse cx="425" cy="606" rx="8" ry="6" fill="#000" opacity="0.35"/></g><path d="M411.3,582.2C410.4,584.4 411.7,590.7 412.1,595.2C412.4,599.7 412.5,606.4 413.4,609.3C414.2,612.1 416.3,612.5 417.3,612.5C418.3,612.4 419.1,611.7 419.2,608.7C419.3,605.8 418.3,599.3 417.9,594.8C417.6,590.3 418.3,583.9 417.1,581.8C416.0,579.7 412.1,579.9 411.3,582.2Z" fill="none" stroke="#c4c4c4" stroke-width="0.75" stroke-dasharray="1.8,1"/><circle cx="413.1" cy="563.3" r="4.5" fill="none" stroke="#c4c4c4" stroke-width="0.75" stroke-dasharray="1.8,1"/></g>
<polygon points="272.0,413.9 267.8,415.6 267.1,413.8 264.2,418.5 269.5,420.0 268.8,418.3 273.0,416.7" fill="#fff"/>
<polygon points="353.0,414.2 349.1,415.7 348.4,413.9 345.4,418.5 350.7,420.1 350.0,418.4 354.0,417.0" fill="#fff"/>
<polygon points="426.2,414.2 422.3,415.7 421.6,413.9 418.6,418.5 423.9,420.1 423.2,418.4 427.2,417.0" fill="#fff"/>
<polygon points="245.5,511.8 250.6,510.6 251.0,512.4 254.5,508.1 249.4,506.0 249.9,507.7 244.9,509.0" fill="#fff"/>
<polygon points="324.4,496.8 327.9,500.9 326.5,502.1 331.9,503.3 331.5,497.8 330.1,499.0 326.6,495.0" fill="#fff"/>
<polygon points="396.8,501.2 400.6,504.6 399.3,506.0 404.8,506.5 403.8,501.1 402.5,502.5 398.8,499.0" fill="#fff"/>
<polygon points="273.2,561.4 268.4,563.7 267.6,562.0 265.1,566.9 270.5,568.0 269.7,566.3 274.4,564.0" fill="#fff"/>
<polygon points="352.8,564.6 348.6,566.8 347.8,565.1 345.4,570.1 350.8,571.0 350.0,569.4 354.2,567.2" fill="#fff"/>
<polygon points="426.0,565.6 421.9,567.7 421.0,566.1 418.6,571.0 424.0,572.0 423.2,570.3 427.4,568.2" fill="#fff"/>
<text x="293.6" y="611.8" font-size="10.6" text-anchor="end" fill="#fff">0s</text>
<text x="365.8" y="611.8" font-size="10.6" text-anchor="end" fill="#fff">5s</text>
<text x="437.2" y="611.8" font-size="10.6" text-anchor="end" fill="#fff">10s</text>
<rect x="443.2" y="407.2" width="26" height="211" fill="#000"/>
<text transform="translate(454.9,587.2) rotate(-90)" font-size="9.0" font-weight="bold"><tspan fill="#e8131b">Mito:</tspan><tspan fill="#fff">&#160;(Mito-BFP)&#160;</tspan><tspan fill="#9dc3e6">ER:</tspan><tspan fill="#fff">&#160;(GFP-Sec61b)</tspan></text>
<text transform="translate(464.2,587.2) rotate(-90)" font-size="9.02" font-weight="bold"><tspan fill="#f4f000">Endosome/Lysosome:</tspan><tspan fill="#fff">&#160;(mCh-Rab7)</tspan></text>
<text transform="translate(480.43,402.2) scale(0.92,1)" font-size="24" font-weight="bold" fill="#000">F</text>
<text x="556.3" y="397.3" font-size="19.6" font-weight="bold" text-anchor="start" fill="#333">Fusion</text>
<defs><clipPath id="vfM"><path d="M544.4,423.5C545.1,423.5 545.8,426.6 546.4,428.7C547.0,430.8 547.9,433.6 548.0,436.1C548.1,438.6 547.1,441.0 546.8,443.5C546.5,446.0 546.0,448.5 546.0,450.9C546.0,453.4 546.4,455.9 546.6,458.3C546.8,460.8 547.4,463.3 547.4,465.8C547.4,468.2 546.7,470.7 546.6,473.2C546.5,475.6 546.1,478.1 546.6,480.6C547.1,483.1 548.2,485.5 549.4,488.0C550.6,490.5 553.3,492.9 553.9,495.4C554.5,497.9 553.0,500.4 553.0,502.8C553.0,505.3 553.9,507.8 554.2,510.2C554.5,512.7 554.4,515.2 554.8,517.7C555.2,520.1 556.6,522.6 556.6,525.1C556.6,527.6 555.4,530.0 555.0,532.5C554.6,535.0 554.7,537.4 554.0,539.9C553.3,542.4 551.7,544.9 550.8,547.3C549.9,549.8 549.4,552.3 548.6,554.7C547.8,557.2 546.9,560.1 546.2,562.2C545.5,564.2 545.0,567.0 544.4,567.0C543.8,567.0 543.3,564.2 542.6,562.2C541.9,560.1 541.0,557.2 540.2,554.7C539.4,552.3 538.9,549.8 538.0,547.3C537.1,544.9 535.5,542.4 534.8,539.9C534.1,537.4 534.2,535.0 533.8,532.5C533.4,530.0 532.2,527.6 532.2,525.1C532.2,522.6 533.6,520.1 534.0,517.7C534.4,515.2 534.3,512.7 534.6,510.2C534.9,507.8 535.8,505.3 535.8,502.8C535.8,500.4 534.3,497.9 534.9,495.4C535.5,492.9 538.2,490.5 539.4,488.0C540.6,485.5 541.7,483.1 542.2,480.6C542.7,478.1 542.3,475.6 542.2,473.2C542.1,470.7 541.4,468.2 541.4,465.8C541.4,463.3 542.0,460.8 542.2,458.3C542.4,455.9 542.8,453.4 542.8,450.9C542.8,448.5 542.3,446.0 542.0,443.5C541.7,441.0 540.7,438.6 540.8,436.1C540.9,433.6 541.8,430.8 542.4,428.7C543.0,426.6 543.7,423.5 544.4,423.5Z"/></clipPath></defs>
<path d="M544.4,423.5C545.1,423.5 545.8,426.6 546.4,428.7C547.0,430.8 547.9,433.6 548.0,436.1C548.1,438.6 547.1,441.0 546.8,443.5C546.5,446.0 546.0,448.5 546.0,450.9C546.0,453.4 546.4,455.9 546.6,458.3C546.8,460.8 547.4,463.3 547.4,465.8C547.4,468.2 546.7,470.7 546.6,473.2C546.5,475.6 546.1,478.1 546.6,480.6C547.1,483.1 548.2,485.5 549.4,488.0C550.6,490.5 553.3,492.9 553.9,495.4C554.5,497.9 553.0,500.4 553.0,502.8C553.0,505.3 553.9,507.8 554.2,510.2C554.5,512.7 554.4,515.2 554.8,517.7C555.2,520.1 556.6,522.6 556.6,525.1C556.6,527.6 555.4,530.0 555.0,532.5C554.6,535.0 554.7,537.4 554.0,539.9C553.3,542.4 551.7,544.9 550.8,547.3C549.9,549.8 549.4,552.3 548.6,554.7C547.8,557.2 546.9,560.1 546.2,562.2C545.5,564.2 545.0,567.0 544.4,567.0C543.8,567.0 543.3,564.2 542.6,562.2C541.9,560.1 541.0,557.2 540.2,554.7C539.4,552.3 538.9,549.8 538.0,547.3C537.1,544.9 535.5,542.4 534.8,539.9C534.1,537.4 534.2,535.0 533.8,532.5C533.4,530.0 532.2,527.6 532.2,525.1C532.2,522.6 533.6,520.1 534.0,517.7C534.4,515.2 534.3,512.7 534.6,510.2C534.9,507.8 535.8,505.3 535.8,502.8C535.8,500.4 534.3,497.9 534.9,495.4C535.5,492.9 538.2,490.5 539.4,488.0C540.6,485.5 541.7,483.1 542.2,480.6C542.7,478.1 542.3,475.6 542.2,473.2C542.1,470.7 541.4,468.2 541.4,465.8C541.4,463.3 542.0,460.8 542.2,458.3C542.4,455.9 542.8,453.4 542.8,450.9C542.8,448.5 542.3,446.0 542.0,443.5C541.7,441.0 540.7,438.6 540.8,436.1C540.9,433.6 541.8,430.8 542.4,428.7C543.0,426.6 543.7,423.5 544.4,423.5Z" fill="#2f3045" stroke="#1c1c28" stroke-width="1.7" stroke-linejoin="round"/>
<g clip-path="url(#vfM)" stroke="#1c1c28" stroke-width="1.3"><path d="M528.4,436.1H560.4"/><path d="M528.4,465.8H560.4"/><path d="M528.4,495.4H560.4"/><path d="M528.4,510.2H560.4"/><path d="M528.4,525.1H560.4"/><path d="M528.4,539.9H560.4"/><path d="M528.4,554.7H560.4"/></g>
<path d="M537,517.7H548" stroke="#1c1c28" stroke-width="0.8"/>
<defs><clipPath id="vf24"><path d="M573.7,425.7C574.1,425.7 574.7,428.4 575.0,430.2C575.3,431.9 575.7,433.9 575.7,436.1C575.7,438.3 575.1,441.0 574.9,443.5C574.7,446.0 574.5,447.2 574.4,450.9C574.3,454.6 574.3,460.8 574.3,465.8C574.3,470.7 574.2,476.9 574.5,480.6C574.8,484.3 575.1,485.5 575.9,488.0C576.7,490.5 578.8,492.9 579.3,495.4C579.8,497.9 578.3,500.4 578.9,502.8C579.5,505.3 582.5,507.8 582.9,510.2C583.3,512.7 580.6,515.2 581.1,517.7C581.6,520.1 585.8,522.6 585.9,525.1C586.0,527.6 582.0,530.0 581.5,532.5C581.0,535.0 583.1,537.4 582.9,539.9C582.7,542.4 580.4,544.9 580.1,547.3C579.8,549.8 581.4,552.5 580.9,554.7C580.4,557.0 578.4,558.9 577.2,560.7C576.0,562.4 574.9,565.1 573.7,565.1C572.5,565.1 571.4,562.4 570.2,560.7C569.0,558.9 567.0,557.0 566.5,554.7C566.0,552.5 567.6,549.8 567.3,547.3C567.0,544.9 564.7,542.4 564.5,539.9C564.3,537.4 566.4,535.0 565.9,532.5C565.4,530.0 561.4,527.6 561.5,525.1C561.6,522.6 565.8,520.1 566.3,517.7C566.8,515.2 564.1,512.7 564.5,510.2C564.9,507.8 567.9,505.3 568.5,502.8C569.1,500.4 567.6,497.9 568.1,495.4C568.6,492.9 570.7,490.5 571.5,488.0C572.3,485.5 572.6,484.3 572.9,480.6C573.2,476.9 573.1,470.7 573.1,465.8C573.1,460.8 573.1,454.6 573.0,450.9C572.9,447.2 572.7,446.0 572.5,443.5C572.3,441.0 571.7,438.3 571.7,436.1C571.7,433.9 572.1,431.9 572.4,430.2C572.7,428.4 573.3,425.7 573.7,425.7Z"/></clipPath></defs>
<path d="M573.7,425.7C574.1,425.7 574.7,428.4 575.0,430.2C575.3,431.9 575.7,433.9 575.7,436.1C575.7,438.3 575.1,441.0 574.9,443.5C574.7,446.0 574.5,447.2 574.4,450.9C574.3,454.6 574.3,460.8 574.3,465.8C574.3,470.7 574.2,476.9 574.5,480.6C574.8,484.3 575.1,485.5 575.9,488.0C576.7,490.5 578.8,492.9 579.3,495.4C579.8,497.9 578.3,500.4 578.9,502.8C579.5,505.3 582.5,507.8 582.9,510.2C583.3,512.7 580.6,515.2 581.1,517.7C581.6,520.1 585.8,522.6 585.9,525.1C586.0,527.6 582.0,530.0 581.5,532.5C581.0,535.0 583.1,537.4 582.9,539.9C582.7,542.4 580.4,544.9 580.1,547.3C579.8,549.8 581.4,552.5 580.9,554.7C580.4,557.0 578.4,558.9 577.2,560.7C576.0,562.4 574.9,565.1 573.7,565.1C572.5,565.1 571.4,562.4 570.2,560.7C569.0,558.9 567.0,557.0 566.5,554.7C566.0,552.5 567.6,549.8 567.3,547.3C567.0,544.9 564.7,542.4 564.5,539.9C564.3,537.4 566.4,535.0 565.9,532.5C565.4,530.0 561.4,527.6 561.5,525.1C561.6,522.6 565.8,520.1 566.3,517.7C566.8,515.2 564.1,512.7 564.5,510.2C564.9,507.8 567.9,505.3 568.5,502.8C569.1,500.4 567.6,497.9 568.1,495.4C568.6,492.9 570.7,490.5 571.5,488.0C572.3,485.5 572.6,484.3 572.9,480.6C573.2,476.9 573.1,470.7 573.1,465.8C573.1,460.8 573.1,454.6 573.0,450.9C572.9,447.2 572.7,446.0 572.5,443.5C572.3,441.0 571.7,438.3 571.7,436.1C571.7,433.9 572.1,431.9 572.4,430.2C572.7,428.4 573.3,425.7 573.7,425.7Z" fill="#575b7b" stroke="#1c1c28" stroke-width="1.7" stroke-linejoin="round"/>
<g clip-path="url(#vf24)" stroke="#1c1c28" stroke-width="1.3"><path d="M557.7,436.1H589.7"/><path d="M557.7,495.4H589.7"/><path d="M557.7,510.2H589.7"/><path d="M557.7,525.1H589.7"/><path d="M557.7,539.9H589.7"/><path d="M557.7,554.7H589.7"/></g>
<defs><clipPath id="vf48"><path d="M602.5,501.4C602.9,501.4 603.5,504.3 603.8,505.8C604.1,507.3 603.9,508.3 604.2,510.2C604.5,512.2 604.7,515.2 605.7,517.7C606.7,520.1 609.9,522.6 610.1,525.1C610.3,527.6 606.7,530.0 606.7,532.5C606.7,535.0 609.9,537.4 610.1,539.9C610.3,542.4 607.3,544.9 608.1,547.3C608.9,549.8 615.1,552.3 615.1,554.7C615.1,557.2 608.9,559.7 608.1,562.2C607.3,564.6 610.3,567.1 610.1,569.6C609.9,572.0 606.7,574.5 606.7,577.0C606.7,579.5 610.1,582.3 610.1,584.4C610.1,586.5 607.8,588.1 606.5,589.6C605.2,591.1 603.8,593.6 602.5,593.6C601.2,593.6 599.8,591.1 598.5,589.6C597.2,588.1 594.9,586.5 594.9,584.4C594.9,582.3 598.3,579.5 598.3,577.0C598.3,574.5 595.1,572.0 594.9,569.6C594.7,567.1 597.7,564.6 596.9,562.2C596.1,559.7 589.9,557.2 589.9,554.7C589.9,552.3 596.1,549.8 596.9,547.3C597.7,544.9 594.7,542.4 594.9,539.9C595.1,537.4 598.3,535.0 598.3,532.5C598.3,530.0 594.7,527.6 594.9,525.1C595.1,522.6 598.3,520.1 599.3,517.7C600.3,515.2 600.5,512.2 600.8,510.2C601.1,508.3 600.9,507.3 601.2,505.8C601.5,504.3 602.1,501.4 602.5,501.4Z"/></clipPath></defs>
<path d="M602.5,501.4C602.9,501.4 603.5,504.3 603.8,505.8C604.1,507.3 603.9,508.3 604.2,510.2C604.5,512.2 604.7,515.2 605.7,517.7C606.7,520.1 609.9,522.6 610.1,525.1C610.3,527.6 606.7,530.0 606.7,532.5C606.7,535.0 609.9,537.4 610.1,539.9C610.3,542.4 607.3,544.9 608.1,547.3C608.9,549.8 615.1,552.3 615.1,554.7C615.1,557.2 608.9,559.7 608.1,562.2C607.3,564.6 610.3,567.1 610.1,569.6C609.9,572.0 606.7,574.5 606.7,577.0C606.7,579.5 610.1,582.3 610.1,584.4C610.1,586.5 607.8,588.1 606.5,589.6C605.2,591.1 603.8,593.6 602.5,593.6C601.2,593.6 599.8,591.1 598.5,589.6C597.2,588.1 594.9,586.5 594.9,584.4C594.9,582.3 598.3,579.5 598.3,577.0C598.3,574.5 595.1,572.0 594.9,569.6C594.7,567.1 597.7,564.6 596.9,562.2C596.1,559.7 589.9,557.2 589.9,554.7C589.9,552.3 596.1,549.8 596.9,547.3C597.7,544.9 594.7,542.4 594.9,539.9C595.1,537.4 598.3,535.0 598.3,532.5C598.3,530.0 594.7,527.6 594.9,525.1C595.1,522.6 598.3,520.1 599.3,517.7C600.3,515.2 600.5,512.2 600.8,510.2C601.1,508.3 600.9,507.3 601.2,505.8C601.5,504.3 602.1,501.4 602.5,501.4Z" fill="#8a9ea5" stroke="#1c1c28" stroke-width="1.7" stroke-linejoin="round"/>
<g clip-path="url(#vf48)" stroke="#1c1c28" stroke-width="1.3"><path d="M586.5,525.1H618.5"/><path d="M586.5,539.9H618.5"/><path d="M586.5,554.7H618.5"/><path d="M586.5,569.6H618.5"/><path d="M586.5,584.4H618.5"/></g>
<defs><clipPath id="vf72"><path d="M632.4,519.1C632.7,519.1 633.1,521.4 633.3,523.6C633.5,525.8 633.4,528.5 633.4,532.5C633.4,536.4 633.4,543.4 633.4,547.3C633.4,551.3 633.4,553.8 633.6,556.2C633.8,558.7 634.0,560.5 634.4,562.2C634.8,563.8 635.6,564.6 636.3,565.9C636.9,567.1 638.4,568.3 638.3,569.6C638.2,570.8 636.5,572.0 635.8,573.3C635.0,574.5 633.6,575.9 633.8,577.0C634.0,578.1 635.5,579.0 636.9,580.0C638.3,580.9 640.9,581.9 642.4,582.6C643.9,583.4 645.8,583.7 645.6,584.4C645.4,585.1 642.9,585.9 641.4,586.6C639.9,587.4 637.9,588.2 636.4,588.8C634.9,589.5 633.7,590.6 632.4,590.6C631.1,590.6 629.9,589.5 628.4,588.8C626.9,588.2 624.9,587.4 623.4,586.6C621.9,585.9 619.4,585.1 619.2,584.4C619.0,583.7 620.9,583.4 622.4,582.6C623.9,581.9 626.5,580.9 627.9,580.0C629.3,579.0 630.8,578.1 631.0,577.0C631.2,575.9 629.8,574.5 629.0,573.3C628.2,572.0 626.6,570.8 626.5,569.6C626.4,568.3 627.9,567.1 628.5,565.9C629.1,564.6 630.0,563.8 630.4,562.2C630.8,560.5 631.0,558.7 631.2,556.2C631.4,553.8 631.4,551.3 631.4,547.3C631.4,543.4 631.4,536.4 631.4,532.5C631.4,528.5 631.3,525.8 631.5,523.6C631.7,521.4 632.1,519.1 632.4,519.1Z"/></clipPath></defs>
<path d="M632.4,519.1C632.7,519.1 633.1,521.4 633.3,523.6C633.5,525.8 633.4,528.5 633.4,532.5C633.4,536.4 633.4,543.4 633.4,547.3C633.4,551.3 633.4,553.8 633.6,556.2C633.8,558.7 634.0,560.5 634.4,562.2C634.8,563.8 635.6,564.6 636.3,565.9C636.9,567.1 638.4,568.3 638.3,569.6C638.2,570.8 636.5,572.0 635.8,573.3C635.0,574.5 633.6,575.9 633.8,577.0C634.0,578.1 635.5,579.0 636.9,580.0C638.3,580.9 640.9,581.9 642.4,582.6C643.9,583.4 645.8,583.7 645.6,584.4C645.4,585.1 642.9,585.9 641.4,586.6C639.9,587.4 637.9,588.2 636.4,588.8C634.9,589.5 633.7,590.6 632.4,590.6C631.1,590.6 629.9,589.5 628.4,588.8C626.9,588.2 624.9,587.4 623.4,586.6C621.9,585.9 619.4,585.1 619.2,584.4C619.0,583.7 620.9,583.4 622.4,582.6C623.9,581.9 626.5,580.9 627.9,580.0C629.3,579.0 630.8,578.1 631.0,577.0C631.2,575.9 629.8,574.5 629.0,573.3C628.2,572.0 626.6,570.8 626.5,569.6C626.4,568.3 627.9,567.1 628.5,565.9C629.1,564.6 630.0,563.8 630.4,562.2C630.8,560.5 631.0,558.7 631.2,556.2C631.4,553.8 631.4,551.3 631.4,547.3C631.4,543.4 631.4,536.4 631.4,532.5C631.4,528.5 631.3,525.8 631.5,523.6C631.7,521.4 632.1,519.1 632.4,519.1Z" fill="#b7cfcc" stroke="#1c1c28" stroke-width="1.7" stroke-linejoin="round"/>
<g clip-path="url(#vf72)" stroke="#1c1c28" stroke-width="1.3"><path d="M616.4,584.4H648.4"/></g>
<path d="M620,569.6H645" stroke="#1c1c28" stroke-width="0.9" stroke-dasharray="2.2,1.2"/>
<path d="M529.2,405.6V596.4H647.2" fill="none" stroke="#222" stroke-width="2.2"/>
<path d="M525.4,406.4H529" stroke="#222" stroke-width="1.6"/>
<text x="517.4" y="411.43999999999994" font-size="13.8" text-anchor="end" fill="#262626">12</text>
<path d="M525.4,436.1H529" stroke="#222" stroke-width="1.6"/>
<text x="517.4" y="441.09999999999997" font-size="13.8" text-anchor="end" fill="#262626">10</text>
<path d="M525.4,465.8H529" stroke="#222" stroke-width="1.6"/>
<text x="517.4" y="470.76" font-size="13.8" text-anchor="end" fill="#262626">8</text>
<path d="M525.4,495.4H529" stroke="#222" stroke-width="1.6"/>
<text x="517.4" y="500.41999999999996" font-size="13.8" text-anchor="end" fill="#262626">6</text>
<path d="M525.4,525.1H529" stroke="#222" stroke-width="1.6"/>
<text x="517.4" y="530.0799999999999" font-size="13.8" text-anchor="end" fill="#262626">4</text>
<path d="M525.4,554.7H529" stroke="#222" stroke-width="1.6"/>
<text x="517.4" y="559.74" font-size="13.8" text-anchor="end" fill="#262626">2</text>
<path d="M525.4,584.4H529" stroke="#222" stroke-width="1.6"/>
<text x="517.4" y="589.4" font-size="13.8" text-anchor="end" fill="#262626">0</text>
<path d="M544.4,596.4V601" stroke="#222" stroke-width="1.6"/>
<text x="544.4" y="619" font-size="15" text-anchor="middle" fill="#262626">M</text>
<path d="M573.7,596.4V601" stroke="#222" stroke-width="1.6"/>
<text x="573.7" y="619" font-size="15" text-anchor="middle" fill="#262626">24</text>
<path d="M602.5,596.4V601" stroke="#222" stroke-width="1.6"/>
<text x="602.5" y="619" font-size="15" text-anchor="middle" fill="#262626">48</text>
<path d="M632.4,596.4V601" stroke="#222" stroke-width="1.6"/>
<text x="632.4" y="619" font-size="15" text-anchor="middle" fill="#262626">72</text>
<text x="503.7" y="503.5" font-size="16.7" text-anchor="middle" fill="#262626" transform="rotate(-90 503.7 503.5)">Events per Cell</text>
<text x="602.5" y="504" font-size="20" text-anchor="middle" fill="#222">***</text>
<text x="632.4" y="524.5" font-size="20" text-anchor="middle" fill="#222">***</text>
<text transform="translate(-0.87,648.9) scale(0.92,1)" font-size="24" font-weight="bold" fill="#000">G</text>
<text x="162.6" y="667.8" font-size="17" font-weight="bold" text-anchor="middle" fill="#262626">OPA1</text>
<polygon points="104.5,762.5 127.9,700.7 151.2,736.0 174.9,784.8 198.6,774.5 222.0,795.9 222.0,827.1 198.6,822.4 174.9,798.7 151.2,759.7 127.9,748.0 104.5,762.5" fill="#a3c6c2" fill-opacity="0.25" stroke="#a3c6c2" stroke-opacity="0.3" stroke-width="0.5"/>
<polygon points="104.5,762.5 127.9,719.3 151.2,737.4 174.9,720.7 198.6,719.3 222.0,711.0 222.0,734.7 198.6,742.4 174.9,741.6 151.2,747.2 127.9,743.0 104.5,762.5" fill="#3a3a58" fill-opacity="0.22" stroke="#3a3a58" stroke-opacity="0.25" stroke-width="0.5"/>
<polygon points="104.5,762.5 127.9,722.0 151.2,738.5 174.9,724.5 198.6,723.5 222.0,716.0 222.0,732.5 198.6,740.5 174.9,739.5 151.2,746.5 127.9,741.0 104.5,762.5" fill="#6a7092" fill-opacity="0.25"/>
<polyline points="104.5,762.5 127.9,724.1 151.2,752.2 174.9,790.6 198.6,803.7 222.0,815.7" fill="none" stroke="#a3c6c2" stroke-width="1.3" stroke-dasharray="1.3,1.3"/>
<polyline points="104.5,762.5 127.9,729.6 151.2,742.4 174.9,729.6 198.6,729.6 222.0,721.3" fill="none" stroke="#3a3a58" stroke-width="1.3"/>
<polyline points="104.5,762.5 127.9,730.6 151.2,742.4 174.9,732.8 198.6,732.8 222.0,725.7" fill="none" stroke="#6a7092" stroke-width="1.2" stroke-dasharray="4,1.6"/>
<rect x="102.6" y="760.6" width="3.8" height="3.8" fill="#a3c6c2" stroke="#fff" stroke-width="0.6"/>
<rect x="126.0" y="722.2" width="3.8" height="3.8" fill="#a3c6c2" stroke="#fff" stroke-width="0.6"/>
<rect x="149.29999999999998" y="750.3000000000001" width="3.8" height="3.8" fill="#a3c6c2" stroke="#fff" stroke-width="0.6"/>
<rect x="173.0" y="788.7" width="3.8" height="3.8" fill="#a3c6c2" stroke="#fff" stroke-width="0.6"/>
<rect x="196.7" y="801.8000000000001" width="3.8" height="3.8" fill="#a3c6c2" stroke="#fff" stroke-width="0.6"/>
<rect x="220.1" y="813.8000000000001" width="3.8" height="3.8" fill="#a3c6c2" stroke="#fff" stroke-width="0.6"/>
<circle cx="127.9" cy="729.6" r="3.4" fill="#fff"/><circle cx="127.9" cy="729.0" r="2.0" fill="#3a3a58"/>
<circle cx="151.2" cy="742.4" r="3.4" fill="#fff"/><circle cx="151.2" cy="741.8" r="2.0" fill="#3a3a58"/>
<circle cx="174.9" cy="729.6" r="3.4" fill="#fff"/><circle cx="174.9" cy="729.0" r="2.0" fill="#3a3a58"/>
<circle cx="198.6" cy="729.6" r="3.4" fill="#fff"/><circle cx="198.6" cy="729.0" r="2.0" fill="#3a3a58"/>
<circle cx="222" cy="721.3" r="3.4" fill="#fff"/><circle cx="222" cy="720.6999999999999" r="2.0" fill="#3a3a58"/>
<circle cx="127.9" cy="730.6" r="3.3" fill="#fff" fill-opacity="0.95"/>
<path d="M126.0,728.7l3.8,3.8M126.0,732.5l3.8,-3.8" stroke="#6a7092" stroke-width="0.9" fill="none"/>
<circle cx="151.2" cy="742.4" r="3.3" fill="#fff" fill-opacity="0.95"/>
<path d="M149.29999999999998,740.5l3.8,3.8M149.29999999999998,744.3l3.8,-3.8" stroke="#6a7092" stroke-width="0.9" fill="none"/>
<circle cx="174.9" cy="732.8" r="3.3" fill="#fff" fill-opacity="0.95"/>
<path d="M173.0,730.9l3.8,3.8M173.0,734.6999999999999l3.8,-3.8" stroke="#6a7092" stroke-width="0.9" fill="none"/>
<circle cx="198.6" cy="732.8" r="3.3" fill="#fff" fill-opacity="0.95"/>
<path d="M196.7,730.9l3.8,3.8M196.7,734.6999999999999l3.8,-3.8" stroke="#6a7092" stroke-width="0.9" fill="none"/>
<circle cx="222" cy="725.7" r="3.3" fill="#fff" fill-opacity="0.95"/>
<path d="M220.1,723.8000000000001l3.8,3.8M220.1,727.6l3.8,-3.8" stroke="#6a7092" stroke-width="0.9" fill="none"/>
<path d="M98.2,676.8V846.6H228.8" fill="none" stroke="#222" stroke-width="2.6"/>
<path d="M94,678.4H98" stroke="#222" stroke-width="1.8"/>
<text x="90.6" y="684.4" font-size="17" text-anchor="end" fill="#262626">1.0</text>
<path d="M94,720.5H98" stroke="#222" stroke-width="1.8"/>
<text x="90.6" y="726.5" font-size="17" text-anchor="end" fill="#262626">0.5</text>
<path d="M94,762.5H98" stroke="#222" stroke-width="1.8"/>
<text x="90.6" y="768.5" font-size="17" text-anchor="end" fill="#262626">0.0</text>
<path d="M94,804.4H98" stroke="#222" stroke-width="1.8"/>
<text x="90.6" y="810.4" font-size="17" text-anchor="end" fill="#262626">−0.5</text>
<path d="M94,846.2H98" stroke="#222" stroke-width="1.8"/>
<text x="90.6" y="852.2" font-size="17" text-anchor="end" fill="#262626">−1.0</text>
<path d="M104.5,846.6V851.5" stroke="#222" stroke-width="1.8"/>
<path d="M127.9,846.6V851.5" stroke="#222" stroke-width="1.8"/>
<path d="M151.2,846.6V851.5" stroke="#222" stroke-width="1.8"/>
<path d="M174.9,846.6V851.5" stroke="#222" stroke-width="1.8"/>
<path d="M198.6,846.6V851.5" stroke="#222" stroke-width="1.8"/>
<path d="M222,846.6V851.5" stroke="#222" stroke-width="1.8"/>
<text x="104.5" y="866" font-size="17" text-anchor="middle" fill="#262626">M</text>
<text x="127.9" y="866" font-size="17" text-anchor="middle" fill="#262626">24</text>
<text x="151.2" y="866" font-size="17" text-anchor="middle" fill="#262626">48</text>
<text x="174.9" y="866" font-size="17" text-anchor="middle" fill="#262626">72</text>
<text x="198.6" y="866" font-size="17" text-anchor="middle" fill="#262626">96</text>
<text x="236.4" y="866" font-size="17" text-anchor="end" fill="#262626">120</text>
<text x="30.6" y="762.5" font-size="17.6" text-anchor="middle" fill="#262626" transform="rotate(-90 30.6 762.5)">Log2 Fold Change</text>
<text x="49.6" y="762.2" font-size="17.7" text-anchor="middle" fill="#262626" transform="rotate(-90 49.6 762.2)">Peptide Abundance/mock</text>
<path d="M105.3,801.5H126.4" stroke="#3a3a58" stroke-width="1.2"/><circle cx="116.4" cy="801.5" r="1.9" fill="#3a3a58"/>
<path d="M105.3,816.8H126.4" stroke="#6a7092" stroke-width="1.1" stroke-dasharray="4,1.6"/><circle cx="116.4" cy="816.8" r="2.4" fill="#fff"/><path d="M114.8,815.2l3.2,3.2M114.8,818.4l3.2,-3.2" stroke="#6a7092" stroke-width="0.8"/>
<path d="M105.3,832.1H126.4" stroke="#a3c6c2" stroke-width="1.2" stroke-dasharray="1.3,1.3"/><rect x="114.7" y="830.4" width="3.4" height="3.4" fill="#a3c6c2"/>
<text x="131.8" y="805.3" font-size="11.1" text-anchor="start" fill="#262626">S-OPA1</text>
<text x="131.8" y="820.6" font-size="11.1" text-anchor="start" fill="#262626">OPA1</text>
<text x="131.8" y="835.8" font-size="11.1" text-anchor="start" fill="#262626">L-OPA1</text>
<text transform="translate(245.03,643.5) scale(0.92,1)" font-size="24" font-weight="bold" fill="#000">H</text>
<text x="379" y="647.2" font-size="19.2" font-weight="bold" text-anchor="middle" fill="#262626">pUL37x1</text>
<defs><clipPath id="vh1"><path d="M310.0,690.0C310.4,690.0 310.9,692.9 311.2,695.0C311.5,697.1 311.7,700.2 311.8,702.8C311.9,705.4 311.8,708.0 311.9,710.6C312.0,713.2 312.2,715.8 312.3,718.4C312.4,721.0 312.2,723.6 312.3,726.1C312.4,728.7 312.5,731.3 312.6,733.9C312.7,736.5 312.5,739.1 313.0,741.7C313.5,744.3 315.3,746.9 315.6,749.5C315.9,752.1 314.2,754.7 314.6,757.3C315.0,759.9 317.6,762.5 318.2,765.1C318.8,767.7 317.3,770.3 318.0,772.9C318.7,775.5 322.5,778.1 322.6,780.7C322.7,783.3 319.3,785.9 318.6,788.5C317.9,791.1 318.4,793.7 318.2,796.3C318.0,798.9 317.5,801.5 317.6,804.0C317.7,806.6 319.4,809.2 319.0,811.8C318.6,814.4 316.1,817.0 315.2,819.6C314.3,822.2 314.2,824.8 313.6,827.4C313.0,830.0 312.2,833.0 311.6,835.2C311.0,837.4 310.5,840.7 310.0,840.7C309.5,840.7 309.0,837.4 308.4,835.2C307.8,833.0 307.0,830.0 306.4,827.4C305.8,824.8 305.7,822.2 304.8,819.6C303.9,817.0 301.4,814.4 301.0,811.8C300.6,809.2 302.3,806.6 302.4,804.0C302.5,801.5 302.0,798.9 301.8,796.3C301.6,793.7 302.1,791.1 301.4,788.5C300.7,785.9 297.3,783.3 297.4,780.7C297.5,778.1 301.3,775.5 302.0,772.9C302.7,770.3 301.2,767.7 301.8,765.1C302.4,762.5 305.0,759.9 305.4,757.3C305.8,754.7 304.1,752.1 304.4,749.5C304.7,746.9 306.5,744.3 307.0,741.7C307.5,739.1 307.3,736.5 307.4,733.9C307.5,731.3 307.6,728.7 307.7,726.1C307.8,723.6 307.6,721.0 307.7,718.4C307.8,715.8 308.0,713.2 308.1,710.6C308.2,708.0 308.1,705.4 308.2,702.8C308.3,700.2 308.5,697.1 308.8,695.0C309.1,692.9 309.6,690.0 310.0,690.0Z"/></clipPath></defs>
<path d="M310.0,690.0C310.4,690.0 310.9,692.9 311.2,695.0C311.5,697.1 311.7,700.2 311.8,702.8C311.9,705.4 311.8,708.0 311.9,710.6C312.0,713.2 312.2,715.8 312.3,718.4C312.4,721.0 312.2,723.6 312.3,726.1C312.4,728.7 312.5,731.3 312.6,733.9C312.7,736.5 312.5,739.1 313.0,741.7C313.5,744.3 315.3,746.9 315.6,749.5C315.9,752.1 314.2,754.7 314.6,757.3C315.0,759.9 317.6,762.5 318.2,765.1C318.8,767.7 317.3,770.3 318.0,772.9C318.7,775.5 322.5,778.1 322.6,780.7C322.7,783.3 319.3,785.9 318.6,788.5C317.9,791.1 318.4,793.7 318.2,796.3C318.0,798.9 317.5,801.5 317.6,804.0C317.7,806.6 319.4,809.2 319.0,811.8C318.6,814.4 316.1,817.0 315.2,819.6C314.3,822.2 314.2,824.8 313.6,827.4C313.0,830.0 312.2,833.0 311.6,835.2C311.0,837.4 310.5,840.7 310.0,840.7C309.5,840.7 309.0,837.4 308.4,835.2C307.8,833.0 307.0,830.0 306.4,827.4C305.8,824.8 305.7,822.2 304.8,819.6C303.9,817.0 301.4,814.4 301.0,811.8C300.6,809.2 302.3,806.6 302.4,804.0C302.5,801.5 302.0,798.9 301.8,796.3C301.6,793.7 302.1,791.1 301.4,788.5C300.7,785.9 297.3,783.3 297.4,780.7C297.5,778.1 301.3,775.5 302.0,772.9C302.7,770.3 301.2,767.7 301.8,765.1C302.4,762.5 305.0,759.9 305.4,757.3C305.8,754.7 304.1,752.1 304.4,749.5C304.7,746.9 306.5,744.3 307.0,741.7C307.5,739.1 307.3,736.5 307.4,733.9C307.5,731.3 307.6,728.7 307.7,726.1C307.8,723.6 307.6,721.0 307.7,718.4C307.8,715.8 308.0,713.2 308.1,710.6C308.2,708.0 308.1,705.4 308.2,702.8C308.3,700.2 308.5,697.1 308.8,695.0C309.1,692.9 309.6,690.0 310.0,690.0Z" fill="#4a4a6a" stroke="#1f1f2b" stroke-width="1.3" stroke-linejoin="round"/>
<g clip-path="url(#vh1)" stroke="#1c1c28" stroke-width="1.3"></g>
<g fill="#93aab8"><circle cx="309.4" cy="702.8" r="0.95"/><circle cx="310.6" cy="702.8" r="0.95"/><circle cx="308.9" cy="718.4" r="0.95"/><circle cx="311.1" cy="718.4" r="0.95"/><circle cx="308.6" cy="733.9" r="0.95"/><circle cx="311.4" cy="733.9" r="0.95"/><circle cx="305.6" cy="749.5" r="0.95"/><circle cx="308.5" cy="749.5" r="0.95"/><circle cx="311.5" cy="749.5" r="0.95"/><circle cx="314.4" cy="749.5" r="0.95"/><circle cx="303.0" cy="765.1" r="0.95"/><circle cx="305.3" cy="765.1" r="0.95"/><circle cx="307.7" cy="765.1" r="0.95"/><circle cx="310.0" cy="765.1" r="0.95"/><circle cx="312.3" cy="765.1" r="0.95"/><circle cx="314.7" cy="765.1" r="0.95"/><circle cx="317.0" cy="765.1" r="0.95"/><circle cx="298.6" cy="780.7" r="0.95"/><circle cx="301.1" cy="780.7" r="0.95"/><circle cx="303.7" cy="780.7" r="0.95"/><circle cx="306.2" cy="780.7" r="0.95"/><circle cx="308.7" cy="780.7" r="0.95"/><circle cx="311.3" cy="780.7" r="0.95"/><circle cx="313.8" cy="780.7" r="0.95"/><circle cx="316.3" cy="780.7" r="0.95"/><circle cx="318.9" cy="780.7" r="0.95"/><circle cx="321.4" cy="780.7" r="0.95"/><circle cx="303.0" cy="796.3" r="0.95"/><circle cx="305.3" cy="796.3" r="0.95"/><circle cx="307.7" cy="796.3" r="0.95"/><circle cx="310.0" cy="796.3" r="0.95"/><circle cx="312.3" cy="796.3" r="0.95"/><circle cx="314.7" cy="796.3" r="0.95"/><circle cx="317.0" cy="796.3" r="0.95"/><circle cx="302.2" cy="811.8" r="0.95"/><circle cx="304.8" cy="811.8" r="0.95"/><circle cx="307.4" cy="811.8" r="0.95"/><circle cx="310.0" cy="811.8" r="0.95"/><circle cx="312.6" cy="811.8" r="0.95"/><circle cx="315.2" cy="811.8" r="0.95"/><circle cx="317.8" cy="811.8" r="0.95"/><circle cx="307.6" cy="827.4" r="0.95"/><circle cx="310.0" cy="827.4" r="0.95"/><circle cx="312.4" cy="827.4" r="0.95"/></g>
<path d="M303,807.9H317" stroke="#1f1f2b" stroke-width="0.8" stroke-dasharray="2,1.2"/>
<defs><clipPath id="vh2"><path d="M333.0,740.8C333.4,740.8 333.9,743.4 334.2,744.8C334.5,746.3 334.8,747.4 334.8,749.5C334.8,751.6 334.2,754.7 334.1,757.3C334.0,759.9 334.0,762.5 334.0,765.1C334.0,767.7 334.0,770.3 334.0,772.9C334.0,775.5 333.9,778.1 334.2,780.7C334.5,783.3 335.2,785.9 336.0,788.5C336.8,791.1 338.5,793.7 339.2,796.3C339.9,798.9 338.9,801.5 340.0,804.0C341.1,806.6 345.6,809.2 345.6,811.8C345.6,814.4 340.6,817.0 340.0,819.6C339.4,822.2 342.3,824.8 342.2,827.4C342.1,830.0 339.0,832.6 339.6,835.2C340.2,837.8 345.5,840.8 345.6,843.0C345.7,845.2 342.1,846.9 340.0,848.5C337.9,850.0 335.3,852.3 333.0,852.3C330.7,852.3 328.1,850.0 326.0,848.5C323.9,846.9 320.3,845.2 320.4,843.0C320.5,840.8 325.8,837.8 326.4,835.2C327.0,832.6 323.9,830.0 323.8,827.4C323.7,824.8 326.6,822.2 326.0,819.6C325.4,817.0 320.4,814.4 320.4,811.8C320.4,809.2 324.9,806.6 326.0,804.0C327.1,801.5 326.1,798.9 326.8,796.3C327.5,793.7 329.2,791.1 330.0,788.5C330.8,785.9 331.5,783.3 331.8,780.7C332.1,778.1 332.0,775.5 332.0,772.9C332.0,770.3 332.0,767.7 332.0,765.1C332.0,762.5 332.0,759.9 331.9,757.3C331.8,754.7 331.2,751.6 331.2,749.5C331.2,747.4 331.5,746.3 331.8,744.8C332.1,743.4 332.6,740.8 333.0,740.8Z"/></clipPath></defs>
<path d="M333.0,740.8C333.4,740.8 333.9,743.4 334.2,744.8C334.5,746.3 334.8,747.4 334.8,749.5C334.8,751.6 334.2,754.7 334.1,757.3C334.0,759.9 334.0,762.5 334.0,765.1C334.0,767.7 334.0,770.3 334.0,772.9C334.0,775.5 333.9,778.1 334.2,780.7C334.5,783.3 335.2,785.9 336.0,788.5C336.8,791.1 338.5,793.7 339.2,796.3C339.9,798.9 338.9,801.5 340.0,804.0C341.1,806.6 345.6,809.2 345.6,811.8C345.6,814.4 340.6,817.0 340.0,819.6C339.4,822.2 342.3,824.8 342.2,827.4C342.1,830.0 339.0,832.6 339.6,835.2C340.2,837.8 345.5,840.8 345.6,843.0C345.7,845.2 342.1,846.9 340.0,848.5C337.9,850.0 335.3,852.3 333.0,852.3C330.7,852.3 328.1,850.0 326.0,848.5C323.9,846.9 320.3,845.2 320.4,843.0C320.5,840.8 325.8,837.8 326.4,835.2C327.0,832.6 323.9,830.0 323.8,827.4C323.7,824.8 326.6,822.2 326.0,819.6C325.4,817.0 320.4,814.4 320.4,811.8C320.4,809.2 324.9,806.6 326.0,804.0C327.1,801.5 326.1,798.9 326.8,796.3C327.5,793.7 329.2,791.1 330.0,788.5C330.8,785.9 331.5,783.3 331.8,780.7C332.1,778.1 332.0,775.5 332.0,772.9C332.0,770.3 332.0,767.7 332.0,765.1C332.0,762.5 332.0,759.9 331.9,757.3C331.8,754.7 331.2,751.6 331.2,749.5C331.2,747.4 331.5,746.3 331.8,744.8C332.1,743.4 332.6,740.8 333.0,740.8Z" fill="#9eb3b7" stroke="#1f1f2b" stroke-width="1.3" stroke-linejoin="round"/>
<g clip-path="url(#vh2)" stroke="#1c1c28" stroke-width="1.3"></g>
<g fill="#6b6f93"><circle cx="332.4" cy="749.5" r="0.95"/><circle cx="333.6" cy="749.5" r="0.95"/><circle cx="328.0" cy="796.3" r="0.95"/><circle cx="330.5" cy="796.3" r="0.95"/><circle cx="333.0" cy="796.3" r="0.95"/><circle cx="335.5" cy="796.3" r="0.95"/><circle cx="338.0" cy="796.3" r="0.95"/><circle cx="321.6" cy="811.8" r="0.95"/><circle cx="324.1" cy="811.8" r="0.95"/><circle cx="326.7" cy="811.8" r="0.95"/><circle cx="329.2" cy="811.8" r="0.95"/><circle cx="331.7" cy="811.8" r="0.95"/><circle cx="334.3" cy="811.8" r="0.95"/><circle cx="336.8" cy="811.8" r="0.95"/><circle cx="339.3" cy="811.8" r="0.95"/><circle cx="341.9" cy="811.8" r="0.95"/><circle cx="344.4" cy="811.8" r="0.95"/><circle cx="325.0" cy="827.4" r="0.95"/><circle cx="327.7" cy="827.4" r="0.95"/><circle cx="330.3" cy="827.4" r="0.95"/><circle cx="333.0" cy="827.4" r="0.95"/><circle cx="335.7" cy="827.4" r="0.95"/><circle cx="338.3" cy="827.4" r="0.95"/><circle cx="341.0" cy="827.4" r="0.95"/><circle cx="321.6" cy="843.0" r="0.95"/><circle cx="324.1" cy="843.0" r="0.95"/><circle cx="326.7" cy="843.0" r="0.95"/><circle cx="329.2" cy="843.0" r="0.95"/><circle cx="331.7" cy="843.0" r="0.95"/><circle cx="334.3" cy="843.0" r="0.95"/><circle cx="336.8" cy="843.0" r="0.95"/><circle cx="339.3" cy="843.0" r="0.95"/><circle cx="341.9" cy="843.0" r="0.95"/><circle cx="344.4" cy="843.0" r="0.95"/></g>
<defs><clipPath id="vh3"><path d="M367.4,791.1C367.8,791.1 368.3,794.1 368.6,796.3C368.9,798.4 368.3,801.5 369.0,804.0C369.7,806.6 372.8,809.2 373.0,811.8C373.2,814.4 369.3,817.0 370.4,819.6C371.5,822.2 379.7,824.8 379.6,827.4C379.5,830.0 371.0,832.6 370.0,835.2C369.0,837.8 373.5,841.1 373.6,843.0C373.7,844.9 371.4,845.8 370.4,846.9C369.4,848.0 368.4,849.5 367.4,849.5C366.4,849.5 365.4,848.0 364.4,846.9C363.4,845.8 361.1,844.9 361.2,843.0C361.3,841.1 365.8,837.8 364.8,835.2C363.8,832.6 355.3,830.0 355.2,827.4C355.1,824.8 363.3,822.2 364.4,819.6C365.5,817.0 361.6,814.4 361.8,811.8C362.0,809.2 365.1,806.6 365.8,804.0C366.5,801.5 365.9,798.4 366.2,796.3C366.5,794.1 367.0,791.1 367.4,791.1Z"/></clipPath></defs>
<path d="M367.4,791.1C367.8,791.1 368.3,794.1 368.6,796.3C368.9,798.4 368.3,801.5 369.0,804.0C369.7,806.6 372.8,809.2 373.0,811.8C373.2,814.4 369.3,817.0 370.4,819.6C371.5,822.2 379.7,824.8 379.6,827.4C379.5,830.0 371.0,832.6 370.0,835.2C369.0,837.8 373.5,841.1 373.6,843.0C373.7,844.9 371.4,845.8 370.4,846.9C369.4,848.0 368.4,849.5 367.4,849.5C366.4,849.5 365.4,848.0 364.4,846.9C363.4,845.8 361.1,844.9 361.2,843.0C361.3,841.1 365.8,837.8 364.8,835.2C363.8,832.6 355.3,830.0 355.2,827.4C355.1,824.8 363.3,822.2 364.4,819.6C365.5,817.0 361.6,814.4 361.8,811.8C362.0,809.2 365.1,806.6 365.8,804.0C366.5,801.5 365.9,798.4 366.2,796.3C366.5,794.1 367.0,791.1 367.4,791.1Z" fill="#4a4a6a" stroke="#1f1f2b" stroke-width="1.3" stroke-linejoin="round"/>
<g clip-path="url(#vh3)" stroke="#1c1c28" stroke-width="1.3"></g>
<g fill="#93aab8"><circle cx="367.4" cy="796.3" r="0.95"/><circle cx="363.0" cy="811.8" r="0.95"/><circle cx="365.9" cy="811.8" r="0.95"/><circle cx="368.9" cy="811.8" r="0.95"/><circle cx="371.8" cy="811.8" r="0.95"/><circle cx="356.4" cy="827.4" r="0.95"/><circle cx="358.8" cy="827.4" r="0.95"/><circle cx="361.3" cy="827.4" r="0.95"/><circle cx="363.7" cy="827.4" r="0.95"/><circle cx="366.2" cy="827.4" r="0.95"/><circle cx="368.6" cy="827.4" r="0.95"/><circle cx="371.1" cy="827.4" r="0.95"/><circle cx="373.5" cy="827.4" r="0.95"/><circle cx="376.0" cy="827.4" r="0.95"/><circle cx="378.4" cy="827.4" r="0.95"/><circle cx="362.4" cy="843.0" r="0.95"/><circle cx="364.9" cy="843.0" r="0.95"/><circle cx="367.4" cy="843.0" r="0.95"/><circle cx="369.9" cy="843.0" r="0.95"/><circle cx="372.4" cy="843.0" r="0.95"/></g>
<path d="M357,811.8H362M354,827.4H358M357,843.0H362" stroke="#93aab8" stroke-width="1" stroke-dasharray="1.2,1"/>
<defs><clipPath id="vh4"><path d="M390.1,773.7C390.5,773.7 391.0,776.4 391.3,777.6C391.6,778.7 391.9,778.9 391.9,780.7C391.9,782.5 391.3,785.9 391.4,788.5C391.5,791.1 392.0,793.7 392.3,796.3C392.6,798.9 392.0,801.5 393.1,804.0C394.2,806.6 398.4,809.2 398.7,811.8C399.0,814.4 394.4,817.0 395.1,819.6C395.8,822.2 402.9,824.8 402.7,827.4C402.5,830.0 394.5,832.6 393.7,835.2C392.9,837.8 397.7,840.9 397.7,843.0C397.7,845.1 394.9,846.4 393.6,847.7C392.3,849.0 391.3,850.8 390.1,850.8C388.9,850.8 387.9,849.0 386.6,847.7C385.3,846.4 382.5,845.1 382.5,843.0C382.5,840.9 387.3,837.8 386.5,835.2C385.7,832.6 377.7,830.0 377.5,827.4C377.3,824.8 384.4,822.2 385.1,819.6C385.8,817.0 381.2,814.4 381.5,811.8C381.8,809.2 386.0,806.6 387.1,804.0C388.2,801.5 387.6,798.9 387.9,796.3C388.2,793.7 388.7,791.1 388.8,788.5C388.9,785.9 388.3,782.5 388.3,780.7C388.3,778.9 388.6,778.7 388.9,777.6C389.2,776.4 389.7,773.7 390.1,773.7Z"/></clipPath></defs>
<path d="M390.1,773.7C390.5,773.7 391.0,776.4 391.3,777.6C391.6,778.7 391.9,778.9 391.9,780.7C391.9,782.5 391.3,785.9 391.4,788.5C391.5,791.1 392.0,793.7 392.3,796.3C392.6,798.9 392.0,801.5 393.1,804.0C394.2,806.6 398.4,809.2 398.7,811.8C399.0,814.4 394.4,817.0 395.1,819.6C395.8,822.2 402.9,824.8 402.7,827.4C402.5,830.0 394.5,832.6 393.7,835.2C392.9,837.8 397.7,840.9 397.7,843.0C397.7,845.1 394.9,846.4 393.6,847.7C392.3,849.0 391.3,850.8 390.1,850.8C388.9,850.8 387.9,849.0 386.6,847.7C385.3,846.4 382.5,845.1 382.5,843.0C382.5,840.9 387.3,837.8 386.5,835.2C385.7,832.6 377.7,830.0 377.5,827.4C377.3,824.8 384.4,822.2 385.1,819.6C385.8,817.0 381.2,814.4 381.5,811.8C381.8,809.2 386.0,806.6 387.1,804.0C388.2,801.5 387.6,798.9 387.9,796.3C388.2,793.7 388.7,791.1 388.8,788.5C388.9,785.9 388.3,782.5 388.3,780.7C388.3,778.9 388.6,778.7 388.9,777.6C389.2,776.4 389.7,773.7 390.1,773.7Z" fill="#9eb3b7" stroke="#1f1f2b" stroke-width="1.3" stroke-linejoin="round"/>
<g clip-path="url(#vh4)" stroke="#1c1c28" stroke-width="1.3"></g>
<g fill="#6b6f93"><circle cx="389.5" cy="780.7" r="0.95"/><circle cx="390.7" cy="780.7" r="0.95"/><circle cx="389.1" cy="796.3" r="0.95"/><circle cx="391.1" cy="796.3" r="0.95"/><circle cx="382.7" cy="811.8" r="0.95"/><circle cx="385.2" cy="811.8" r="0.95"/><circle cx="387.6" cy="811.8" r="0.95"/><circle cx="390.1" cy="811.8" r="0.95"/><circle cx="392.6" cy="811.8" r="0.95"/><circle cx="395.0" cy="811.8" r="0.95"/><circle cx="397.5" cy="811.8" r="0.95"/><circle cx="378.7" cy="827.4" r="0.95"/><circle cx="381.2" cy="827.4" r="0.95"/><circle cx="383.8" cy="827.4" r="0.95"/><circle cx="386.3" cy="827.4" r="0.95"/><circle cx="388.8" cy="827.4" r="0.95"/><circle cx="391.4" cy="827.4" r="0.95"/><circle cx="393.9" cy="827.4" r="0.95"/><circle cx="396.4" cy="827.4" r="0.95"/><circle cx="399.0" cy="827.4" r="0.95"/><circle cx="401.5" cy="827.4" r="0.95"/><circle cx="383.7" cy="843.0" r="0.95"/><circle cx="386.3" cy="843.0" r="0.95"/><circle cx="388.8" cy="843.0" r="0.95"/><circle cx="391.4" cy="843.0" r="0.95"/><circle cx="393.9" cy="843.0" r="0.95"/><circle cx="396.5" cy="843.0" r="0.95"/></g>
<path d="M379,811.8H401M376,827.4H404M380,843.0H400" stroke="#6b6f93" stroke-width="0.9" stroke-dasharray="1.2,1"/>
<defs><clipPath id="vh5"><path d="M425.0,724.6C425.7,724.6 426.5,727.7 427.2,729.3C427.9,730.8 428.9,731.9 429.0,733.9C429.1,736.0 427.2,739.1 427.6,741.7C428.0,744.3 431.4,746.9 431.6,749.5C431.8,752.1 428.9,754.7 429.0,757.3C429.1,759.9 431.4,762.5 432.0,765.1C432.6,767.7 431.7,770.3 432.6,772.9C433.5,775.5 437.2,778.1 437.6,780.7C438.0,783.3 435.1,785.9 435.0,788.5C434.9,791.1 437.9,793.7 437.2,796.3C436.5,798.9 432.5,801.5 431.0,804.0C429.5,806.6 428.7,809.2 428.0,811.8C427.3,814.4 427.0,817.0 426.8,819.6C426.6,822.2 426.9,824.5 426.6,827.4C426.3,830.3 425.5,837.1 425.0,837.1C424.5,837.1 423.7,830.3 423.4,827.4C423.1,824.5 423.4,822.2 423.2,819.6C423.0,817.0 422.7,814.4 422.0,811.8C421.3,809.2 420.5,806.6 419.0,804.0C417.5,801.5 413.5,798.9 412.8,796.3C412.1,793.7 415.1,791.1 415.0,788.5C414.9,785.9 412.0,783.3 412.4,780.7C412.8,778.1 416.5,775.5 417.4,772.9C418.3,770.3 417.4,767.7 418.0,765.1C418.6,762.5 420.9,759.9 421.0,757.3C421.1,754.7 418.2,752.1 418.4,749.5C418.6,746.9 422.0,744.3 422.4,741.7C422.8,739.1 420.9,736.0 421.0,733.9C421.1,731.9 422.1,730.8 422.8,729.3C423.5,727.7 424.3,724.6 425.0,724.6Z"/></clipPath></defs>
<path d="M425.0,724.6C425.7,724.6 426.5,727.7 427.2,729.3C427.9,730.8 428.9,731.9 429.0,733.9C429.1,736.0 427.2,739.1 427.6,741.7C428.0,744.3 431.4,746.9 431.6,749.5C431.8,752.1 428.9,754.7 429.0,757.3C429.1,759.9 431.4,762.5 432.0,765.1C432.6,767.7 431.7,770.3 432.6,772.9C433.5,775.5 437.2,778.1 437.6,780.7C438.0,783.3 435.1,785.9 435.0,788.5C434.9,791.1 437.9,793.7 437.2,796.3C436.5,798.9 432.5,801.5 431.0,804.0C429.5,806.6 428.7,809.2 428.0,811.8C427.3,814.4 427.0,817.0 426.8,819.6C426.6,822.2 426.9,824.5 426.6,827.4C426.3,830.3 425.5,837.1 425.0,837.1C424.5,837.1 423.7,830.3 423.4,827.4C423.1,824.5 423.4,822.2 423.2,819.6C423.0,817.0 422.7,814.4 422.0,811.8C421.3,809.2 420.5,806.6 419.0,804.0C417.5,801.5 413.5,798.9 412.8,796.3C412.1,793.7 415.1,791.1 415.0,788.5C414.9,785.9 412.0,783.3 412.4,780.7C412.8,778.1 416.5,775.5 417.4,772.9C418.3,770.3 417.4,767.7 418.0,765.1C418.6,762.5 420.9,759.9 421.0,757.3C421.1,754.7 418.2,752.1 418.4,749.5C418.6,746.9 422.0,744.3 422.4,741.7C422.8,739.1 420.9,736.0 421.0,733.9C421.1,731.9 422.1,730.8 422.8,729.3C423.5,727.7 424.3,724.6 425.0,724.6Z" fill="#4a4a6a" stroke="#1f1f2b" stroke-width="1.3" stroke-linejoin="round"/>
<g clip-path="url(#vh5)" stroke="#1c1c28" stroke-width="1.3"></g>
<g fill="#93aab8"><circle cx="422.2" cy="733.9" r="0.95"/><circle cx="425.0" cy="733.9" r="0.95"/><circle cx="427.8" cy="733.9" r="0.95"/><circle cx="419.6" cy="749.5" r="0.95"/><circle cx="422.3" cy="749.5" r="0.95"/><circle cx="425.0" cy="749.5" r="0.95"/><circle cx="427.7" cy="749.5" r="0.95"/><circle cx="430.4" cy="749.5" r="0.95"/><circle cx="419.2" cy="765.1" r="0.95"/><circle cx="421.5" cy="765.1" r="0.95"/><circle cx="423.8" cy="765.1" r="0.95"/><circle cx="426.2" cy="765.1" r="0.95"/><circle cx="428.5" cy="765.1" r="0.95"/><circle cx="430.8" cy="765.1" r="0.95"/><circle cx="413.6" cy="780.7" r="0.95"/><circle cx="416.1" cy="780.7" r="0.95"/><circle cx="418.7" cy="780.7" r="0.95"/><circle cx="421.2" cy="780.7" r="0.95"/><circle cx="423.7" cy="780.7" r="0.95"/><circle cx="426.3" cy="780.7" r="0.95"/><circle cx="428.8" cy="780.7" r="0.95"/><circle cx="431.3" cy="780.7" r="0.95"/><circle cx="433.9" cy="780.7" r="0.95"/><circle cx="436.4" cy="780.7" r="0.95"/><circle cx="414.0" cy="796.3" r="0.95"/><circle cx="416.4" cy="796.3" r="0.95"/><circle cx="418.9" cy="796.3" r="0.95"/><circle cx="421.3" cy="796.3" r="0.95"/><circle cx="423.8" cy="796.3" r="0.95"/><circle cx="426.2" cy="796.3" r="0.95"/><circle cx="428.7" cy="796.3" r="0.95"/><circle cx="431.1" cy="796.3" r="0.95"/><circle cx="433.6" cy="796.3" r="0.95"/><circle cx="436.0" cy="796.3" r="0.95"/><circle cx="423.2" cy="811.8" r="0.95"/><circle cx="426.8" cy="811.8" r="0.95"/><circle cx="424.6" cy="827.4" r="0.95"/><circle cx="425.4" cy="827.4" r="0.95"/></g>
<defs><clipPath id="vh6"><path d="M448.0,788.9C448.8,788.9 449.8,791.9 450.5,793.1C451.2,794.4 452.1,794.4 452.0,796.3C451.9,798.1 449.8,801.5 450.0,804.0C450.2,806.6 452.9,809.2 453.0,811.8C453.1,814.4 449.9,817.0 450.5,819.6C451.1,822.2 456.2,824.8 456.6,827.4C457.0,830.0 451.9,832.6 452.6,835.2C453.3,837.8 460.0,840.9 460.6,843.0C461.2,845.1 458.1,846.4 456.0,847.7C453.9,849.0 450.7,850.8 448.0,850.8C445.3,850.8 442.1,849.0 440.0,847.7C437.9,846.4 434.8,845.1 435.4,843.0C436.0,840.9 442.7,837.8 443.4,835.2C444.1,832.6 439.0,830.0 439.4,827.4C439.8,824.8 444.9,822.2 445.5,819.6C446.1,817.0 442.9,814.4 443.0,811.8C443.1,809.2 445.8,806.6 446.0,804.0C446.2,801.5 444.1,798.1 444.0,796.3C443.9,794.4 444.8,794.4 445.5,793.1C446.2,791.9 447.2,788.9 448.0,788.9Z"/></clipPath></defs>
<path d="M448.0,788.9C448.8,788.9 449.8,791.9 450.5,793.1C451.2,794.4 452.1,794.4 452.0,796.3C451.9,798.1 449.8,801.5 450.0,804.0C450.2,806.6 452.9,809.2 453.0,811.8C453.1,814.4 449.9,817.0 450.5,819.6C451.1,822.2 456.2,824.8 456.6,827.4C457.0,830.0 451.9,832.6 452.6,835.2C453.3,837.8 460.0,840.9 460.6,843.0C461.2,845.1 458.1,846.4 456.0,847.7C453.9,849.0 450.7,850.8 448.0,850.8C445.3,850.8 442.1,849.0 440.0,847.7C437.9,846.4 434.8,845.1 435.4,843.0C436.0,840.9 442.7,837.8 443.4,835.2C444.1,832.6 439.0,830.0 439.4,827.4C439.8,824.8 444.9,822.2 445.5,819.6C446.1,817.0 442.9,814.4 443.0,811.8C443.1,809.2 445.8,806.6 446.0,804.0C446.2,801.5 444.1,798.1 444.0,796.3C443.9,794.4 444.8,794.4 445.5,793.1C446.2,791.9 447.2,788.9 448.0,788.9Z" fill="#9eb3b7" stroke="#1f1f2b" stroke-width="1.3" stroke-linejoin="round"/>
<g clip-path="url(#vh6)" stroke="#1c1c28" stroke-width="1.3"></g>
<g fill="#6b6f93"><circle cx="445.2" cy="796.3" r="0.95"/><circle cx="448.0" cy="796.3" r="0.95"/><circle cx="450.8" cy="796.3" r="0.95"/><circle cx="444.2" cy="811.8" r="0.95"/><circle cx="446.7" cy="811.8" r="0.95"/><circle cx="449.3" cy="811.8" r="0.95"/><circle cx="451.8" cy="811.8" r="0.95"/><circle cx="440.6" cy="827.4" r="0.95"/><circle cx="443.1" cy="827.4" r="0.95"/><circle cx="445.5" cy="827.4" r="0.95"/><circle cx="448.0" cy="827.4" r="0.95"/><circle cx="450.5" cy="827.4" r="0.95"/><circle cx="452.9" cy="827.4" r="0.95"/><circle cx="455.4" cy="827.4" r="0.95"/><circle cx="436.6" cy="843.0" r="0.95"/><circle cx="439.1" cy="843.0" r="0.95"/><circle cx="441.7" cy="843.0" r="0.95"/><circle cx="444.2" cy="843.0" r="0.95"/><circle cx="446.7" cy="843.0" r="0.95"/><circle cx="449.3" cy="843.0" r="0.95"/><circle cx="451.8" cy="843.0" r="0.95"/><circle cx="454.3" cy="843.0" r="0.95"/><circle cx="456.9" cy="843.0" r="0.95"/><circle cx="459.4" cy="843.0" r="0.95"/></g>
<path d="M440,796.3H456M441,811.8H455M437,827.4H459" stroke="#6b6f93" stroke-width="0.9" stroke-dasharray="1.2,1"/>
<path d="M292.6,654.3V854H465" fill="none" stroke="#222" stroke-width="1.8"/>
<path d="M288.6,656.0H292.6" stroke="#222" stroke-width="1.3"/>
<text x="287.2" y="660.4399999999999" font-size="12.2" text-anchor="end" fill="#262626">12</text>
<path d="M288.6,687.2H292.6" stroke="#222" stroke-width="1.3"/>
<text x="287.2" y="691.6" font-size="12.2" text-anchor="end" fill="#262626">10</text>
<path d="M288.6,718.4H292.6" stroke="#222" stroke-width="1.3"/>
<text x="287.2" y="722.76" font-size="12.2" text-anchor="end" fill="#262626">8</text>
<path d="M288.6,749.5H292.6" stroke="#222" stroke-width="1.3"/>
<text x="287.2" y="753.92" font-size="12.2" text-anchor="end" fill="#262626">6</text>
<path d="M288.6,780.7H292.6" stroke="#222" stroke-width="1.3"/>
<text x="287.2" y="785.0799999999999" font-size="12.2" text-anchor="end" fill="#262626">4</text>
<path d="M288.6,811.8H292.6" stroke="#222" stroke-width="1.3"/>
<text x="287.2" y="816.24" font-size="12.2" text-anchor="end" fill="#262626">2</text>
<path d="M288.6,843.0H292.6" stroke="#222" stroke-width="1.3"/>
<text x="287.2" y="847.4" font-size="12.2" text-anchor="end" fill="#262626">0</text>
<path d="M321.1,854V857.6" stroke="#222" stroke-width="1.3"/>
<path d="M378.8,854V857.6" stroke="#222" stroke-width="1.3"/>
<path d="M436.2,854V857.6" stroke="#222" stroke-width="1.3"/>
<text x="296.1" y="866.6" font-size="13.2" text-anchor="start" fill="#262626">Midzone</text>
<text x="349.4" y="866.6" font-size="12.95" text-anchor="start" fill="#262626">Peripheral</text>
<text x="416.8" y="866.6" font-size="12.9" text-anchor="start" fill="#262626">Fusion</text>
<path d="M295.5,872.3H411.2" stroke="#111" stroke-width="1.3"/>
<text x="332.7" y="885.2" font-size="13.1" text-anchor="start" fill="#111">Fission</text>
<text x="269" y="755" font-size="15.75" text-anchor="middle" fill="#262626" transform="rotate(-90 269 755)">Events per cell</text>
<text x="310" y="689.3" font-size="18.7" text-anchor="middle" fill="#222">***</text>
<text x="425" y="717.3" font-size="18.7" text-anchor="middle" fill="#222">***</text>
<rect x="342.6" y="665.6" width="11" height="11" fill="#4a4a6a" stroke="#1f1f2b" stroke-width="0.9"/>
<rect x="342.6" y="684.2" width="11" height="11" fill="#9eb3b7" stroke="#1f1f2b" stroke-width="0.9"/>
<text x="356.7" y="675.3" font-size="13.45" text-anchor="start" fill="#111">OMP25 (Ctrl)</text>
<text x="355.2" y="693.6" font-size="13.35" text-anchor="start" fill="#111">pUL37x1</text>
<rect x="504" y="627" width="4.1" height="16.6" fill="#000"/>
<text x="609.5" y="645.7" font-size="17.3" font-weight="bold" text-anchor="middle" fill="#000">OPA1</text>
<rect x="559.4" y="663.5" width="28.1" height="186.6" fill="#adc6c6" stroke="#15151c" stroke-width="1"/>
<rect x="594.6" y="788.4" width="28.0" height="61.7" fill="#737a8c" stroke="#15151c" stroke-width="1"/>
<rect x="629.7" y="695.3" width="28.4" height="154.8" fill="#3b3b4d" stroke="#15151c" stroke-width="1"/>
<path d="M608.7,777.1V799.9M606.9,777.1H610.5M606.9,799.9H610.5" stroke="#15151c" stroke-width="0.9" fill="none"/>
<path d="M573.4,662.6V664.2M571.4,663.3H575.4" stroke="#15151c" stroke-width="0.8" fill="none"/>
<path d="M643.9,693.6V696.6M641.9,694.2H645.9" stroke="#15151c" stroke-width="0.9" fill="none"/><circle cx="643.9" cy="695.4" r="1" fill="#15151c"/>
<path d="M556.2,652.8V850.1H662" fill="none" stroke="#222" stroke-width="1.6"/>
<path d="M552,653.7H556" stroke="#222" stroke-width="1.1"/>
<text x="549.8" y="657.5" font-size="10.6" text-anchor="end" fill="#262626">4.0</text>
<path d="M552,678.2H556" stroke="#222" stroke-width="1.1"/>
<text x="549.8" y="682.05" font-size="10.6" text-anchor="end" fill="#262626">3.5</text>
<path d="M552,702.8H556" stroke="#222" stroke-width="1.1"/>
<text x="549.8" y="706.6" font-size="10.6" text-anchor="end" fill="#262626">3.0</text>
<path d="M552,727.4H556" stroke="#222" stroke-width="1.1"/>
<text x="549.8" y="731.15" font-size="10.6" text-anchor="end" fill="#262626">2.5</text>
<path d="M552,751.9H556" stroke="#222" stroke-width="1.1"/>
<text x="549.8" y="755.7" font-size="10.6" text-anchor="end" fill="#262626">2.0</text>
<path d="M552,776.5H556" stroke="#222" stroke-width="1.1"/>
<text x="549.8" y="780.25" font-size="10.6" text-anchor="end" fill="#262626">1.5</text>
<path d="M552,801.0H556" stroke="#222" stroke-width="1.1"/>
<text x="549.8" y="804.8" font-size="10.6" text-anchor="end" fill="#262626">1.0</text>
<path d="M552,825.6H556" stroke="#222" stroke-width="1.1"/>
<text x="549.8" y="829.35" font-size="10.6" text-anchor="end" fill="#262626">0.5</text>
<path d="M552,850.1H556" stroke="#222" stroke-width="1.1"/>
<text x="549.8" y="853.9" font-size="10.6" text-anchor="end" fill="#262626">0.0</text>
<path d="M572.9,850.1V853.4" stroke="#222" stroke-width="1.1"/>
<path d="M608.8,850.1V853.4" stroke="#222" stroke-width="1.1"/>
<path d="M643.8,850.1V853.4" stroke="#222" stroke-width="1.1"/>
<text x="532.8" y="752.3" font-size="11.2" text-anchor="middle" fill="#262626" transform="rotate(-90 532.8 752.3)">MS1 Normalized Abundance</text>
<text transform="translate(589.3,861.4) rotate(-22)" text-anchor="end" font-size="10.8" fill="#111">OMP25</text>
<text transform="translate(623.2,861.2) rotate(-22)" text-anchor="end" font-size="10.8" fill="#111">pUL37x1</text>
<text transform="translate(658.7,860.7) rotate(-22)" text-anchor="end" font-size="10.8" fill="#111">pUL37x1</text>
<text transform="translate(663.6,869.8) rotate(-22)" text-anchor="end" font-size="10.8" fill="#111">(ΔTM)</text>
</g>
</svg>
</body></html>
